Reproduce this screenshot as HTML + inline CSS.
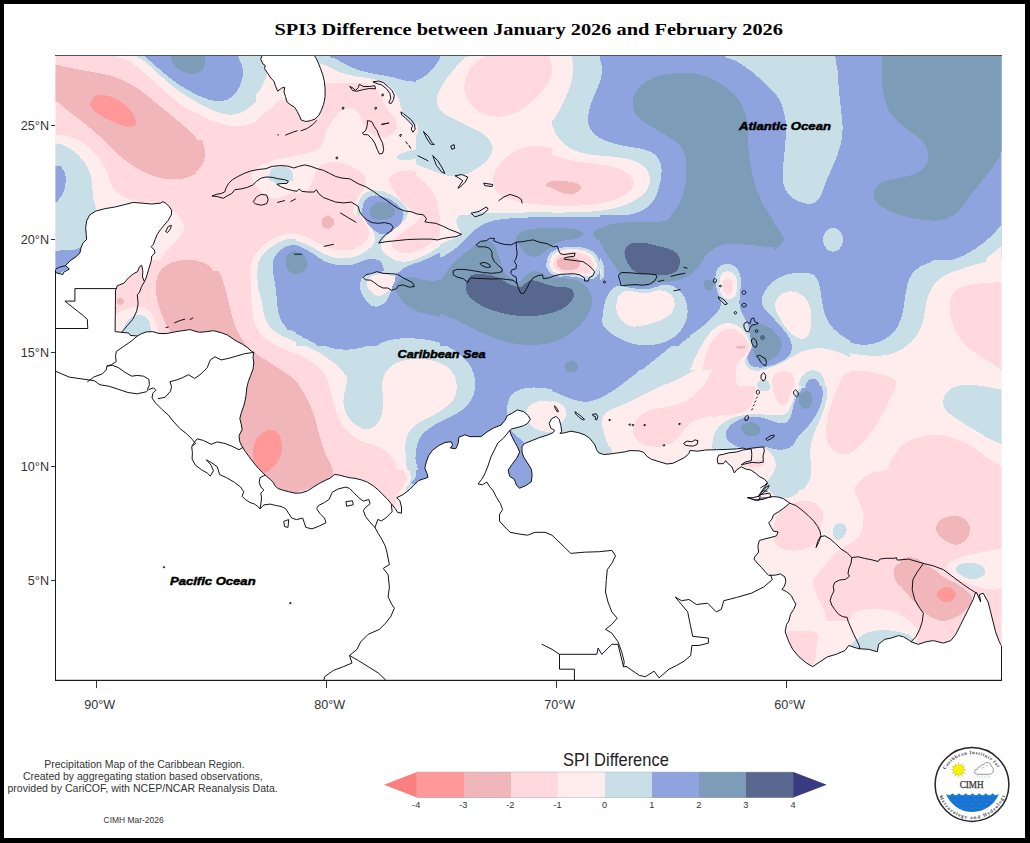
<!DOCTYPE html><html><head><meta charset="utf-8"><title>SPI3 Difference</title>
<style>html,body{margin:0;padding:0;background:#fff;}body{width:1030px;height:843px;overflow:hidden;font-family:"Liberation Sans",sans-serif;}svg{display:block}text{font-family:"Liberation Sans",sans-serif}</style></head><body>
<svg width="1030" height="843" viewBox="0 0 1030 843">
<rect x="0" y="0" width="1030" height="843" fill="#fff"/>
<defs><clipPath id="mapclip"><rect x="55.5" y="55.5" width="946" height="625"/></clipPath><clipPath id="cA"><rect x="40" y="50" width="256" height="210"/></clipPath><clipPath id="cB"><rect x="296" y="50" width="256" height="210"/></clipPath><clipPath id="cC"><rect x="552" y="50" width="256" height="210"/></clipPath><clipPath id="cD"><rect x="774" y="50" width="256" height="210"/></clipPath><clipPath id="cE"><rect x="40" y="260" width="256" height="210"/></clipPath><clipPath id="cF"><rect x="296" y="260" width="256" height="210"/></clipPath><clipPath id="cG"><rect x="552" y="260" width="256" height="210"/></clipPath><clipPath id="cH"><rect x="774" y="260" width="256" height="210"/></clipPath><clipPath id="cI"><rect x="40" y="470" width="256" height="210"/></clipPath><clipPath id="cJ"><rect x="296" y="470" width="256" height="210"/></clipPath><clipPath id="cK"><rect x="552" y="470" width="256" height="210"/></clipPath><clipPath id="cL"><rect x="774" y="470" width="256" height="210"/></clipPath><clipPath id="cPR"><rect x="590" y="215" width="160" height="131"/></clipPath><clipPath id="cG2"><rect x="690" y="255" width="160" height="131"/></clipPath><clipPath id="cG3"><rect x="690" y="386" width="160" height="131"/></clipPath><clipPath id="cG4"><rect x="552" y="370" width="160" height="131"/></clipPath><clipPath id="cWC"><rect x="196" y="140" width="100" height="131"/></clipPath><clipPath id="cJM"><rect x="296" y="215" width="160" height="131"/></clipPath><clipPath id="cHS"><rect x="440" y="215" width="160" height="131"/></clipPath><clipPath id="cL2"><rect x="740" y="490" width="160" height="131"/></clipPath><clipPath id="cW1"><rect x="245" y="235" width="51" height="95"/></clipPath><clipPath id="cFL"><rect x="256" y="56" width="160" height="125"/></clipPath></defs>
<g clip-path="url(#mapclip)" shape-rendering="crispEdges">
<g clip-path="url(#cA)">
<rect x="39" y="49" width="258" height="212" fill="#ffd9de"/>
<path d="M25.1,63.7C30.1,57.9 48.8,64.4 55.4,64.9C62.1,65.5 60.8,66.1 64.9,66.9C69.0,67.8 74.9,69.0 79.8,69.9C84.8,70.8 89.4,71.4 94.8,72.4C100.2,73.4 107.2,74.7 112.2,76.1C117.2,77.6 120.1,78.8 124.7,81.1C129.2,83.4 135.0,86.7 139.6,89.8C144.2,93.0 147.9,96.5 152.1,99.8C156.2,103.1 159.9,106.0 164.5,109.8C169.1,113.5 174.5,117.9 179.4,122.2C184.4,126.6 190.4,131.5 194.4,135.9C198.3,140.3 201.4,144.8 203.1,148.4C204.8,151.9 205.0,154.0 204.8,157.1C204.6,160.2 203.6,164.1 201.9,167.0C200.1,169.9 197.3,172.6 194.4,174.5C191.5,176.4 187.7,177.4 184.4,178.2C181.1,179.1 178.2,179.5 174.5,179.5C170.7,179.5 166.2,179.1 162.0,178.2C157.9,177.4 153.3,176.0 149.6,174.5C145.8,173.0 142.9,171.4 139.6,169.5C136.3,167.7 133.0,165.6 129.6,163.3C126.3,161.0 122.6,158.3 119.7,155.8C116.8,153.3 114.7,150.8 112.2,148.4C109.7,145.9 107.6,143.6 104.7,140.9C101.8,138.2 98.1,135.1 94.8,132.2C91.5,129.3 88.1,126.2 84.8,123.5C81.5,120.8 78.2,118.5 74.9,116.0C71.5,113.5 68.1,110.9 64.9,108.5C61.7,106.1 62.1,103.0 55.4,101.5C48.8,100.1 30.1,106.1 25.1,99.8C20.0,93.5 20.0,69.5 25.1,63.7Z" fill="#f0b6b9"/>
<path d="M90.5,103.5C91.0,101.9 91.8,98.8 93.5,97.3C95.3,95.9 97.9,94.8 101.0,94.8C104.1,94.8 108.5,95.9 112.2,97.3C115.9,98.8 120.1,101.0 123.4,103.5C126.7,106.0 130.1,109.3 132.1,112.3C134.2,115.2 135.5,118.7 135.9,121.0C136.3,123.2 136.1,125.0 134.6,125.9C133.2,126.9 130.1,127.1 127.2,126.7C124.2,126.3 120.7,124.8 117.2,123.5C113.7,122.1 109.5,120.3 106.0,118.5C102.5,116.6 98.5,114.1 96.0,112.3C93.5,110.4 92.0,108.7 91.0,107.3C90.1,105.8 90.1,105.2 90.5,103.5Z" fill="#ff9999"/>
<path d="M115.7,35.1C83.1,38.4 113.8,50.8 115.7,55.0C117.6,59.1 123.2,57.7 127.2,60.0C131.1,62.2 135.5,65.4 139.6,68.7C143.8,72.0 147.9,76.1 152.1,79.9C156.2,83.6 159.9,87.1 164.5,91.1C169.1,95.0 174.5,100.0 179.4,103.5C184.4,107.1 189.4,109.6 194.4,112.3C199.4,114.9 204.3,117.6 209.3,119.7C214.3,121.8 219.3,123.7 224.3,124.7C229.2,125.7 234.6,126.2 239.2,125.9C243.8,125.7 247.5,124.9 251.7,123.5C255.8,122.0 260.0,119.7 264.1,117.2C268.3,114.7 272.8,110.8 276.6,108.5C280.3,106.2 280.7,105.4 286.5,103.5C292.3,101.7 307.3,108.7 311.4,97.3C315.6,85.9 344.0,45.4 311.4,35.1C278.8,24.7 148.3,31.7 115.7,35.1Z" fill="#ffecec"/>
<path d="M135.6,35.1C106.3,38.4 134.1,50.6 135.6,55.0C137.1,59.3 141.0,58.3 144.6,61.2C148.2,64.1 152.9,68.7 157.0,72.4C161.2,76.1 164.9,79.9 169.5,83.6C174.0,87.4 179.4,91.5 184.4,94.8C189.4,98.1 194.4,100.8 199.4,103.5C204.3,106.2 209.3,109.1 214.3,111.0C219.3,112.9 224.7,114.5 229.2,114.7C233.8,114.9 237.5,114.1 241.7,112.3C245.8,110.4 250.4,106.9 254.1,103.5C257.9,100.2 261.2,95.9 264.1,92.3C267.0,88.8 269.7,85.3 271.6,82.4C273.4,79.5 268.7,77.8 275.3,74.9C281.9,72.0 305.4,71.6 311.4,64.9C317.4,58.3 340.7,40.0 311.4,35.1C282.1,30.1 164.9,31.7 135.6,35.1Z" fill="#c9dfe7"/>
<path d="M144.6,35.1C129.0,38.4 143.3,50.4 144.6,55.0C145.8,59.5 148.7,59.3 152.1,62.5C155.4,65.6 159.9,69.9 164.5,73.7C169.1,77.4 174.5,81.5 179.4,84.9C184.4,88.2 189.4,91.1 194.4,93.6C199.4,96.1 204.8,98.6 209.3,99.8C213.9,101.0 218.0,101.5 221.8,101.0C225.5,100.6 228.8,99.6 231.7,97.3C234.6,95.0 237.3,91.1 239.2,87.4C241.1,83.6 242.5,78.6 242.9,74.9C243.4,71.2 242.5,68.3 241.7,64.9C240.9,61.6 238.6,60.0 238.0,55.0C237.3,50.0 253.5,38.4 238.0,35.1C222.4,31.7 160.1,31.7 144.6,35.1Z" fill="#8fa3de"/>
<path d="M170.5,35.1C164.8,38.4 170.0,50.2 170.5,55.0C170.9,59.8 171.7,61.2 173.2,63.7C174.7,66.2 176.7,68.3 179.4,69.9C182.1,71.6 186.1,73.2 189.4,73.7C192.7,74.1 196.9,73.7 199.4,72.4C201.9,71.2 203.4,69.1 204.3,66.2C205.3,63.3 204.8,60.2 204.8,55.0C204.9,49.8 210.6,38.4 204.8,35.1C199.1,31.7 176.2,31.7 170.5,35.1Z" fill="#7c9cb8"/>
<path d="M25.1,134.7C30.1,119.7 48.4,134.5 55.4,134.7C62.5,134.9 63.3,134.9 67.4,135.9C71.5,136.9 76.1,138.8 79.8,140.9C83.6,143.0 86.7,145.7 89.8,148.4C92.9,151.1 96.0,154.0 98.5,157.1C101.0,160.2 103.1,163.7 104.7,167.0C106.4,170.4 107.2,173.7 108.5,177.0C109.7,180.3 110.3,184.0 112.2,187.0C114.1,189.9 116.8,192.3 119.7,194.4C122.6,196.5 126.3,198.1 129.6,199.4C133.0,200.7 137.1,198.2 139.6,202.4C142.1,206.5 152.9,220.7 144.6,224.3C136.3,228.0 109.7,224.3 89.8,224.3C69.9,224.3 35.8,239.2 25.1,224.3C14.3,209.4 20.0,149.6 25.1,134.7Z" fill="#ffecec"/>
<path d="M25.1,143.4C30.1,121.6 48.8,143.0 55.4,143.4C62.1,143.8 61.7,144.4 64.9,145.9C68.1,147.3 72.0,149.8 74.9,152.1C77.8,154.4 80.3,157.1 82.3,159.6C84.4,162.1 85.9,164.1 87.3,167.0C88.8,169.9 90.2,173.7 91.0,177.0C91.9,180.3 91.9,183.2 92.3,187.0C92.7,190.7 92.9,195.7 93.5,199.4C94.2,203.1 95.4,205.2 96.0,209.4C96.6,213.5 97.1,213.5 97.3,224.3C97.5,235.1 109.3,265.8 97.3,274.1C85.2,282.4 37.1,295.9 25.1,274.1C13.0,252.3 20.0,165.2 25.1,143.4Z" fill="#c9dfe7"/>
<path d="M25.1,165.8C30.1,159.8 49.4,165.6 55.4,165.8C61.5,166.0 59.6,165.8 61.2,167.0C62.7,168.3 64.2,170.8 64.9,173.3C65.6,175.7 65.9,178.9 65.6,182.0C65.4,185.1 64.8,189.0 63.7,191.9C62.5,194.8 60.0,197.7 58.7,199.4C57.3,201.1 61.0,201.5 55.4,201.9C49.8,202.3 30.1,207.9 25.1,201.9C20.0,195.9 20.0,171.8 25.1,165.8Z" fill="#8fa3de"/>
<path d="M25.1,250.7C30.1,246.8 48.8,250.8 55.4,250.7C62.1,250.6 61.7,250.2 64.9,250.0C68.1,249.7 72.0,249.6 74.9,249.5C77.8,249.3 81.1,245.1 82.3,249.2C83.6,253.3 91.9,270.0 82.3,274.1C72.8,278.3 34.6,278.0 25.1,274.1C15.5,270.2 20.0,254.6 25.1,250.7Z" fill="#8fa3de"/>
<path d="M165.7,206.9C171.6,207.7 171.8,209.6 174.5,211.9C177.2,214.1 180.4,217.7 181.9,220.6C183.5,223.5 184.8,226.0 183.9,229.3C183.1,232.6 179.8,237.0 177.0,240.5C174.1,244.0 169.9,246.9 167.0,250.4C164.1,254.0 161.2,257.7 159.5,261.7C157.9,265.6 160.4,272.0 157.0,274.1C153.7,276.2 142.5,285.3 139.6,274.1C136.7,262.9 135.2,218.1 139.6,206.9C144.0,195.7 159.9,206.0 165.7,206.9Z" fill="#ffecec"/>
<path d="M311.4,152.1C308.8,144.4 301.0,152.6 296.0,153.3C291.0,154.1 286.4,155.1 281.5,156.6C276.6,158.0 271.0,159.9 266.6,162.1C262.2,164.2 257.9,166.8 255.4,169.5C252.9,172.2 251.8,175.3 251.7,178.2C251.5,181.1 253.0,184.3 254.6,187.0C256.3,189.6 258.4,192.3 261.6,194.4C264.9,196.5 269.5,198.4 274.1,199.4C278.6,200.4 282.8,200.6 289.0,200.6C295.2,200.6 307.7,207.5 311.4,199.4C315.1,191.3 314.0,159.8 311.4,152.1Z" fill="#ffecec"/>
<path d="M311.4,165.0C308.8,162.5 300.5,165.8 296.0,165.8C291.4,165.8 287.7,164.7 284.0,165.0C280.4,165.3 276.6,166.2 274.1,167.5C271.6,168.9 269.5,171.3 269.1,173.3C268.7,175.2 269.9,178.0 271.6,179.5C273.2,180.9 276.1,181.6 279.0,182.0C281.9,182.4 286.2,182.1 289.0,182.0C291.8,181.9 292.2,181.7 296.0,181.5C299.7,181.3 308.8,183.5 311.4,180.7C314.0,178.0 314.0,167.5 311.4,165.0Z" fill="#c9dfe7"/>
<path d="M272.8,274.1C267.0,271.7 274.9,264.1 276.6,259.9C278.2,255.8 280.7,252.4 282.8,249.2C284.9,246.0 286.8,243.0 289.0,240.5C291.2,238.0 292.2,236.1 296.0,234.3C299.7,232.4 308.8,222.6 311.4,229.3C314.0,235.9 317.8,266.6 311.4,274.1C305.0,281.6 278.6,276.5 272.8,274.1Z" fill="#ffecec"/>
<path d="M276.6,274.1C271.4,271.7 278.8,263.6 280.3,259.9C281.7,256.2 283.4,254.3 285.3,251.7C287.1,249.1 289.7,246.1 291.5,244.2C293.3,242.4 292.7,241.7 296.0,240.5C299.3,239.2 308.8,231.2 311.4,236.8C314.0,242.4 317.2,267.9 311.4,274.1C305.6,280.3 281.7,276.5 276.6,274.1Z" fill="#c9dfe7"/>
<path d="M281.5,274.1C277.2,271.7 284.0,263.4 285.3,259.9C286.5,256.4 287.2,255.1 289.0,252.9C290.8,250.7 292.2,248.2 296.0,246.7C299.7,245.3 308.8,239.7 311.4,244.2C314.0,248.8 316.4,269.1 311.4,274.1C306.4,279.1 285.9,276.5 281.5,274.1Z" fill="#8fa3de"/>
<path d="M290.2,274.1C286.9,271.7 290.9,263.2 291.5,259.9C292.1,256.6 293.2,255.5 294.0,254.2C294.7,252.9 293.1,252.6 296.0,252.2C298.9,251.8 308.8,248.0 311.4,251.7C314.0,255.3 314.9,270.4 311.4,274.1C307.9,277.8 293.6,276.5 290.2,274.1Z" fill="#7c9cb8"/>
</g>
<g clip-path="url(#cB)">
<rect x="295" y="49" width="258" height="212" fill="#ffecec"/>
<path d="M314.7,35.1C289.2,38.4 314.1,50.8 314.7,55.0C315.3,59.1 316.5,58.2 318.4,60.0C320.3,61.7 323.0,63.8 325.9,65.4C328.8,67.1 331.7,68.8 335.8,69.9C340.0,71.1 345.8,71.8 350.8,72.4C355.8,73.0 361.2,73.2 365.7,73.7C370.3,74.2 374.4,74.4 378.2,75.4C381.9,76.4 385.2,77.8 388.1,79.4C391.0,81.0 393.3,82.5 395.6,84.9C397.9,87.2 400.2,90.5 401.8,93.6C403.5,96.7 404.3,100.4 405.6,103.5C406.8,106.6 407.8,109.6 409.3,112.3C410.7,114.9 412.8,117.2 414.3,119.7C415.7,122.2 417.6,124.7 418.0,127.2C418.4,129.7 418.0,132.4 416.8,134.7C415.5,136.9 412.8,139.0 410.5,140.9C408.3,142.8 405.4,144.2 403.1,145.9C400.8,147.5 398.1,149.4 396.8,150.8C395.6,152.3 395.0,153.3 395.6,154.6C396.2,155.8 398.1,157.1 400.6,158.3C403.1,159.6 406.8,160.6 410.5,162.1C414.3,163.5 418.8,165.4 423.0,167.0C427.1,168.7 431.7,170.6 435.4,172.0C439.2,173.4 442.1,174.5 445.4,175.2C448.7,176.0 452.0,176.6 455.4,176.5C458.7,176.4 462.0,175.7 465.3,174.5C468.6,173.3 472.2,171.4 475.3,169.5C478.4,167.7 481.5,165.6 484.0,163.3C486.5,161.0 488.8,158.3 490.2,155.8C491.7,153.3 492.7,150.8 492.7,148.4C492.7,145.9 491.7,143.2 490.2,140.9C488.8,138.6 486.5,136.5 484.0,134.7C481.5,132.8 478.4,131.3 475.3,129.7C472.2,128.0 468.6,126.4 465.3,124.7C462.0,123.0 458.7,121.4 455.4,119.7C452.0,118.1 448.1,116.6 445.4,114.7C442.7,112.9 440.6,111.0 439.2,108.5C437.7,106.0 436.7,102.7 436.7,99.8C436.7,96.9 437.9,94.0 439.2,91.1C440.4,88.2 442.3,85.3 444.2,82.4C446.0,79.5 448.1,76.6 450.4,73.7C452.7,70.8 455.4,67.6 457.9,64.9C460.3,62.2 463.7,59.1 465.3,57.5C467.0,55.8 467.4,58.7 467.8,55.0C468.2,51.2 493.3,38.4 467.8,35.1C442.3,31.7 340.2,31.7 314.7,35.1Z" fill="#c9dfe7"/>
<path d="M333.4,35.1C315.5,38.4 332.7,50.8 333.4,55.0C334.0,59.1 335.0,58.5 337.1,60.0C339.2,61.4 342.7,62.7 345.8,63.7C348.9,64.7 351.6,65.4 355.8,66.2C359.9,67.0 366.1,67.6 370.7,68.7C375.3,69.7 379.0,71.0 383.2,72.4C387.3,73.9 391.9,76.1 395.6,77.4C399.3,78.7 402.2,79.9 405.6,80.4C408.9,80.9 412.6,80.9 415.5,80.4C418.4,79.9 420.5,78.9 423.0,77.4C425.5,75.9 428.2,73.4 430.5,71.2C432.7,68.9 435.0,66.4 436.7,63.7C438.3,61.0 439.8,59.8 440.4,55.0C441.0,50.2 458.3,38.4 440.4,35.1C422.6,31.7 351.2,31.7 333.4,35.1Z" fill="#8fa3de"/>
<path d="M281.1,153.3C283.5,166.3 291.0,152.8 296.0,152.6C301.0,152.4 307.0,152.8 310.9,152.1C314.9,151.4 317.7,150.4 319.7,148.4C321.6,146.3 322.1,142.8 322.9,139.6C323.7,136.5 323.9,132.8 324.6,129.7C325.3,126.6 325.9,123.7 327.1,121.0C328.4,118.3 330.2,115.4 332.1,113.5C334.0,111.5 336.0,110.2 338.3,109.3C340.6,108.3 343.3,107.7 345.8,107.8C348.3,107.9 351.0,108.5 353.3,109.8C355.6,111.0 357.6,113.2 359.5,115.2C361.4,117.3 363.0,120.0 364.5,122.2C365.9,124.4 366.8,126.4 368.2,128.4C369.7,130.5 371.1,133.1 373.2,134.7C375.3,136.2 378.0,137.4 380.7,137.6C383.4,137.9 386.9,137.0 389.4,135.9C391.9,134.8 394.1,132.8 395.6,130.9C397.1,129.1 398.4,127.0 398.6,124.7C398.8,122.4 398.0,119.5 396.8,117.2C395.7,114.9 393.5,113.3 391.9,111.0C390.2,108.7 388.3,106.0 386.9,103.5C385.4,101.0 384.6,98.3 383.2,96.1C381.7,93.8 380.2,91.7 378.2,89.8C376.1,88.0 373.6,86.2 370.7,84.9C367.8,83.5 364.1,82.4 360.7,81.9C357.4,81.4 354.1,81.8 350.8,81.9C347.5,82.0 344.1,82.2 340.8,82.4C337.5,82.5 333.4,82.9 330.9,82.9C328.4,82.9 329.2,83.7 325.9,82.4C322.6,81.0 318.4,76.1 310.9,74.9C303.5,73.7 286.0,61.8 281.1,74.9C276.1,88.0 278.6,140.4 281.1,153.3Z" fill="#ffd9de"/>
<path d="M484.7,40.7C474.0,43.1 485.3,52.5 484.7,55.4C484.0,58.4 482.7,56.9 480.8,58.5C478.8,60.2 475.3,62.8 473.0,65.5C470.7,68.3 468.2,71.7 466.8,74.9C465.4,78.0 464.7,81.1 464.5,84.2C464.2,87.3 464.3,90.4 465.2,93.5C466.1,96.6 467.8,100.0 469.9,102.8C472.0,105.7 474.8,108.5 477.7,110.6C480.5,112.7 483.6,114.2 487.0,115.2C490.4,116.3 494.2,116.8 497.9,116.8C501.5,116.8 505.1,116.3 508.7,115.2C512.4,114.2 516.0,112.7 519.6,110.6C523.2,108.5 527.1,105.7 530.5,102.8C533.9,100.0 537.0,96.6 539.8,93.5C542.7,90.4 545.6,87.3 547.6,84.2C549.5,81.1 550.7,78.0 551.5,74.9C552.2,71.7 552.3,68.6 551.9,65.5C551.5,62.4 549.7,60.4 549.1,56.2C548.5,52.1 559.1,43.3 548.3,40.7C537.6,38.1 495.3,38.2 484.7,40.7Z" fill="#ffd9de"/>
<path d="M567.4,148.4C564.8,138.8 556.5,148.8 552.0,148.4C547.4,147.9 544.1,146.2 540.0,145.9C536.0,145.6 531.7,145.8 527.6,146.6C523.4,147.4 518.9,148.9 515.1,150.8C511.4,152.8 508.3,155.4 505.2,158.3C502.1,161.2 498.5,164.7 496.4,168.3C494.4,171.8 492.9,176.0 492.7,179.5C492.5,183.0 493.5,186.5 495.2,189.4C496.9,192.3 499.8,195.2 502.7,196.9C505.6,198.7 508.9,198.9 512.6,199.9C516.4,200.9 520.9,202.4 525.1,203.1C529.2,203.9 533.1,204.0 537.5,204.4C542.0,204.8 547.0,205.4 552.0,205.6C557.0,205.8 564.8,215.2 567.4,205.6C570.0,196.1 570.0,157.9 567.4,148.4Z" fill="#ffd9de"/>
<path d="M567.4,181.5C564.8,180.5 555.3,181.3 552.0,181.5C548.7,181.7 548.4,182.1 547.5,182.7C546.5,183.3 546.2,184.3 546.2,185.0C546.3,185.7 547.0,186.5 548.0,187.0C548.9,187.4 548.7,187.4 552.0,187.5C555.2,187.5 564.8,188.4 567.4,187.5C570.0,186.5 570.0,182.5 567.4,181.5Z" fill="#f0b6b9"/>
<path d="M286.7,194.6C288.2,188.0 292.9,195.1 296.0,194.6C299.1,194.1 303.0,192.9 305.3,191.5C307.7,190.1 308.7,188.3 310.0,186.1C311.3,183.9 311.8,181.1 313.1,178.3C314.4,175.5 315.7,171.4 317.7,169.0C319.8,166.5 322.7,164.7 325.5,163.5C328.4,162.4 331.5,161.9 334.8,162.0C338.2,162.1 342.3,163.2 345.7,164.3C349.1,165.5 352.3,167.2 355.0,169.0C357.7,170.8 360.3,173.0 362.0,175.2C363.7,177.4 364.7,180.0 365.1,182.2C365.5,184.4 365.1,186.5 364.3,188.4C363.6,190.3 361.9,191.6 360.5,193.8C359.0,196.0 357.0,199.0 355.8,201.6C354.6,204.2 353.7,206.8 353.5,209.4C353.2,212.0 353.5,214.5 354.3,217.1C355.0,219.7 356.5,222.3 358.1,224.9C359.8,227.5 362.4,230.2 364.3,232.7C366.3,235.1 368.5,237.6 369.8,239.7C371.1,241.7 372.2,243.3 372.1,245.1C372.0,246.9 370.6,249.0 369.0,250.5C367.5,252.1 365.1,253.4 362.8,254.4C360.5,255.5 357.9,256.4 355.0,256.7C352.2,257.1 348.8,257.1 345.7,256.7C342.6,256.4 339.5,255.5 336.4,254.4C333.3,253.4 330.2,252.1 327.1,250.5C324.0,249.0 320.6,246.9 317.7,245.1C314.9,243.3 312.6,241.2 310.0,239.7C307.4,238.1 304.5,236.7 302.2,235.8C299.9,234.9 298.6,234.5 296.0,234.2C293.4,234.0 288.2,240.8 286.7,234.2C285.1,227.6 285.1,201.2 286.7,194.6Z" fill="#ffd9de"/>
<path d="M334.1,222.6C334.1,223.6 333.7,224.8 333.2,225.7C332.7,226.6 331.8,227.4 331.0,228.0C330.1,228.5 328.9,228.8 327.8,228.8C326.8,228.8 325.6,228.5 324.7,228.0C323.8,227.4 323.0,226.6 322.5,225.7C321.9,224.8 321.6,223.6 321.6,222.6C321.6,221.5 321.9,220.4 322.5,219.5C323.0,218.6 323.8,217.7 324.7,217.2C325.6,216.7 326.8,216.4 327.8,216.4C328.9,216.4 330.1,216.7 331.0,217.2C331.8,217.7 332.7,218.6 333.2,219.5C333.7,220.4 334.1,221.5 334.1,222.6Z" fill="#f0b6b9"/>
<path d="M388.2,177.6C388.5,176.0 390.0,174.8 391.6,173.8C393.1,172.7 395.3,171.9 397.4,171.6C399.5,171.3 401.9,171.5 404.2,171.8C406.5,172.2 408.7,172.9 411.0,173.8C413.3,174.6 415.6,175.7 417.8,177.2C420.1,178.6 422.5,180.5 424.6,182.5C426.7,184.5 428.7,186.9 430.5,189.3C432.3,191.8 434.1,194.5 435.3,197.1C436.6,199.7 437.3,202.5 437.8,204.9C438.3,207.3 438.4,209.6 438.3,211.7C438.1,213.8 437.3,215.6 436.8,217.5C436.3,219.5 435.7,221.4 435.3,223.4C435.0,225.3 435.0,227.3 434.9,229.2C434.7,231.1 434.5,233.1 434.4,235.0C434.2,237.0 434.1,239.1 433.9,240.9C433.7,242.7 433.6,244.3 433.2,245.7C432.8,247.2 432.8,248.4 431.4,249.6C430.1,250.8 427.6,252.0 424.9,252.8C422.3,253.6 419.0,254.3 415.6,254.4C412.2,254.5 408.1,254.3 404.7,253.6C401.3,253.0 397.7,251.8 395.5,250.5C393.2,249.2 391.9,247.0 391.1,245.7C390.3,244.5 390.2,243.6 390.6,242.8C391.0,242.0 392.2,241.8 393.5,240.9C394.8,239.9 396.6,238.4 398.4,237.0C400.2,235.5 402.3,233.7 404.2,232.1C406.2,230.5 408.3,228.9 410.0,227.3C411.8,225.6 413.9,224.0 414.9,222.4C416.0,220.8 416.5,219.2 416.4,217.5C416.2,215.9 415.2,214.1 413.9,212.7C412.7,211.2 410.7,210.2 409.1,208.8C407.5,207.3 406.0,205.9 404.2,203.9C402.4,202.0 400.2,199.4 398.4,197.1C396.6,194.8 395.0,192.6 393.5,190.3C392.1,188.0 390.5,185.6 389.6,183.5C388.7,181.4 387.8,179.3 388.2,177.6Z" fill="#ffd9de"/>
<path d="M286.7,239.7C289.2,233.9 292.9,239.1 296.0,239.7C299.1,240.2 302.2,241.3 305.3,242.8C308.4,244.2 311.5,246.3 314.6,248.2C317.7,250.1 320.9,252.6 324.0,254.4C327.1,256.2 330.2,257.9 333.3,259.1C336.4,260.2 339.5,260.9 342.6,261.4C345.7,261.9 348.8,262.1 351.9,261.9C355.0,261.6 358.4,260.8 361.2,259.9C364.1,258.9 366.9,257.5 369.0,256.0C371.1,254.4 372.8,252.5 373.7,250.5C374.6,248.6 375.0,246.4 374.4,244.3C373.9,242.2 372.1,240.3 370.6,238.1C369.0,235.9 366.8,233.6 365.1,231.1C363.4,228.7 361.8,226.1 360.5,223.3C359.2,220.6 357.9,217.7 357.4,214.8C356.8,212.0 356.8,209.1 357.4,206.3C357.9,203.4 358.9,200.0 360.5,197.7C362.0,195.4 364.2,193.5 366.7,192.3C369.1,191.1 372.2,190.5 375.2,190.4C378.2,190.4 381.4,191.0 384.5,192.0C387.7,192.9 391.0,194.6 393.9,196.2C396.7,197.8 399.4,199.5 401.6,201.6C403.8,203.7 405.9,206.1 407.1,208.6C408.2,211.1 408.6,213.9 408.6,216.4C408.6,218.8 408.0,221.3 407.1,223.3C406.2,225.4 404.7,227.1 403.2,228.8C401.6,230.5 399.7,232.0 397.7,233.4C395.8,234.9 393.7,235.9 391.5,237.3C389.3,238.8 386.4,240.4 384.5,242.0C382.7,243.5 381.2,244.8 380.7,246.7C380.1,248.5 380.5,250.9 381.4,252.9C382.3,254.8 384.2,256.7 386.1,258.3C388.0,259.9 390.5,261.3 393.1,262.2C395.7,263.1 398.7,263.7 401.6,263.7C404.6,263.7 407.8,263.1 411.0,262.2C414.1,261.3 417.2,259.9 420.3,258.3C423.4,256.7 426.5,254.9 429.6,252.9C432.7,250.8 436.5,247.9 438.9,245.9C441.3,243.9 442.4,242.7 444.1,240.9C445.8,239.1 447.5,237.0 449.0,235.0C450.4,233.1 451.6,231.0 452.8,229.2C454.1,227.4 455.3,226.0 456.7,224.3C458.2,222.7 459.7,221.1 461.6,219.5C463.5,217.9 466.0,215.9 468.4,214.6C470.8,213.3 472.4,211.9 476.0,211.7C479.6,211.4 484.9,212.9 490.2,213.1C495.5,213.3 501.4,213.2 507.7,213.1C513.9,213.0 520.2,212.6 527.6,212.4C535.0,212.1 545.3,211.9 552.0,211.9C558.6,211.8 564.8,201.5 567.4,211.9C570.0,222.2 615.1,263.7 567.4,274.1C519.7,284.5 327.8,279.8 281.1,274.1C234.3,268.4 284.2,245.4 286.7,239.7Z" fill="#c9dfe7"/>
<path d="M362.8,206.3C363.3,203.9 363.8,201.7 365.1,200.0C366.4,198.4 368.4,196.9 370.6,196.2C372.8,195.4 375.5,195.3 378.3,195.7C381.2,196.1 384.8,197.3 387.7,198.5C390.5,199.7 393.1,201.3 395.4,203.2C397.7,205.0 400.2,207.2 401.6,209.4C403.1,211.6 403.8,214.2 404.0,216.4C404.1,218.6 403.6,220.6 402.4,222.6C401.2,224.5 399.2,226.5 397.0,228.0C394.8,229.6 391.8,230.9 389.2,231.9C386.6,232.9 384.0,234.1 381.4,234.2C378.8,234.4 376.0,233.7 373.7,232.7C371.3,231.6 369.1,229.8 367.5,228.0C365.8,226.2 364.5,224.1 363.6,221.8C362.7,219.5 362.1,216.6 362.0,214.0C361.9,211.4 362.3,208.6 362.8,206.3Z" fill="#8fa3de"/>
<path d="M369.8,212.5C369.9,210.4 370.7,207.9 372.1,206.3C373.5,204.6 376.0,203.0 378.3,202.4C380.7,201.7 383.8,201.7 386.1,202.4C388.4,203.0 390.8,204.6 392.3,206.3C393.9,207.9 395.0,210.4 395.4,212.5C395.8,214.5 395.7,217.0 394.6,218.7C393.6,220.4 391.3,221.7 389.2,222.6C387.1,223.5 384.5,224.1 382.2,224.1C379.9,224.1 377.0,223.5 375.2,222.6C373.4,221.7 372.2,220.4 371.3,218.7C370.4,217.0 369.7,214.5 369.8,212.5Z" fill="#7c9cb8"/>
<path d="M286.7,244.3C288.2,236.0 293.2,244.7 296.0,245.1C298.8,245.5 301.2,245.7 303.8,246.7C306.4,247.6 308.9,249.0 311.5,250.5C314.1,252.1 316.7,254.3 319.3,256.0C321.9,257.7 324.5,259.2 327.1,260.6C329.7,262.1 332.2,263.6 334.8,264.5C337.4,265.4 339.8,265.9 342.6,266.1C345.4,266.2 348.8,266.1 351.9,265.6C355.0,265.1 358.4,263.8 361.2,263.0C364.1,262.1 366.4,261.0 369.0,260.6C371.6,260.2 374.7,260.1 376.8,260.6C378.8,261.1 380.4,262.4 381.4,263.7C382.5,265.0 383.1,266.7 383.0,268.4C382.9,270.1 382.0,272.3 380.7,273.8C379.4,275.4 377.2,276.8 375.2,277.7C373.3,278.6 370.8,279.3 369.0,279.3C367.2,279.3 365.6,277.7 364.3,277.7C363.1,277.7 362.0,277.9 361.2,279.3C360.5,280.6 359.9,283.4 359.7,286.0C359.4,288.5 371.9,293.3 359.7,294.8C347.5,296.3 298.8,303.2 286.7,294.8C274.5,286.4 285.1,252.6 286.7,244.3Z" fill="#8fa3de"/>
<path d="M286.7,252.9C288.2,249.4 293.7,252.6 296.0,252.9C298.3,253.1 299.1,253.4 300.7,254.4C302.2,255.5 304.3,257.4 305.3,259.1C306.4,260.8 307.0,262.7 306.9,264.5C306.7,266.3 305.7,268.5 304.5,270.0C303.4,271.4 301.3,272.4 299.9,273.1C298.5,273.7 298.2,273.7 296.0,273.8C293.8,274.0 288.2,277.3 286.7,273.8C285.1,270.3 285.1,256.4 286.7,252.9Z" fill="#7c9cb8"/>
<path d="M450.4,274.1C431.3,271.7 452.0,264.4 452.9,259.9C453.8,255.4 454.9,250.0 455.9,247.0C456.8,243.9 457.5,243.6 458.6,241.7C459.7,239.9 461.3,237.9 462.6,236.0C463.9,234.1 465.1,232.1 466.6,230.3C468.0,228.5 469.7,226.6 471.3,225.3C472.9,224.0 472.9,223.2 476.0,222.3C479.2,221.4 485.0,220.5 490.2,219.8C495.5,219.1 501.4,218.5 507.7,218.1C513.9,217.7 520.2,217.6 527.6,217.3C535.0,217.0 545.3,216.5 552.0,216.3C558.6,216.2 564.8,206.7 567.4,216.3C570.0,226.0 586.9,264.5 567.4,274.1C547.9,283.7 469.5,276.5 450.4,274.1Z" fill="#8fa3de"/>
<path d="M546.6,183.7C546.6,182.7 548.9,181.8 551.3,181.4C553.6,180.9 557.5,180.8 560.6,180.9C563.7,180.9 567.1,181.2 569.9,181.7C572.8,182.1 575.9,182.8 577.7,183.7C579.5,184.5 580.5,185.6 580.8,186.8C581.0,188.0 580.5,189.5 579.2,190.7C577.9,191.8 575.1,193.2 573.0,193.8C570.9,194.4 569.1,194.6 566.8,194.3C564.5,193.9 561.6,192.6 559.0,191.5C556.4,190.3 553.3,188.9 551.3,187.6C549.2,186.3 546.6,184.7 546.6,183.7Z" fill="#f0b6b9"/>
<path d="M517.1,235.7C518.1,233.5 519.4,232.2 521.7,231.1C524.1,229.9 526.9,229.3 531.1,228.7C535.2,228.1 541.4,227.6 546.6,227.5C551.8,227.4 557.5,227.6 562.1,228.0C566.8,228.3 571.3,228.7 574.6,229.5C577.8,230.3 580.5,231.5 581.6,232.6C582.6,233.8 581.9,235.2 580.8,236.5C579.6,237.8 577.2,239.1 574.6,240.4C572.0,241.7 567.8,242.3 565.2,244.3C562.7,246.2 560.1,249.4 559.0,252.0C558.0,254.6 566.3,258.5 559.0,259.8C551.8,261.1 522.8,262.4 515.5,259.8C508.3,257.2 515.3,248.3 515.5,244.3C515.8,240.3 516.1,237.9 517.1,235.7Z" fill="#7c9cb8"/>
</g>
<g clip-path="url(#cC)">
<rect x="551" y="49" width="258" height="212" fill="#8fa3de"/>
<path d="M632.9,104.8C632.7,101.7 632.7,98.1 634.2,94.8C635.6,91.5 638.3,87.8 641.6,84.9C645.0,82.0 649.5,79.3 654.1,77.4C658.7,75.5 663.6,74.4 669.0,73.7C674.4,72.9 681.1,72.7 686.5,72.9C691.9,73.1 696.4,73.5 701.4,74.9C706.4,76.3 711.8,78.6 716.3,81.1C720.9,83.6 725.1,86.7 728.8,89.8C732.5,93.0 736.1,96.1 738.8,99.8C741.5,103.5 743.5,107.7 745.0,112.3C746.4,116.8 746.9,121.8 747.5,127.2C748.0,132.6 747.8,138.8 748.2,144.6C748.6,150.4 749.0,156.2 750.0,162.1C750.9,167.9 752.2,174.1 753.7,179.5C755.1,184.9 756.6,189.4 758.7,194.4C760.7,199.4 763.2,204.4 766.1,209.4C769.0,214.3 773.4,220.2 776.1,224.3C778.8,228.5 781.1,231.4 782.3,234.3C783.6,237.2 784.6,239.7 783.6,241.7C782.5,243.8 779.4,245.9 776.1,246.7C772.8,247.5 768.2,247.1 763.7,246.7C759.1,246.3 753.7,244.8 748.7,244.2C743.7,243.6 738.3,242.6 733.8,243.0C729.2,243.4 724.6,245.1 721.3,246.7C718.0,248.4 715.9,250.7 713.9,252.9C711.8,255.1 710.1,256.4 708.9,259.9C707.6,263.4 721.7,271.7 706.4,274.1C691.0,276.5 632.1,276.5 616.7,274.1C601.4,271.7 615.9,263.2 614.3,259.9C612.6,256.6 609.3,256.4 606.8,254.2C604.3,252.0 601.4,249.2 599.3,246.7C597.2,244.2 595.4,241.3 594.3,239.2C593.3,237.2 591.8,235.9 593.1,234.3C594.3,232.6 597.9,230.9 601.8,229.3C605.7,227.6 611.3,225.5 616.7,224.3C622.1,223.1 628.4,222.2 634.2,221.8C640.0,221.4 646.6,222.2 651.6,221.8C656.6,221.4 660.3,221.0 664.1,219.3C667.8,217.7 671.1,215.2 674.0,211.9C676.9,208.5 679.6,204.0 681.5,199.4C683.3,194.8 684.4,189.4 685.2,184.5C686.0,179.5 686.5,174.5 686.5,169.5C686.5,164.5 686.5,158.7 685.2,154.6C684.0,150.4 681.7,147.5 679.0,144.6C676.3,141.7 672.8,139.6 669.0,137.2C665.3,134.7 660.7,132.2 656.6,129.7C652.4,127.2 647.7,124.9 644.1,122.2C640.6,119.5 637.3,116.4 635.4,113.5C633.5,110.6 633.1,107.9 632.9,104.8Z" fill="#7c9cb8"/>
<path d="M624.2,274.1C615.1,271.7 625.5,263.6 625.5,259.9C625.5,256.2 623.8,254.1 624.2,251.7C624.6,249.3 625.9,247.0 627.9,245.5C630.0,243.9 633.1,242.6 636.7,242.2C640.2,241.8 645.0,242.4 649.1,243.0C653.3,243.5 657.8,244.4 661.6,245.5C665.3,246.5 668.8,247.5 671.5,249.2C674.2,250.9 676.5,253.6 677.7,255.4C679.0,257.2 678.6,256.8 679.0,259.9C679.4,263.0 689.4,271.7 680.2,274.1C671.1,276.5 633.3,276.5 624.2,274.1Z" fill="#58678e"/>
<path d="M599.3,35.1C609.7,38.4 598.9,49.6 599.3,55.0C599.7,60.4 601.6,63.3 601.8,67.4C602.0,71.6 601.6,75.7 600.6,79.9C599.5,84.0 597.2,88.2 595.6,92.3C593.9,96.5 591.8,100.6 590.6,104.8C589.4,108.9 588.3,113.5 588.1,117.2C587.9,121.0 587.9,124.1 589.4,127.2C590.8,130.3 593.5,133.4 596.8,135.9C600.1,138.4 604.7,140.5 609.3,142.1C613.8,143.8 619.2,144.8 624.2,145.9C629.2,146.9 634.6,147.3 639.2,148.4C643.7,149.4 648.3,150.2 651.6,152.1C654.9,154.0 657.4,156.7 659.1,159.6C660.7,162.5 661.4,165.8 661.6,169.5C661.8,173.3 661.1,177.8 660.3,182.0C659.5,186.1 658.2,190.7 656.6,194.4C654.9,198.2 653.3,201.5 650.4,204.4C647.5,207.3 643.5,210.0 639.2,211.9C634.8,213.7 629.6,214.8 624.2,215.6C618.8,216.4 612.6,216.7 606.8,216.8C601.0,217.0 595.2,216.5 589.4,216.3C583.5,216.1 578.1,215.8 571.9,215.6C565.7,215.3 557.8,215.0 552.0,214.8C546.2,214.7 539.5,244.8 537.1,214.8C534.6,184.9 526.7,65.0 537.1,35.1C547.4,5.1 588.9,31.7 599.3,35.1Z" fill="#c9dfe7"/>
<path d="M571.9,35.1C594.3,42.3 571.7,49.2 571.9,55.0C572.1,60.8 573.4,64.9 573.2,69.9C573.0,74.9 571.9,80.3 570.7,84.9C569.4,89.4 567.6,93.2 565.7,97.3C563.8,101.5 561.3,106.2 559.5,109.8C557.6,113.3 556.1,116.3 554.5,118.5C552.9,120.6 550.3,121.4 550.0,122.7C549.7,124.0 551.8,124.3 552.8,126.2C553.8,128.1 554.4,131.4 555.9,134.0C557.5,136.6 559.8,139.4 562.1,141.7C564.5,144.1 566.8,146.1 569.9,148.0C573.0,149.8 576.9,151.5 580.8,152.6C584.7,153.8 589.1,154.4 593.2,155.0C597.3,155.5 601.5,155.7 605.6,156.0C609.8,156.4 613.9,156.7 618.1,157.3C622.2,157.9 626.9,158.6 630.5,159.6C634.1,160.6 637.1,161.8 639.8,163.5C642.5,165.2 645.1,167.4 646.8,169.7C648.5,172.0 649.5,174.9 649.9,177.5C650.3,180.1 650.0,182.7 649.1,185.2C648.2,187.8 646.5,190.7 644.5,193.0C642.4,195.3 639.8,197.3 636.7,199.2C633.6,201.2 629.7,203.1 625.8,204.7C621.9,206.2 617.8,207.5 613.4,208.5C609.0,209.6 604.3,210.3 599.4,210.9C594.5,211.4 589.1,211.7 583.9,212.0C578.7,212.2 573.5,212.3 568.3,212.4C563.2,212.6 558.0,212.6 552.8,212.7C547.6,212.9 542.5,213.1 537.3,213.2C532.1,213.3 528.0,213.3 521.7,213.2C515.5,213.1 514.0,212.8 500.0,212.7C486.0,212.7 448.2,246.3 437.9,212.7C427.5,179.2 415.5,40.9 437.9,11.3C460.2,-18.4 549.6,27.8 571.9,35.1Z" fill="#ffecec"/>
<path d="M437.9,161.9C448.2,155.2 488.9,162.7 500.0,161.9C511.1,161.2 502.6,159.1 504.7,157.3C506.7,155.5 509.8,152.8 512.4,151.1C515.0,149.4 517.3,148.1 520.2,147.2C523.0,146.3 526.4,145.4 529.5,145.6C532.6,145.9 535.5,147.4 538.8,148.7C542.2,150.0 545.8,151.8 549.7,153.4C553.6,155.0 558.0,156.8 562.1,158.1C566.3,159.4 570.4,160.4 574.6,161.2C578.7,161.9 582.8,162.2 587.0,162.7C591.1,163.2 595.3,163.6 599.4,164.3C603.6,164.9 608.0,165.6 611.8,166.6C615.7,167.6 619.6,168.9 622.7,170.5C625.8,172.0 628.6,174.0 630.5,175.9C632.3,177.9 633.6,180.1 633.9,182.1C634.2,184.2 633.4,186.3 632.0,188.3C630.7,190.4 628.4,192.8 625.8,194.6C623.2,196.4 619.9,197.9 616.5,199.2C613.1,200.5 609.5,201.4 605.6,202.3C601.7,203.2 597.9,204.1 593.2,204.7C588.5,205.2 582.8,205.5 577.7,205.7C572.5,206.0 567.3,206.1 562.1,206.2C557.0,206.3 551.8,206.3 546.6,206.2C541.4,206.1 536.2,205.8 531.1,205.4C525.9,205.0 520.7,204.4 515.5,203.9C510.4,203.4 512.9,202.6 500.0,202.3C487.1,202.1 448.2,209.1 437.9,202.3C427.5,195.6 427.5,168.7 437.9,161.9Z" fill="#ffd9de"/>
<path d="M546.6,183.7C546.6,182.7 548.9,181.8 551.3,181.4C553.6,180.9 557.5,180.8 560.6,180.9C563.7,180.9 567.1,181.2 569.9,181.7C572.8,182.1 575.9,182.8 577.7,183.7C579.5,184.5 580.5,185.6 580.8,186.8C581.0,188.0 580.5,189.5 579.2,190.7C577.9,191.8 575.1,193.2 573.0,193.8C570.9,194.4 569.1,194.6 566.8,194.3C564.5,193.9 561.6,192.6 559.0,191.5C556.4,190.3 553.3,188.9 551.3,187.6C549.2,186.3 546.6,184.7 546.6,183.7Z" fill="#f0b6b9"/>
<path d="M517.1,235.7C518.1,233.5 519.4,232.2 521.7,231.1C524.1,229.9 526.9,229.3 531.1,228.7C535.2,228.1 541.4,227.6 546.6,227.5C551.8,227.4 557.5,227.6 562.1,228.0C566.8,228.3 571.3,228.7 574.6,229.5C577.8,230.3 580.5,231.5 581.6,232.6C582.6,233.8 581.9,235.2 580.8,236.5C579.6,237.8 577.2,239.1 574.6,240.4C572.0,241.7 567.8,242.3 565.2,244.3C562.7,246.2 560.1,249.4 559.0,252.0C558.0,254.6 566.3,258.5 559.0,259.8C551.8,261.1 522.8,262.4 515.5,259.8C508.3,257.2 515.3,248.3 515.5,244.3C515.8,240.3 516.1,237.9 517.1,235.7Z" fill="#7c9cb8"/>
<path d="M723.8,35.1C707.2,38.4 721.7,50.6 723.8,55.0C725.9,59.3 731.7,58.5 736.3,61.2C740.8,63.9 746.6,67.6 751.2,71.2C755.8,74.7 759.9,78.8 763.7,82.4C767.4,85.9 770.7,88.4 773.6,92.3C776.5,96.3 779.2,101.0 781.1,106.0C783.0,111.0 784.0,117.0 784.8,122.2C785.6,127.4 786.1,131.8 786.1,137.2C786.1,142.5 785.3,148.8 784.8,154.6C784.3,160.4 783.3,167.0 783.1,172.0C782.9,177.0 782.9,180.7 783.6,184.5C784.3,188.2 785.4,191.7 787.3,194.4C789.2,197.1 792.1,199.2 794.8,200.6C797.5,202.1 801.3,202.7 803.5,203.1C805.7,203.6 804.7,203.1 808.0,203.1C811.3,203.1 820.8,231.2 823.4,203.1C826.0,175.1 840.0,63.1 823.4,35.1C806.8,7.0 740.4,31.7 723.8,35.1Z" fill="#c9dfe7"/>
</g>
<g clip-path="url(#cD)">
<rect x="773" y="49" width="258" height="212" fill="#8fa3de"/>
<path d="M759.1,35.1C746.4,41.9 756.6,66.6 759.1,76.1C761.5,85.7 770.5,88.2 774.0,92.3C777.5,96.5 778.6,97.7 780.2,101.0C781.9,104.4 783.0,108.3 784.0,112.3C784.9,116.2 785.7,119.3 786.0,124.7C786.2,130.1 785.6,138.4 785.2,144.6C784.8,150.8 783.9,156.7 783.5,162.1C783.0,167.4 782.4,172.4 782.7,177.0C783.0,181.6 783.5,185.9 785.2,189.4C786.9,193.0 789.6,195.9 792.7,198.2C795.8,200.4 800.4,202.3 803.9,203.1C807.4,204.0 811.1,204.2 813.8,203.1C816.5,202.1 818.2,200.0 820.1,196.9C821.9,193.8 823.2,189.0 825.0,184.5C826.9,179.9 829.2,174.5 831.3,169.5C833.3,164.5 835.8,159.6 837.5,154.6C839.2,149.6 840.9,144.6 841.7,139.6C842.6,134.7 842.6,130.1 842.5,124.7C842.3,119.3 841.4,113.5 840.7,107.3C840.1,101.0 839.3,93.6 838.7,87.4C838.2,81.1 838.1,75.3 837.5,69.9C836.9,64.5 835.4,60.8 835.0,55.0C834.6,49.2 847.7,38.4 835.0,35.1C822.3,31.7 771.7,28.2 759.1,35.1Z" fill="#c9dfe7"/>
<path d="M843.0,239.7C843.0,241.7 842.5,244.0 841.6,245.7C840.8,247.4 839.4,249.1 838.0,250.1C836.6,251.1 834.7,251.7 833.0,251.7C831.4,251.7 829.5,251.1 828.0,250.1C826.6,249.1 825.2,247.4 824.4,245.7C823.6,244.0 823.1,241.7 823.1,239.7C823.1,237.7 823.6,235.5 824.4,233.8C825.2,232.0 826.6,230.4 828.0,229.4C829.5,228.4 831.4,227.8 833.0,227.8C834.7,227.8 836.6,228.4 838.0,229.4C839.4,230.4 840.8,232.0 841.6,233.8C842.5,235.5 843.0,237.7 843.0,239.7Z" fill="#c9dfe7"/>
<path d="M882.3,35.1C859.7,38.4 882.4,49.2 882.3,55.0C882.2,60.8 881.6,64.9 881.6,69.9C881.6,74.9 881.8,79.9 882.3,84.9C882.9,89.8 883.6,95.2 884.8,99.8C886.1,104.4 887.5,108.5 889.8,112.3C892.1,116.0 895.0,118.9 898.5,122.2C902.0,125.5 907.0,129.1 911.0,132.2C914.9,135.3 919.5,138.0 922.2,140.9C924.9,143.8 926.2,146.5 927.1,149.6C928.1,152.7 928.5,156.4 927.9,159.6C927.3,162.7 925.8,165.8 923.4,168.3C921.0,170.8 917.6,172.8 913.4,174.5C909.3,176.2 903.1,177.2 898.5,178.2C893.9,179.3 889.6,179.5 886.1,180.7C882.5,182.0 879.4,183.6 877.3,185.7C875.3,187.8 873.8,190.5 873.6,193.2C873.4,195.9 874.0,199.2 876.1,201.9C878.2,204.6 881.9,207.1 886.1,209.4C890.2,211.6 895.6,213.9 901.0,215.6C906.4,217.2 912.6,218.5 918.4,219.3C924.2,220.2 930.9,220.8 935.9,220.6C940.8,220.4 944.6,219.5 948.3,218.1C952.0,216.6 955.4,214.6 958.3,211.9C961.2,209.2 963.2,205.2 965.7,201.9C968.2,198.6 970.3,195.7 973.2,191.9C976.1,188.2 979.8,183.6 983.2,179.5C986.5,175.3 990.4,170.8 993.1,167.0C995.8,163.3 997.9,159.6 999.3,157.1C1000.8,154.6 998.7,154.2 1001.8,152.1C1005.0,150.0 1015.3,164.1 1018.0,144.6C1020.7,125.1 1040.6,53.3 1018.0,35.1C995.4,16.8 904.9,31.7 882.3,35.1Z" fill="#7c9cb8"/>
<path d="M759.1,221.8C761.5,217.2 770.5,222.6 774.0,224.3C777.5,226.0 778.6,229.3 780.2,231.8C781.9,234.3 784.2,236.8 784.0,239.2C783.8,241.7 780.6,244.8 779.0,246.7C777.3,248.6 777.3,249.6 774.0,250.4C770.7,251.3 761.5,256.5 759.1,251.7C756.6,246.9 756.6,226.4 759.1,221.8Z" fill="#7c9cb8"/>
<path d="M1018.0,221.8C1015.3,213.7 1006.0,223.5 1001.8,225.5C997.7,227.6 996.2,231.4 993.1,234.3C990.0,237.2 986.9,240.1 983.2,243.0C979.4,245.9 974.9,249.2 970.7,251.7C966.6,254.2 962.0,256.3 958.3,257.9C954.5,259.6 950.4,259.0 948.3,261.7C946.2,264.4 934.2,272.0 945.8,274.1C957.4,276.2 1006.0,282.8 1018.0,274.1C1030.1,265.4 1020.7,229.9 1018.0,221.8Z" fill="#c9dfe7"/>
<path d="M1018.0,244.2C1015.3,239.7 1006.0,245.3 1001.8,246.7C997.7,248.2 995.8,250.7 993.1,252.9C990.4,255.1 987.3,256.4 985.7,259.9C984.0,263.4 977.8,271.7 983.2,274.1C988.6,276.5 1012.2,279.1 1018.0,274.1C1023.8,269.1 1020.7,248.8 1018.0,244.2Z" fill="#ffecec"/>
</g>
<g clip-path="url(#cE)">
<rect x="39" y="259" width="258" height="212" fill="#ffd9de"/>
<path d="M155.8,287.4C155.8,283.7 156.0,280.5 157.0,277.4C158.1,274.3 159.5,271.2 162.0,268.7C164.5,266.2 168.2,263.9 172.0,262.5C175.7,261.0 179.9,260.4 184.4,260.0C189.0,259.6 194.8,259.4 199.4,260.0C203.9,260.6 208.5,261.7 211.8,263.7C215.1,265.8 217.2,268.9 219.3,272.5C221.4,276.0 222.8,280.3 224.3,284.9C225.7,289.5 226.8,294.9 228.0,299.8C229.2,304.8 230.3,309.8 231.7,314.8C233.2,319.8 234.6,325.2 236.7,329.7C238.8,334.3 241.4,338.4 244.2,342.2C247.0,345.9 250.7,349.6 253.6,352.1C256.6,354.7 259.1,355.7 262.1,357.6C265.1,359.6 268.5,361.8 271.6,363.8C274.7,365.9 277.7,367.8 280.8,369.8C283.9,371.8 287.1,373.7 290.0,376.0C292.9,378.4 294.4,380.1 298.0,384.0C301.5,387.9 309.2,382.8 311.4,399.4C313.7,416.1 327.6,470.0 311.4,484.1C295.2,498.2 230.5,504.9 214.3,484.1C198.1,463.4 218.5,382.4 214.3,359.6C210.2,336.8 196.9,352.1 189.4,347.2C181.9,342.2 174.0,335.1 169.5,329.7C164.9,324.3 164.1,319.8 162.0,314.8C159.9,309.8 158.1,304.4 157.0,299.8C156.0,295.3 155.8,291.1 155.8,287.4Z" fill="#f0b6b9"/>
<path d="M252.9,449.2C253.3,445.5 254.8,442.2 256.6,439.3C258.5,436.4 261.4,433.3 264.1,431.8C266.8,430.3 270.3,429.7 272.8,430.1C275.3,430.5 277.5,431.9 279.0,434.3C280.6,436.7 281.8,440.5 282.0,444.3C282.2,448.0 281.6,453.0 280.3,456.7C279.0,460.4 276.6,464.2 274.1,466.7C271.6,469.2 267.8,471.1 265.3,471.7C262.9,472.2 261.0,471.6 259.1,469.9C257.3,468.3 255.2,465.1 254.1,461.7C253.1,458.2 252.5,453.0 252.9,449.2Z" fill="#ff9999"/>
<path d="M251.2,245.1C241.1,254.2 251.0,289.1 251.2,299.8C251.3,310.5 251.5,306.2 251.9,309.3C252.3,312.4 252.9,315.4 253.6,318.5C254.4,321.6 255.2,325.1 256.6,328.0C258.0,330.8 259.9,333.4 262.1,335.7C264.3,338.0 267.0,340.1 269.8,341.9C272.7,343.7 275.9,345.1 279.3,346.7C282.7,348.2 286.4,349.8 290.0,351.4C293.6,352.9 297.4,354.5 301.0,355.9C304.5,357.2 309.7,378.1 311.4,359.6C313.2,341.1 321.5,264.2 311.4,245.1C301.4,226.0 261.2,235.9 251.2,245.1Z" fill="#ffecec"/>
<path d="M262.1,245.1C253.9,254.2 262.0,289.1 262.1,299.8C262.2,310.5 262.4,306.2 262.9,309.3C263.4,312.4 263.9,315.5 265.1,318.5C266.3,321.5 267.7,324.7 269.8,327.2C271.9,329.7 274.9,331.6 277.8,333.5C280.7,335.3 283.7,336.7 287.0,338.2C290.4,339.7 293.9,341.2 298.0,342.7C302.0,344.2 309.2,363.4 311.4,347.2C313.7,330.9 319.6,262.1 311.4,245.1C303.2,228.0 270.3,235.9 262.1,245.1Z" fill="#c9dfe7"/>
<path d="M276.1,245.1C270.2,254.2 275.9,289.4 276.1,299.8C276.2,310.3 276.3,304.9 276.8,307.8C277.3,310.7 278.0,314.2 279.3,317.0C280.6,319.9 282.4,322.7 284.8,325.0C287.1,327.3 290.0,329.1 293.2,331.0C296.5,332.9 301.2,335.2 304.2,336.4C307.2,337.7 310.2,353.7 311.4,338.4C312.6,323.2 317.3,260.6 311.4,245.1C305.5,229.5 281.9,235.9 276.1,245.1Z" fill="#8fa3de"/>
<path d="M285.3,245.1C280.9,247.5 285.1,256.3 285.3,260.0C285.5,263.7 285.7,265.4 286.5,267.5C287.3,269.5 288.7,271.2 290.2,272.5C291.8,273.7 292.4,274.3 296.0,274.9C299.5,275.6 308.8,281.2 311.4,276.2C314.0,271.2 315.8,250.2 311.4,245.1C307.1,239.9 289.6,242.6 285.3,245.1Z" fill="#7c9cb8"/>
<path d="M113.5,316.0C114.9,313.7 119.1,312.5 122.2,311.0C125.3,309.6 128.8,307.9 132.1,307.3C135.5,306.7 139.2,306.7 142.1,307.3C145.0,307.9 147.5,309.2 149.6,311.0C151.6,312.9 153.3,315.8 154.5,318.5C155.8,321.2 156.8,324.5 157.0,327.2C157.2,329.9 162.8,333.5 155.8,334.7C148.7,335.9 121.8,336.4 114.7,334.7C107.6,333.0 113.7,327.9 113.5,324.7C113.2,321.6 112.0,318.3 113.5,316.0Z" fill="#ffecec"/>
<path d="M122.2,334.7C118.0,333.2 123.4,328.7 124.7,326.0C125.9,323.3 127.6,320.4 129.6,318.5C131.7,316.6 134.6,315.2 137.1,314.8C139.6,314.4 142.5,314.8 144.6,316.0C146.7,317.3 148.5,319.8 149.6,322.3C150.6,324.7 150.8,328.9 150.8,331.0C150.8,333.0 154.3,334.1 149.6,334.7C144.8,335.3 126.3,336.2 122.2,334.7Z" fill="#c9dfe7"/>
<path d="M123.7,301.3C123.7,301.9 123.5,302.6 123.2,303.1C122.9,303.6 122.4,304.1 121.9,304.4C121.4,304.6 120.8,304.8 120.2,304.8C119.6,304.8 118.9,304.6 118.4,304.4C117.9,304.1 117.5,303.6 117.2,303.1C116.9,302.6 116.7,301.9 116.7,301.3C116.7,300.8 116.9,300.1 117.2,299.6C117.5,299.1 117.9,298.6 118.4,298.3C118.9,298.0 119.6,297.8 120.2,297.8C120.8,297.8 121.4,298.0 121.9,298.3C122.4,298.6 122.9,299.1 123.2,299.6C123.5,300.1 123.7,300.8 123.7,301.3Z" fill="#f0b6b9"/>
<path d="M25.1,245.1C34.8,239.9 74.2,242.6 83.6,245.1C92.9,247.5 82.5,256.1 81.1,260.0C79.6,263.9 77.6,266.4 74.9,268.7C72.2,271.0 68.1,272.5 64.9,273.7C61.7,274.9 62.1,275.8 55.4,276.2C48.8,276.6 30.1,281.4 25.1,276.2C20.0,271.0 15.3,250.2 25.1,245.1Z" fill="#c9dfe7"/>
<path d="M25.1,245.1C33.2,240.3 65.7,242.6 73.6,245.1C81.5,247.5 73.0,256.3 72.4,260.0C71.7,263.7 71.3,265.6 69.9,267.5C68.4,269.3 66.1,270.2 63.7,271.2C61.2,272.2 61.9,273.3 55.4,273.7C49.0,274.1 30.1,278.5 25.1,273.7C20.0,268.9 17.0,249.8 25.1,245.1Z" fill="#8fa3de"/>
</g>
<g clip-path="url(#cF)">
<rect x="295" y="259" width="258" height="212" fill="#8fa3de"/>
<path d="M320.9,245.1C305.1,247.5 318.8,256.9 320.9,260.0C323.0,263.1 329.2,262.8 333.4,263.7C337.5,264.6 341.2,265.5 345.8,265.5C350.4,265.5 356.6,264.4 360.7,263.7C364.9,263.0 367.4,261.2 370.7,261.2C374.0,261.2 376.5,262.9 380.7,263.7C384.8,264.6 391.5,266.0 395.6,266.2C399.8,266.4 402.2,266.0 405.6,265.0C408.9,263.9 413.9,263.3 415.5,260.0C417.2,256.7 431.3,247.5 415.5,245.1C399.8,242.6 336.7,242.6 320.9,245.1Z" fill="#c9dfe7"/>
<path d="M389.4,245.1C386.1,247.5 388.8,257.1 390.6,260.0C392.5,262.9 397.3,262.5 400.6,262.5C403.9,262.5 408.9,262.9 410.5,260.0C412.2,257.1 414.1,247.5 410.5,245.1C407.0,242.6 392.7,242.6 389.4,245.1Z" fill="#ffecec"/>
<path d="M281.1,245.1C285.4,240.1 302.8,242.6 307.2,245.1C311.6,247.5 307.4,256.3 307.2,260.0C307.0,263.7 307.0,265.4 306.0,267.5C304.9,269.5 302.6,271.3 301.0,272.5C299.3,273.6 299.3,274.0 296.0,274.4C292.7,274.9 283.5,279.8 281.1,274.9C278.6,270.0 276.7,250.0 281.1,245.1Z" fill="#7c9cb8"/>
<path d="M360.7,278.7C361.4,276.6 362.4,274.9 364.5,273.7C366.6,272.5 369.7,271.7 373.2,271.2C376.7,270.7 381.9,270.3 385.6,270.5C389.4,270.7 392.9,271.3 395.6,272.5C398.3,273.6 401.0,275.4 401.8,277.4C402.7,279.5 401.6,282.4 400.6,284.9C399.5,287.4 397.5,289.9 395.6,292.4C393.7,294.9 391.7,297.8 389.4,299.8C387.1,301.9 384.4,303.8 381.9,304.8C379.4,305.9 376.7,306.5 374.4,306.1C372.2,305.7 370.1,304.2 368.2,302.3C366.3,300.5 364.5,297.6 363.2,294.9C362.0,292.2 361.2,288.8 360.7,286.1C360.3,283.4 360.1,280.8 360.7,278.7Z" fill="#c9dfe7"/>
<path d="M367.0,281.2C367.6,279.5 368.6,277.3 370.7,276.2C372.8,275.1 376.3,274.6 379.4,274.4C382.5,274.3 386.9,274.5 389.4,275.4C391.9,276.4 393.9,277.9 394.4,279.9C394.8,281.9 393.1,285.1 391.9,287.4C390.6,289.7 388.8,292.0 386.9,293.6C385.0,295.3 382.7,296.7 380.7,297.4C378.6,298.0 376.3,298.2 374.4,297.4C372.6,296.5 370.7,294.2 369.5,292.4C368.2,290.5 367.4,288.0 367.0,286.1C366.6,284.3 366.3,282.8 367.0,281.2Z" fill="#ffecec"/>
<path d="M399.3,289.9C400.2,287.2 402.9,285.5 405.6,283.7C408.3,281.8 411.8,280.1 415.5,278.7C419.3,277.2 423.8,276.2 428.0,274.9C432.1,273.7 436.7,272.9 440.4,271.2C444.2,269.5 447.9,266.8 450.4,265.0C452.9,263.1 454.5,263.3 455.4,260.0C456.2,256.7 436.7,247.5 455.4,245.1C474.0,242.6 548.7,230.1 567.4,245.1C586.1,260.0 570.0,319.3 567.4,334.7C564.8,350.1 555.3,336.4 552.0,337.2C548.7,338.0 549.9,338.6 547.5,339.7C545.1,340.7 541.3,342.6 537.5,343.4C533.8,344.2 529.6,344.9 525.1,344.7C520.5,344.5 515.1,343.4 510.1,342.2C505.2,340.9 500.2,339.1 495.2,337.2C490.2,335.3 485.2,333.0 480.3,331.0C475.3,328.9 470.3,326.6 465.3,324.7C460.3,322.9 455.4,321.2 450.4,319.8C445.4,318.3 440.4,317.3 435.4,316.0C430.5,314.8 425.1,313.7 420.5,312.3C415.9,310.8 411.4,309.4 408.1,307.3C404.7,305.2 402.0,302.7 400.6,299.8C399.1,296.9 398.5,292.6 399.3,289.9Z" fill="#7c9cb8"/>
<path d="M465.3,287.4C465.9,285.1 467.8,282.0 470.3,279.9C472.8,277.8 476.5,276.0 480.3,274.9C484.0,273.9 488.6,273.5 492.7,273.7C496.9,273.9 501.4,274.9 505.2,276.2C508.9,277.4 512.6,279.3 515.1,281.2C517.6,283.0 518.0,287.0 520.1,287.4C522.2,287.8 524.7,284.9 527.6,283.7C530.5,282.4 534.2,280.3 537.5,279.9C540.9,279.5 545.1,280.5 547.5,281.2C549.9,281.8 548.7,283.0 552.0,283.7C555.3,284.3 564.8,280.8 567.4,284.9C570.0,289.1 570.0,304.4 567.4,308.6C564.8,312.7 556.1,309.1 552.0,309.8C547.8,310.5 546.2,311.9 542.5,312.8C538.9,313.7 534.6,314.9 530.1,315.3C525.5,315.7 520.1,315.8 515.1,315.3C510.1,314.8 505.2,313.6 500.2,312.3C495.2,311.0 489.8,309.4 485.2,307.3C480.7,305.2 475.9,302.1 472.8,299.8C469.7,297.6 467.8,295.7 466.6,293.6C465.3,291.5 464.7,289.7 465.3,287.4Z" fill="#58678e"/>
<path d="M281.1,332.2C283.5,307.1 291.8,332.6 296.0,333.5C300.2,334.3 302.2,335.5 306.0,337.2C309.7,338.9 313.8,341.5 318.4,343.4C323.0,345.3 328.4,347.4 333.4,348.4C338.3,349.4 343.3,349.8 348.3,349.6C353.3,349.4 358.3,348.4 363.2,347.2C368.2,345.9 373.2,343.5 378.2,342.2C383.2,340.8 388.1,339.8 393.1,339.2C398.1,338.6 402.7,338.4 408.1,338.4C413.4,338.5 420.1,338.9 425.5,339.7C430.9,340.5 435.4,341.5 440.4,343.4C445.4,345.3 450.8,347.8 455.4,350.9C459.9,354.0 464.7,358.1 467.8,362.1C470.9,366.0 472.8,370.4 474.0,374.5C475.3,378.7 475.7,382.8 475.3,387.0C474.9,391.1 473.6,395.7 471.5,399.4C469.5,403.2 466.4,406.5 462.8,409.4C459.3,412.3 454.5,414.6 450.4,416.9C446.2,419.2 441.7,421.0 437.9,423.1C434.2,425.2 430.9,427.0 428.0,429.3C425.1,431.6 422.4,433.9 420.5,436.8C418.6,439.7 417.6,443.0 416.8,446.8C415.9,450.5 415.3,455.3 415.5,459.2C415.7,463.1 417.6,465.8 418.0,469.9C418.4,474.1 440.8,481.7 418.0,484.1C395.2,486.5 303.9,509.4 281.1,484.1C258.2,458.8 278.6,357.3 281.1,332.2Z" fill="#c9dfe7"/>
<path d="M281.1,340.9C283.5,317.3 293.2,341.9 296.0,342.2C298.8,342.5 295.9,341.8 298.0,342.7C300.1,343.5 305.1,345.7 308.7,347.4C312.3,349.1 316.3,350.9 319.7,352.9C323.0,354.8 326.0,357.0 328.9,359.1C331.7,361.2 334.5,363.3 336.8,365.3C339.2,367.4 341.2,369.5 342.8,371.6C344.5,373.6 346.3,375.2 346.8,377.8C347.3,380.4 346.5,383.9 346.0,387.0C345.6,390.1 344.2,393.1 343.8,396.2C343.4,399.3 343.3,402.6 343.8,405.7C344.3,408.8 345.3,412.1 346.8,414.9C348.3,417.7 350.8,420.5 353.0,422.6C355.2,424.7 357.9,426.2 360.0,427.3C362.1,428.5 363.1,429.6 365.7,429.3C368.3,429.0 373.0,428.1 375.7,425.6C378.4,423.1 380.7,418.7 381.9,414.4C383.2,410.0 383.2,404.4 383.2,399.4C383.2,394.5 381.5,389.1 381.9,384.5C382.3,379.9 383.4,375.6 385.6,372.1C387.9,368.5 391.9,365.4 395.6,363.3C399.3,361.3 403.5,360.3 408.1,359.6C412.6,358.9 418.0,358.7 423.0,359.1C428.0,359.5 433.6,360.6 437.9,362.1C442.3,363.6 446.2,365.6 449.1,368.3C452.0,371.0 454.1,374.7 455.4,378.3C456.6,381.8 457.0,385.7 456.6,389.5C456.2,393.2 455.2,397.4 452.9,400.7C450.6,404.0 446.6,406.7 442.9,409.4C439.2,412.1 434.6,414.6 430.5,416.9C426.3,419.2 421.5,420.6 418.0,423.1C414.5,425.6 411.4,428.7 409.3,431.8C407.2,434.9 406.2,438.0 405.6,441.8C404.9,445.5 405.4,449.5 405.6,454.2C405.8,458.9 406.6,464.9 406.8,469.9C407.0,474.9 427.8,481.7 406.8,484.1C385.8,486.5 302.0,508.0 281.1,484.1C260.1,460.2 278.6,364.6 281.1,340.9Z" fill="#ffecec"/>
<path d="M281.1,353.4C283.5,331.7 292.7,353.7 296.0,354.1C299.3,354.5 298.4,354.5 301.0,355.9C303.6,357.2 308.6,360.0 311.7,362.1C314.8,364.2 317.3,366.0 319.7,368.3C322.0,370.6 324.3,373.2 325.9,376.0C327.4,378.9 328.0,382.4 328.9,385.5C329.8,388.6 330.4,391.3 331.4,394.7C332.3,398.1 333.2,402.1 334.3,405.7C335.5,409.3 336.9,413.0 338.3,416.4C339.7,419.7 341.3,423.4 342.8,425.8C344.3,428.3 345.6,429.2 347.5,431.1C349.5,433.0 351.9,435.5 354.5,437.3C357.1,439.1 359.3,440.2 363.2,441.8C367.2,443.3 374.0,444.9 378.2,446.8C382.3,448.6 385.4,450.5 388.1,453.0C390.8,455.5 392.9,458.9 394.4,461.7C395.8,464.5 396.4,466.2 396.8,469.9C397.3,473.6 416.1,481.7 396.8,484.1C377.5,486.5 300.4,505.9 281.1,484.1C261.8,462.3 278.6,375.0 281.1,353.4Z" fill="#ffd9de"/>
<path d="M281.1,380.8C283.5,363.8 293.2,381.5 296.0,382.0C298.8,382.6 296.7,382.1 298.0,384.0C299.3,385.9 302.2,390.1 304.0,393.2C305.8,396.3 307.2,399.3 308.7,402.4C310.2,405.5 311.5,408.8 312.7,411.9C313.8,415.0 314.8,417.9 315.7,421.1C316.6,424.3 317.0,426.8 318.2,431.1C319.4,435.3 321.3,442.1 322.9,446.8C324.5,451.4 326.2,455.3 327.9,459.2C329.5,463.1 331.9,465.8 332.9,469.9C333.8,474.1 342.0,481.7 333.4,484.1C324.7,486.5 289.8,501.3 281.1,484.1C272.3,466.9 278.6,397.8 281.1,380.8Z" fill="#f0b6b9"/>
<path d="M507.2,406.9C507.7,403.0 508.5,398.6 510.6,395.7C512.8,392.8 516.5,390.9 520.1,389.5C523.8,388.1 528.4,387.7 532.6,387.5C536.7,387.3 541.8,387.9 545.0,388.2C548.2,388.6 548.2,389.3 552.0,389.5C555.7,389.7 564.8,379.5 567.4,389.5C570.0,399.4 575.3,439.3 567.4,449.2C559.5,459.2 529.2,451.7 520.1,449.2C511.0,446.8 514.7,439.3 512.6,434.3C510.6,429.3 508.6,423.9 507.7,419.4C506.7,414.8 506.7,410.9 507.2,406.9Z" fill="#c9dfe7"/>
<path d="M526.3,411.9C526.7,408.5 529.9,405.8 532.6,403.9C535.3,402.1 539.3,401.0 542.5,400.7C545.8,400.4 547.8,401.7 552.0,401.9C556.1,402.1 564.8,397.0 567.4,401.9C570.0,406.9 570.0,426.8 567.4,431.8C564.8,436.8 556.5,432.0 552.0,431.8C547.4,431.6 543.7,431.8 540.0,430.6C536.4,429.3 532.3,427.5 530.1,424.3C527.8,421.2 525.9,415.3 526.3,411.9Z" fill="#ffecec"/>
<path d="M508.8,428.8C509.8,428.9 514.0,433.4 516.6,435.8C519.2,438.3 523.5,441.5 524.4,443.6C525.3,445.7 523.2,447.6 522.0,448.3C520.9,449.0 518.7,448.9 517.4,447.8C516.0,446.7 515.1,443.6 514.0,441.6C512.8,439.5 511.6,437.5 510.7,435.4C509.8,433.2 507.9,428.8 508.8,428.8Z" fill="#8fa3de"/>
</g>
<g clip-path="url(#cG)">
<rect x="551" y="259" width="258" height="212" fill="#8fa3de"/>
<path d="M537.1,389.5C539.5,373.9 547.4,389.7 552.0,390.7C556.6,391.8 560.3,394.0 564.5,395.7C568.6,397.4 572.8,399.6 576.9,400.7C581.1,401.7 585.2,402.3 589.4,401.9C593.5,401.5 597.7,400.1 601.8,398.2C606.0,396.3 610.1,393.4 614.3,390.7C618.4,388.0 622.6,385.1 626.7,382.0C630.9,378.9 635.0,375.4 639.2,372.1C643.3,368.7 647.5,365.4 651.6,362.1C655.8,358.8 659.9,355.5 664.1,352.1C668.2,348.8 672.2,345.1 676.5,342.2C680.8,339.3 685.8,337.8 689.9,334.7C694.1,331.6 697.8,326.8 701.4,323.5C705.0,320.2 691.0,316.2 711.4,314.8C731.7,313.3 804.7,286.6 823.4,314.8C842.1,343.0 871.1,455.9 823.4,484.1C775.7,512.3 584.8,499.9 537.1,484.1C489.3,468.3 534.6,405.0 537.1,389.5Z" fill="#c9dfe7"/>
<path d="M537.1,245.1C547.5,239.0 589.2,242.6 599.8,245.1C610.4,247.5 600.6,255.6 600.6,260.0C600.5,264.4 600.3,268.2 599.3,271.2C598.4,274.2 596.9,276.3 594.8,277.9C592.8,279.6 590.3,280.5 586.9,281.2C583.5,281.8 580.2,281.9 574.4,281.9C568.6,281.9 558.2,281.3 552.0,281.2C545.8,281.0 539.5,287.2 537.1,281.2C534.6,275.1 526.6,251.1 537.1,245.1Z" fill="#c9dfe7"/>
<path d="M537.1,245.1C546.9,239.7 585.9,242.6 595.8,245.1C605.8,247.5 596.8,255.8 596.8,260.0C596.8,264.2 596.7,267.5 595.8,270.0C595.0,272.5 593.7,273.6 591.8,274.9C589.9,276.3 587.7,277.3 584.4,277.9C581.1,278.5 577.3,278.5 571.9,278.4C566.5,278.3 557.8,277.6 552.0,277.4C546.2,277.3 539.5,282.8 537.1,277.4C534.6,272.0 527.3,250.5 537.1,245.1Z" fill="#ffecec"/>
<path d="M537.1,245.1C546.3,240.4 583.0,242.6 592.3,245.1C601.7,247.5 593.2,256.3 593.1,260.0C593.0,263.7 592.9,265.4 591.8,267.5C590.8,269.5 589.8,271.3 586.9,272.5C584.0,273.6 579.0,274.2 574.4,274.4C569.8,274.7 565.7,274.2 559.5,273.9C553.2,273.7 540.8,277.8 537.1,272.9C533.3,268.1 527.8,249.7 537.1,245.1Z" fill="#ffd9de"/>
<path d="M557.0,245.1C553.2,247.5 556.4,256.5 557.0,260.0C557.6,263.5 558.8,264.6 560.7,266.2C562.6,267.8 565.5,269.3 568.2,269.5C570.9,269.7 574.9,268.8 576.9,267.5C578.9,266.1 579.4,265.0 579.9,261.2C580.4,257.5 583.7,247.8 579.9,245.1C576.1,242.4 560.8,242.6 557.0,245.1Z" fill="#f0b6b9"/>
<path d="M537.1,281.2C539.5,272.0 547.4,281.9 552.0,281.9C556.6,281.9 560.3,281.0 564.5,281.2C568.6,281.3 573.2,281.8 576.9,282.9C580.6,284.0 584.4,285.7 586.9,287.9C589.4,290.1 591.2,293.1 591.8,296.1C592.5,299.1 591.8,303.2 590.6,306.1C589.4,309.0 587.1,311.0 584.4,313.5C581.7,316.0 578.1,318.5 574.4,321.0C570.7,323.5 565.7,326.2 562.0,328.5C558.2,330.8 556.2,333.2 552.0,334.7C547.8,336.2 539.5,346.1 537.1,337.2C534.6,328.3 534.6,290.4 537.1,281.2Z" fill="#7c9cb8"/>
<path d="M537.1,287.9C539.5,284.0 547.8,288.6 552.0,288.6C556.2,288.6 558.8,287.7 562.0,287.9C565.1,288.1 568.7,288.7 570.7,289.9C572.7,291.0 573.8,293.0 573.9,294.9C574.0,296.7 573.2,299.1 571.4,301.1C569.6,303.1 566.4,305.2 563.2,306.8C560.0,308.5 556.4,310.2 552.0,311.0C547.6,311.9 539.5,315.7 537.1,311.8C534.6,307.9 534.6,291.7 537.1,287.9Z" fill="#58678e"/>
<path d="M608.0,245.1C592.3,247.5 607.8,255.8 609.3,260.0C610.7,264.2 614.3,266.8 616.7,270.0C619.2,273.1 621.3,276.2 624.2,278.7C627.1,281.2 630.4,283.4 634.2,284.9C637.9,286.4 642.5,287.4 646.6,287.4C650.8,287.4 654.9,286.1 659.1,284.9C663.2,283.7 667.4,281.2 671.5,279.9C675.7,278.7 680.0,278.5 684.0,277.4C687.9,276.4 692.1,275.6 695.2,273.7C698.3,271.8 701.2,268.5 702.6,266.2C704.1,263.9 703.7,263.5 703.9,260.0C704.1,256.5 719.9,247.5 703.9,245.1C687.9,242.6 623.8,242.6 608.0,245.1Z" fill="#7c9cb8"/>
<path d="M626.7,245.1C618.0,247.5 627.1,256.3 627.9,260.0C628.8,263.7 629.4,265.4 631.7,267.5C634.0,269.5 637.5,271.3 641.6,272.5C645.8,273.6 652.0,274.4 656.6,274.4C661.1,274.5 665.5,273.9 669.0,272.9C672.6,272.0 675.9,270.9 677.7,268.7C679.6,266.6 679.8,263.9 680.2,260.0C680.7,256.1 689.2,247.5 680.2,245.1C671.3,242.6 635.4,242.6 626.7,245.1Z" fill="#58678e"/>
<path d="M603.0,322.3C602.3,318.1 603.0,311.9 603.8,307.3C604.6,302.7 605.9,298.1 608.0,294.9C610.2,291.6 613.2,289.3 616.7,287.9C620.3,286.4 623.4,286.2 629.2,286.1C635.0,286.1 645.4,287.6 651.6,287.4C657.8,287.2 662.0,284.7 666.5,284.9C671.1,285.1 675.7,286.1 679.0,288.6C682.3,291.1 684.9,295.5 686.5,299.8C688.0,304.2 688.7,310.0 688.5,314.8C688.2,319.6 687.2,324.5 685.2,328.5C683.2,332.4 680.0,335.8 676.5,338.4C673.0,341.1 668.6,342.9 664.1,344.2C659.5,345.4 654.1,345.8 649.1,345.9C644.1,346.0 639.2,345.7 634.2,344.7C629.2,343.6 623.6,341.8 619.2,339.7C614.9,337.6 610.7,335.1 608.0,332.2C605.3,329.3 603.8,326.4 603.0,322.3Z" fill="#c9dfe7"/>
<path d="M616.2,307.3C616.2,304.2 616.2,299.8 618.0,297.4C619.7,294.9 623.2,293.4 626.7,292.4C630.2,291.3 635.0,290.9 639.2,291.1C643.3,291.3 647.5,293.5 651.6,293.6C655.8,293.7 660.5,291.5 664.1,291.9C667.6,292.3 670.9,293.7 672.8,296.1C674.6,298.5 675.5,302.7 675.3,306.1C675.0,309.4 673.8,313.3 671.5,316.0C669.2,318.7 665.3,320.7 661.6,322.3C657.8,323.8 653.3,324.5 649.1,325.2C645.0,326.0 640.6,327.0 636.7,326.7C632.7,326.4 628.6,325.3 625.5,323.5C622.3,321.7 619.5,318.7 618.0,316.0C616.5,313.3 616.2,310.4 616.2,307.3Z" fill="#ffecec"/>
<path d="M578.4,366.6C578.4,367.5 578.0,368.5 577.5,369.3C576.9,370.1 575.9,370.9 574.9,371.3C573.9,371.8 572.6,372.1 571.4,372.1C570.3,372.1 568.9,371.8 567.9,371.3C566.9,370.9 566.0,370.1 565.4,369.3C564.8,368.5 564.5,367.5 564.5,366.6C564.5,365.7 564.8,364.6 565.4,363.8C566.0,363.0 566.9,362.3 567.9,361.8C568.9,361.4 570.3,361.1 571.4,361.1C572.6,361.1 573.9,361.4 574.9,361.8C575.9,362.3 576.9,363.0 577.5,363.8C578.0,364.6 578.4,365.7 578.4,366.6Z" fill="#7c9cb8"/>
</g>
<g clip-path="url(#cH)">
<rect x="773" y="259" width="258" height="212" fill="#ffecec"/>
<path d="M798.9,245.1C837.9,245.1 961.6,242.6 993.1,245.1C1024.7,247.5 991.5,256.7 988.1,260.0C984.8,263.3 978.2,263.3 973.2,265.0C968.2,266.6 962.8,268.3 958.3,270.0C953.7,271.6 949.5,272.9 945.8,274.9C942.1,277.0 938.6,279.5 935.9,282.4C933.2,285.3 931.3,288.6 929.6,292.4C928.0,296.1 926.9,300.3 925.9,304.8C924.9,309.4 924.6,315.2 923.4,319.8C922.2,324.3 920.5,328.5 918.4,332.2C916.3,335.9 913.9,339.3 911.0,342.2C908.0,345.1 904.7,347.6 901.0,349.6C897.3,351.7 893.1,353.6 888.5,354.6C884.0,355.7 878.6,355.9 873.6,355.9C868.6,355.9 863.6,355.2 858.7,354.6C853.7,354.0 848.7,353.2 843.7,352.1C838.7,351.1 833.3,349.4 828.8,348.4C824.2,347.4 820.1,345.7 816.3,345.9C812.6,346.1 809.3,347.8 806.4,349.6C803.5,351.5 806.8,355.5 798.9,357.1C791.0,358.8 765.7,378.3 759.1,359.6C752.4,340.9 752.4,264.2 759.1,245.1C765.7,226.0 759.9,245.1 798.9,245.1Z" fill="#c9dfe7"/>
<path d="M798.9,245.1C820.1,241.7 915.9,242.6 938.3,245.1C960.8,247.5 936.3,256.5 933.4,260.0C930.5,263.5 924.4,263.9 920.9,266.2C917.4,268.5 914.5,270.6 912.2,273.7C909.9,276.8 908.5,280.5 907.2,284.9C906.0,289.3 905.6,294.9 904.7,299.8C903.9,304.8 903.5,310.2 902.2,314.8C901.0,319.3 899.3,323.7 897.3,327.2C895.2,330.8 892.9,333.5 889.8,335.9C886.7,338.4 882.5,340.7 878.6,342.2C874.6,343.6 870.3,344.5 866.1,344.7C862.0,344.9 857.8,344.5 853.7,343.4C849.5,342.4 845.0,340.5 841.2,338.4C837.5,336.4 834.0,334.1 831.3,331.0C828.6,327.9 826.7,324.1 825.0,319.8C823.4,315.4 822.1,309.8 821.3,304.8C820.5,299.8 820.5,294.9 820.1,289.9C819.7,284.9 820.3,279.1 818.8,274.9C817.4,270.8 814.7,270.0 811.4,265.0C808.0,260.0 777.7,248.4 798.9,245.1Z" fill="#8fa3de"/>
<path d="M1018.0,281.2C1015.3,265.3 1006.8,281.6 1001.8,281.9C996.9,282.2 992.9,282.5 988.1,282.9C983.4,283.3 977.8,283.7 973.2,284.4C968.6,285.1 964.1,285.9 960.8,287.4C957.4,288.9 955.1,290.9 953.3,293.6C951.5,296.3 950.5,299.8 950.0,303.6C949.6,307.3 950.0,311.9 950.8,316.0C951.5,320.2 952.9,324.5 954.5,328.5C956.2,332.4 958.1,336.2 960.8,339.7C963.5,343.2 967.0,346.5 970.7,349.6C974.4,352.8 979.0,355.7 983.2,358.4C987.3,361.1 992.5,363.8 995.6,365.8C998.7,367.9 998.1,368.9 1001.8,370.8C1005.6,372.7 1015.3,392.0 1018.0,377.0C1020.7,362.1 1020.7,297.0 1018.0,281.2Z" fill="#ffd9de"/>
<path d="M1018.0,388.2C1015.3,378.3 1006.8,389.7 1001.8,389.5C996.9,389.3 992.9,387.7 988.1,387.0C983.4,386.2 978.2,385.2 973.2,385.0C968.2,384.8 962.4,384.8 958.3,385.7C954.1,386.7 950.8,388.4 948.3,390.7C945.8,393.0 943.9,396.5 943.3,399.4C942.7,402.3 943.1,405.5 944.6,408.2C946.0,410.9 948.9,413.1 952.0,415.6C955.2,418.1 959.3,420.6 963.2,423.1C967.2,425.6 971.5,428.1 975.7,430.6C979.8,433.1 983.8,435.8 988.1,438.0C992.5,440.3 996.9,442.4 1001.8,444.3C1006.8,446.1 1015.3,458.6 1018.0,449.2C1020.7,439.9 1020.7,398.2 1018.0,388.2Z" fill="#c9dfe7"/>
<path d="M838.7,377.0C840.0,375.0 840.8,373.1 843.7,372.1C846.6,371.0 851.6,370.8 856.2,370.8C860.7,370.8 866.1,371.2 871.1,372.1C876.1,372.9 881.9,374.1 886.1,375.8C890.2,377.4 894.8,379.3 896.0,382.0C897.3,384.7 895.0,388.2 893.5,392.0C892.1,395.7 889.6,399.9 887.3,404.4C885.0,409.0 882.7,414.4 879.8,419.4C876.9,424.3 873.4,429.7 869.9,434.3C866.3,438.9 862.4,443.4 858.7,446.8C854.9,450.1 850.8,453.4 847.5,454.2C844.1,455.1 841.4,453.6 838.7,451.7C836.0,449.9 833.3,446.3 831.3,443.0C829.2,439.7 827.3,435.8 826.3,431.8C825.3,427.9 824.8,423.5 825.0,419.4C825.3,415.2 826.3,411.1 827.5,406.9C828.8,402.8 831.1,398.2 832.5,394.5C834.0,390.7 835.2,387.4 836.3,384.5C837.3,381.6 837.5,379.1 838.7,377.0Z" fill="#ffd9de"/>
<path d="M887.3,469.9C888.5,465.3 890.8,461.0 893.5,456.7C896.2,452.4 899.3,447.5 903.5,444.3C907.6,441.0 913.0,438.9 918.4,437.3C923.8,435.7 930.0,434.7 935.9,434.8C941.7,434.9 947.5,436.3 953.3,438.0C959.1,439.8 965.3,442.4 970.7,445.5C976.1,448.6 980.5,453.2 985.7,456.7C990.8,460.2 996.4,463.8 1001.8,466.7C1007.2,469.6 1015.3,471.2 1018.0,474.1C1020.7,477.0 1040.0,482.4 1018.0,484.1C996.0,485.8 907.8,486.5 886.1,484.1C864.3,481.7 886.1,474.5 887.3,469.9Z" fill="#ffd9de"/>
</g>
<g clip-path="url(#cI)">
<rect x="39" y="469" width="258" height="212" fill="#f0b6b9"/>
<path d="M252.9,455.1C248.7,456.3 253.1,460.0 254.1,462.5C255.2,465.0 257.3,468.3 259.1,470.0C261.0,471.7 262.9,472.9 265.3,472.5C267.8,472.1 271.8,470.4 274.1,467.5C276.3,464.6 282.6,457.1 279.0,455.1C275.5,453.0 257.0,453.8 252.9,455.1Z" fill="#ff9999"/>
</g>
<g clip-path="url(#cJ)">
<rect x="295" y="469" width="258" height="212" fill="#ffd9de"/>
<path d="M281.1,455.1C289.4,448.4 322.1,452.6 330.9,455.1C339.6,457.5 333.4,466.3 333.4,470.0C333.4,473.7 332.9,475.2 330.9,477.5C328.8,479.8 324.6,481.8 320.9,483.7C317.2,485.6 312.6,487.2 308.5,488.7C304.3,490.1 300.6,491.4 296.0,492.4C291.4,493.4 283.5,501.1 281.1,494.9C278.6,488.7 272.8,461.7 281.1,455.1Z" fill="#f0b6b9"/>
<path d="M401.8,455.1C394.8,457.5 402.2,466.3 403.1,470.0C403.9,473.7 406.6,475.0 406.8,477.5C407.0,480.0 406.0,481.6 404.3,484.9C402.7,488.3 397.9,491.6 396.8,497.4C395.8,503.2 390.0,516.1 398.1,519.8C406.2,523.5 437.5,530.6 445.4,519.8C453.3,509.0 452.7,465.8 445.4,455.1C438.1,444.3 408.9,452.6 401.8,455.1Z" fill="#ffecec"/>
<path d="M408.5,455.1C402.5,457.5 408.9,466.3 409.3,470.0C409.7,473.7 411.0,475.2 411.0,477.5C411.0,479.8 410.2,481.6 409.3,483.7C408.4,485.8 404.9,487.2 405.6,489.9C406.2,492.6 406.4,498.2 413.0,499.9C419.7,501.5 440.0,507.4 445.4,499.9C450.8,492.4 451.5,462.5 445.4,455.1C439.3,447.6 414.6,452.6 408.5,455.1Z" fill="#c9dfe7"/>
<path d="M415.0,455.1C410.1,457.5 415.9,466.3 416.0,470.0C416.1,473.7 416.0,475.2 415.5,477.5C415.0,479.8 408.1,482.7 413.0,483.7C418.0,484.7 440.0,488.5 445.4,483.7C450.8,478.9 450.5,459.8 445.4,455.1C440.3,450.3 419.9,452.6 415.0,455.1Z" fill="#8fa3de"/>
<path d="M495.2,455.1C486.9,465.8 486.9,509.0 495.2,519.8C503.5,530.6 536.7,530.6 545.0,519.8C553.3,509.0 553.3,465.8 545.0,455.1C536.7,444.3 503.5,444.3 495.2,455.1Z" fill="#8fa3de"/>
</g>
<g clip-path="url(#cK)">
<rect x="551" y="469" width="258" height="212" fill="#ffecec"/>
<path d="M823.4,507.4C819.7,500.3 807.6,507.6 801.0,508.6C794.4,509.6 788.1,511.1 783.6,513.6C779.0,516.1 775.7,520.0 773.6,523.5C771.5,527.1 770.7,531.2 771.1,534.7C771.5,538.3 773.2,542.2 776.1,544.7C779.0,547.2 783.2,548.6 788.6,549.7C793.9,550.7 802.2,550.7 808.0,550.9C813.8,551.1 820.8,558.2 823.4,550.9C826.0,543.7 827.1,514.4 823.4,507.4Z" fill="#ffd9de"/>
<path d="M823.4,629.4C820.8,623.8 813.4,630.2 808.0,630.6C802.6,631.0 794.7,630.8 791.0,631.9C787.4,632.9 786.7,633.9 786.1,636.8C785.4,639.7 786.3,645.5 787.3,649.3C788.3,653.0 790.0,656.8 792.3,659.2C794.6,661.7 795.8,663.4 801.0,664.2C806.2,665.1 819.7,670.0 823.4,664.2C827.1,658.4 826.0,635.0 823.4,629.4Z" fill="#ffd9de"/>
</g>
<g clip-path="url(#cL)">
<rect x="773" y="469" width="258" height="212" fill="#ffecec"/>
<path d="M759.1,455.1C767.9,448.2 803.1,452.6 811.8,455.1C820.6,457.5 811.8,465.6 811.4,470.0C810.9,474.4 810.4,477.7 808.9,481.2C807.3,484.7 804.8,488.5 801.9,491.2C799.0,493.9 794.8,496.0 791.4,497.4C788.0,498.8 784.4,499.3 781.5,499.4C778.6,499.5 777.7,498.4 774.0,497.9C770.3,497.3 761.5,503.3 759.1,496.1C756.6,489.0 750.3,461.9 759.1,455.1Z" fill="#c9dfe7"/>
<path d="M883.6,455.1C861.2,457.5 885.2,467.1 883.6,470.0C881.9,472.9 877.1,471.0 873.6,472.5C870.1,473.9 865.3,476.4 862.4,478.7C859.5,481.0 857.4,483.5 856.2,486.2C854.9,488.9 854.8,491.4 854.9,494.9C855.0,498.4 855.6,503.2 856.7,507.4C857.7,511.5 860.2,516.1 861.2,519.8C862.1,523.5 863.0,526.9 862.4,529.8C861.8,532.7 859.7,534.9 857.4,537.2C855.1,539.5 851.4,541.6 848.7,543.5C846.0,545.3 844.1,546.2 841.2,548.4C838.3,550.7 834.6,553.6 831.3,557.2C828.0,560.7 824.3,565.7 821.3,569.6C818.3,573.5 814.4,577.3 813.3,580.8C812.3,584.3 813.8,587.2 815.1,590.8C816.4,594.3 819.0,598.4 821.3,602.0C823.6,605.5 826.3,609.4 828.8,611.9C831.3,614.5 833.3,617.3 836.3,617.4C839.2,617.5 842.5,614.0 846.2,612.4C849.9,610.9 854.1,608.9 858.7,608.2C863.2,607.5 868.6,607.6 873.6,608.2C878.6,608.8 883.6,610.5 888.5,611.9C893.5,613.4 899.3,614.8 903.5,616.9C907.6,619.0 911.0,621.9 913.4,624.4C915.9,626.9 917.9,628.9 918.4,631.9C918.9,634.8 917.3,638.9 916.4,641.8C915.6,644.7 912.3,646.4 913.4,649.3C914.6,652.2 906.0,657.6 923.4,659.2C940.8,660.9 1002.3,693.3 1018.0,659.2C1033.8,625.2 1040.4,489.1 1018.0,455.1C995.6,421.0 906.0,452.6 883.6,455.1Z" fill="#ffd9de"/>
<path d="M1018.0,547.2C1015.3,540.8 1006.8,547.8 1001.8,548.4C996.9,549.1 992.9,550.0 988.1,550.9C983.4,551.9 977.8,553.1 973.2,554.2C968.6,555.2 964.3,556.0 960.8,557.2C957.2,558.3 954.3,559.4 952.0,560.9C949.8,562.3 947.5,564.0 947.1,565.9C946.6,567.7 947.9,570.0 949.5,572.1C951.2,574.2 954.1,576.4 957.0,578.3C959.9,580.2 963.5,581.8 967.0,583.3C970.5,584.7 974.2,586.0 978.2,587.0C982.1,588.1 986.7,589.2 990.6,589.5C994.6,589.9 997.3,589.4 1001.8,589.0C1006.4,588.6 1015.3,594.0 1018.0,587.0C1020.7,580.1 1020.7,553.6 1018.0,547.2Z" fill="#ffecec"/>
<path d="M955.8,568.4C956.2,567.1 957.4,565.5 959.5,564.6C961.6,563.7 965.1,563.0 968.2,562.9C971.3,562.8 975.5,563.2 978.2,564.1C980.9,565.0 983.4,566.6 984.4,568.4C985.4,570.1 985.4,572.9 984.4,574.6C983.4,576.2 980.7,577.6 978.2,578.3C975.7,579.1 972.2,579.5 969.5,579.1C966.8,578.6 964.1,577.0 962.0,575.8C959.9,574.7 958.1,573.3 957.0,572.1C956.0,570.8 955.4,569.6 955.8,568.4Z" fill="#c9dfe7"/>
<path d="M935.9,529.8C935.4,527.3 936.7,524.4 938.3,522.3C940.0,520.2 942.9,518.3 945.8,517.3C948.7,516.3 952.7,515.9 955.8,516.1C958.9,516.3 962.2,516.9 964.5,518.6C966.8,520.2 968.7,523.3 969.5,526.0C970.2,528.7 969.8,532.3 969.0,534.7C968.1,537.2 966.5,539.3 964.5,541.0C962.5,542.6 959.7,544.5 957.0,544.7C954.3,544.9 951.0,543.5 948.3,542.2C945.6,541.0 942.9,539.3 940.8,537.2C938.8,535.2 936.3,532.3 935.9,529.8Z" fill="#f0b6b9"/>
<path d="M894.8,569.6C894.8,566.7 895.4,564.1 897.3,562.1C899.1,560.1 902.7,558.3 906.0,557.6C909.3,557.0 914.3,557.5 917.2,558.4C920.1,559.3 920.4,561.2 923.4,563.1C926.4,565.1 931.6,567.6 935.1,570.1C938.6,572.6 941.2,576.0 944.6,578.1C948.0,580.2 952.2,581.0 955.5,582.8C958.9,584.6 962.2,586.9 964.7,589.0C967.3,591.1 969.4,593.3 970.7,595.2C972.0,597.2 972.9,598.8 972.5,600.7C972.0,602.7 970.2,604.7 968.2,607.0C966.3,609.2 963.7,612.3 960.8,614.4C957.8,616.5 954.1,618.4 950.8,619.4C947.5,620.4 944.2,621.1 940.8,620.6C937.5,620.2 934.2,618.8 930.9,616.9C927.6,615.0 924.0,612.3 920.9,609.4C917.8,606.5 915.1,602.8 912.2,599.5C909.3,596.2 906.0,592.8 903.5,589.5C901.0,586.2 898.7,582.9 897.3,579.6C895.8,576.2 894.8,572.5 894.8,569.6Z" fill="#f0b6b9"/>
<path d="M937.1,594.5C937.3,593.0 938.1,590.8 939.6,589.5C941.0,588.3 943.7,587.2 945.8,587.0C947.9,586.8 950.4,587.2 952.0,588.3C953.7,589.3 955.4,591.6 955.8,593.3C956.2,594.9 955.6,596.8 954.5,598.2C953.5,599.7 951.4,601.4 949.5,602.0C947.7,602.5 945.2,602.1 943.3,601.5C941.5,600.9 939.4,599.4 938.3,598.2C937.3,597.1 936.9,596.0 937.1,594.5Z" fill="#ff9999"/>
<path d="M759.1,512.3C761.5,506.3 769.8,510.9 774.0,509.8C778.2,508.8 780.6,507.4 784.0,506.1C787.3,504.8 790.6,502.9 793.9,501.9C797.2,500.8 800.6,499.9 803.9,499.9C807.2,499.9 811.1,500.4 813.8,501.9C816.5,503.3 818.5,505.6 820.1,508.6C821.6,511.6 822.6,516.1 823.1,519.8C823.5,523.5 823.5,527.5 822.6,531.0C821.6,534.5 819.9,538.3 817.6,541.0C815.3,543.7 812.2,545.6 808.9,547.2C805.5,548.8 801.6,549.9 797.7,550.4C793.7,550.9 789.1,550.6 785.2,550.2C781.3,549.7 778.4,548.4 774.0,547.7C769.6,547.0 761.5,551.8 759.1,545.9C756.6,540.1 756.6,518.3 759.1,512.3Z" fill="#ffd9de"/>
<path d="M844.7,534.1C844.2,535.5 843.2,536.9 842.3,537.9C841.3,538.9 840.1,539.7 839.0,540.1C837.9,540.4 836.7,540.4 835.7,540.0C834.8,539.6 834.0,538.8 833.5,537.7C833.0,536.7 832.7,535.3 832.7,533.9C832.8,532.5 833.2,530.8 833.7,529.4C834.3,528.0 835.3,526.6 836.2,525.6C837.2,524.6 838.4,523.8 839.5,523.4C840.6,523.1 841.8,523.1 842.7,523.5C843.6,523.9 844.5,524.7 845.0,525.8C845.5,526.8 845.8,528.3 845.8,529.6C845.7,531.0 845.3,532.7 844.7,534.1Z" fill="#c9dfe7"/>
<path d="M787.7,631.9C789.4,629.8 795.0,630.7 798.9,630.6C802.8,630.5 808.2,630.7 811.4,631.4C814.5,632.0 816.7,631.8 817.6,634.3C818.5,636.9 817.2,642.6 816.8,646.8C816.4,650.9 816.0,655.9 815.1,659.2C814.2,662.6 813.6,665.9 811.4,666.7C809.1,667.5 804.5,666.3 801.4,664.2C798.3,662.1 794.8,657.8 792.7,654.3C790.6,650.7 789.8,646.8 788.9,643.1C788.1,639.3 786.0,633.9 787.7,631.9Z" fill="#ffd9de"/>
<path d="M845.0,650.5C846.4,647.6 850.6,644.5 853.7,641.8C856.8,639.1 859.9,636.2 863.6,634.3C867.4,632.5 871.5,631.2 876.1,630.6C880.7,630.0 886.5,630.2 891.0,630.6C895.6,631.0 900.0,631.9 903.5,633.1C907.0,634.3 910.5,633.7 912.2,638.1C913.9,642.4 924.6,655.7 913.4,659.2C902.2,662.8 856.4,660.7 845.0,659.2C833.6,657.8 843.5,653.4 845.0,650.5Z" fill="#c9dfe7"/>
</g>
<g clip-path="url(#cPR)">
<rect x="589" y="214" width="162" height="133" fill="#8fa3de"/>
<path d="M593.9,232.9C592.8,235.5 597.4,238.2 599.3,241.4C601.3,244.6 603.5,248.9 605.5,252.3C607.6,255.6 609.8,258.8 611.7,261.6C613.7,264.4 615.9,267.3 617.2,269.4C618.5,271.4 618.6,271.7 619.5,274.0C620.4,276.4 620.8,281.4 622.6,283.3C624.4,285.3 627.3,285.2 630.4,285.7C633.5,286.2 637.6,286.6 641.3,286.5C644.9,286.3 649.3,285.7 652.1,284.9C655.0,284.1 655.8,282.3 658.3,281.8C660.9,281.3 664.6,282.1 667.7,281.8C670.8,281.5 673.9,281.0 677.0,280.2C680.1,279.5 683.5,278.7 686.3,277.1C689.2,275.6 691.7,273.3 694.1,270.9C696.4,268.6 698.2,265.7 700.3,263.2C702.4,260.6 704.2,257.8 706.5,255.4C708.8,252.9 711.4,250.2 714.3,248.4C717.1,246.6 720.2,245.3 723.6,244.5C727.0,243.7 730.1,243.6 734.5,243.7C738.9,243.9 745.9,244.9 750.0,245.3C754.1,245.7 757.8,252.7 759.3,246.1C760.9,239.5 773.8,212.4 759.3,205.7C744.8,198.9 687.1,203.9 672.3,205.7C657.6,207.5 672.3,214.0 670.8,216.6C669.2,219.1 667.4,220.3 663.0,221.2C658.6,222.1 651.4,221.7 644.4,222.0C637.4,222.2 627.5,222.1 621.1,222.8C614.6,223.4 610.1,224.2 605.5,225.9C601.0,227.6 594.9,230.3 593.9,232.9Z" fill="#7c9cb8"/>
<path d="M624.5,252.3C624.6,250.2 625.3,248.3 626.5,246.8C627.7,245.3 629.7,244.0 631.9,243.3C634.1,242.6 636.9,242.6 639.7,242.7C642.6,242.7 645.9,243.2 649.0,243.7C652.1,244.3 655.2,245.3 658.3,246.1C661.5,246.8 664.8,247.4 667.7,248.4C670.5,249.4 673.4,250.6 675.4,252.3C677.5,254.0 679.1,256.2 679.8,258.5C680.4,260.8 680.0,264.1 679.3,266.3C678.6,268.5 677.4,270.3 675.4,271.7C673.5,273.1 670.5,274.3 667.7,274.8C664.8,275.3 661.5,274.9 658.3,274.8C655.2,274.7 651.9,274.2 649.0,274.0C646.2,273.8 643.6,274.1 641.3,273.7C638.9,273.3 637.0,272.9 635.0,271.7C633.1,270.5 631.1,268.3 629.6,266.3C628.1,264.2 626.9,261.6 626.0,259.3C625.2,256.9 624.4,254.4 624.5,252.3Z" fill="#58678e"/>
<path d="M580.7,247.6C582.2,242.3 587.4,247.6 590.0,248.4C592.6,249.2 594.3,250.3 596.2,252.3C598.2,254.2 600.3,257.2 601.7,260.0C603.0,262.9 604.0,266.5 604.3,269.4C604.6,272.2 604.5,275.3 603.7,277.1C602.8,278.9 601.6,279.7 599.3,280.2C597.0,280.8 593.1,280.2 590.0,280.2C586.9,280.2 582.2,285.7 580.7,280.2C579.1,274.8 579.1,252.9 580.7,247.6Z" fill="#c9dfe7"/>
<path d="M580.7,252.3C582.2,248.1 587.5,252.2 590.0,253.1C592.5,254.0 593.9,255.8 595.4,257.7C597.0,259.7 598.4,262.2 599.3,264.7C600.2,267.2 601.0,270.4 600.9,272.5C600.7,274.5 600.4,276.2 598.5,277.1C596.7,278.0 593.0,277.8 590.0,277.9C587.0,278.0 582.2,282.2 580.7,277.9C579.1,273.6 579.1,256.4 580.7,252.3Z" fill="#ffecec"/>
<path d="M580.7,256.9C582.2,254.0 587.8,257.5 590.0,258.5C592.2,259.5 592.8,261.3 593.9,263.2C594.9,265.0 596.0,267.4 596.2,269.4C596.5,271.3 596.5,273.7 595.4,274.8C594.4,275.9 592.5,275.7 590.0,275.9C587.5,276.1 582.2,279.1 580.7,275.9C579.1,272.7 579.1,259.8 580.7,256.9Z" fill="#ffd9de"/>
<path d="M602.4,322.2C602.0,319.3 602.7,314.9 603.2,311.3C603.7,307.7 604.4,303.8 605.5,300.4C606.7,297.1 608.3,293.6 610.2,291.1C612.1,288.7 614.6,286.4 617.2,285.7C619.8,285.0 622.5,286.2 625.7,286.8C629.0,287.3 633.0,288.4 636.6,288.8C640.2,289.2 644.1,289.6 647.5,289.3C650.8,288.9 653.9,287.5 656.8,286.8C659.6,286.0 661.7,284.6 664.6,284.6C667.4,284.5 671.0,285.1 673.9,286.5C676.7,287.8 679.6,290.1 681.7,292.7C683.7,295.3 685.3,298.6 686.3,302.0C687.3,305.4 687.8,309.2 687.6,312.9C687.3,316.5 686.3,320.4 684.8,323.7C683.3,327.1 681.1,330.3 678.5,333.1C676.0,335.8 672.6,338.2 669.2,340.0C665.9,341.9 662.2,343.1 658.3,343.9C654.5,344.8 650.1,345.2 645.9,345.2C641.8,345.2 637.6,344.9 633.5,343.9C629.4,342.9 624.7,341.0 621.1,339.3C617.4,337.6 614.3,335.6 611.7,333.8C609.2,332.0 607.1,330.3 605.5,328.4C604.0,326.5 602.8,325.0 602.4,322.2Z" fill="#c9dfe7"/>
<path d="M616.4,305.1C616.6,302.8 616.9,299.5 618.0,297.3C619.0,295.1 620.6,293.0 622.6,291.9C624.7,290.8 627.5,290.7 630.4,290.8C633.2,290.9 636.6,292.4 639.7,292.7C642.8,293.0 645.9,293.1 649.0,292.7C652.1,292.3 655.4,290.5 658.3,290.3C661.3,290.2 664.4,290.7 666.9,291.9C669.4,293.1 671.8,295.1 673.1,297.3C674.4,299.5 674.9,302.5 674.7,305.1C674.4,307.7 673.2,310.7 671.6,312.9C669.9,315.1 667.3,316.7 664.6,318.3C661.8,319.9 658.6,321.0 655.2,322.2C651.9,323.3 648.0,324.6 644.4,325.3C640.7,326.0 636.7,326.8 633.5,326.5C630.3,326.3 627.3,325.2 625.0,323.7C622.6,322.2 620.9,319.6 619.5,317.5C618.1,315.5 617.2,313.4 616.7,311.3C616.2,309.2 616.2,307.4 616.4,305.1Z" fill="#ffecec"/>
<path d="M715.8,277.1C716.0,274.0 716.3,271.4 717.4,269.4C718.4,267.3 720.0,265.7 722.0,264.7C724.1,263.7 727.3,263.2 729.8,263.5C732.3,263.7 735.0,264.6 736.8,266.3C738.6,267.9 739.6,270.7 740.4,273.3C741.1,275.8 741.3,278.8 741.5,281.8C741.6,284.8 741.6,288.3 741.5,291.1C741.3,294.0 740.9,296.3 740.7,298.9C740.4,301.5 739.8,304.1 739.9,306.7C740.0,309.2 740.6,311.8 741.5,314.4C742.4,317.0 743.9,319.9 745.3,322.2C746.8,324.5 747.7,326.6 750.0,328.4C752.3,330.2 757.8,328.7 759.3,333.1C760.9,337.5 773.0,351.2 759.3,354.8C745.6,358.4 690.5,356.3 677.0,354.8C663.5,353.3 677.0,348.5 678.5,346.0C680.1,343.4 683.5,341.4 686.3,339.3C689.2,337.1 692.5,335.4 695.6,333.1C698.7,330.7 702.1,328.1 705.0,325.3C707.8,322.4 710.6,319.1 712.7,316.0C714.8,312.9 716.3,309.8 717.4,306.7C718.4,303.5 719.1,300.4 718.9,297.3C718.8,294.2 717.1,291.4 716.6,288.0C716.1,284.6 715.7,280.2 715.8,277.1Z" fill="#c9dfe7"/>
<path d="M719.7,281.8C719.9,279.3 720.2,276.6 721.3,274.8C722.3,273.0 724.2,271.7 725.9,271.2C727.6,270.8 729.8,271.2 731.4,272.2C732.9,273.1 734.3,275.0 735.2,277.1C736.1,279.3 736.7,282.3 736.8,284.9C736.9,287.5 736.7,290.5 736.0,292.7C735.4,294.9 734.3,296.9 732.9,298.1C731.5,299.3 729.2,299.9 727.5,299.7C725.8,299.4 724.0,298.2 722.8,296.6C721.6,294.9 720.7,292.0 720.2,289.6C719.7,287.1 719.5,284.3 719.7,281.8Z" fill="#ffecec"/>
<path d="M722.3,284.1C722.5,282.4 723.4,280.5 724.4,279.5C725.4,278.4 727.0,277.8 728.3,277.9C729.5,278.0 730.9,278.9 731.7,280.2C732.4,281.5 732.8,283.9 732.6,285.7C732.4,287.5 731.6,290.0 730.6,291.1C729.6,292.3 727.9,292.9 726.7,292.7C725.5,292.4 724.3,291.0 723.6,289.6C722.9,288.1 722.2,285.8 722.3,284.1Z" fill="#ffd9de"/>
<path d="M702.6,354.8C693.3,353.3 702.5,349.1 703.4,346.0C704.3,342.8 706.0,339.1 708.1,336.2C710.1,333.2 713.0,330.5 715.8,328.4C718.7,326.3 722.0,324.6 725.1,323.7C728.3,322.8 731.6,322.6 734.5,323.0C737.3,323.3 740.0,324.6 742.2,326.1C744.4,327.5 746.4,329.8 747.7,331.5C749.0,333.2 748.1,334.9 750.0,336.2C751.9,337.5 757.8,336.2 759.3,339.3C760.9,342.4 768.8,352.2 759.3,354.8C749.9,357.4 711.9,356.3 702.6,354.8Z" fill="#ffecec"/>
<path d="M714.3,354.8C708.8,353.3 714.3,348.5 715.0,346.0C715.8,343.4 717.2,341.3 718.9,339.3C720.6,337.3 722.8,335.1 725.1,333.8C727.5,332.5 730.5,331.5 732.9,331.5C735.4,331.5 738.0,332.5 739.9,333.8C741.8,335.1 743.4,337.3 744.6,339.3C745.7,341.3 746.4,343.4 746.9,346.0C747.4,348.5 753.1,353.3 747.7,354.8C742.2,356.3 719.7,356.3 714.3,354.8Z" fill="#ffd9de"/>
<path d="M704.2,281.8C704.8,280.2 706.5,280.1 708.1,279.9C709.6,279.7 712.5,279.6 713.5,280.6C714.5,281.5 714.3,284.0 714.3,285.7C714.3,287.3 714.5,289.4 713.5,290.3C712.5,291.3 709.6,291.6 708.1,291.4C706.6,291.3 705.1,291.2 704.5,289.6C703.8,288.0 703.6,283.4 704.2,281.8Z" fill="#7c9cb8"/>
</g>
<g clip-path="url(#cG2)">
<rect x="689" y="254" width="162" height="133" fill="#8fa3de"/>
<path d="M680.7,245.7C684.8,240.8 701.5,244.1 705.5,245.7C709.5,247.2 705.3,252.4 704.8,255.0C704.2,257.6 703.6,259.1 702.4,261.2C701.3,263.3 699.3,265.6 697.8,267.4C696.2,269.2 694.4,270.9 693.1,272.1C691.8,273.3 692.1,273.9 690.0,274.4C687.9,274.9 682.2,280.0 680.7,275.2C679.1,270.4 676.5,250.6 680.7,245.7Z" fill="#7c9cb8"/>
<path d="M704.3,281.4C705.0,280.3 707.1,280.2 708.6,280.2C710.1,280.2 712.5,280.4 713.3,281.4C714.1,282.4 713.9,284.7 713.6,286.1C713.4,287.4 712.8,288.8 711.7,289.5C710.7,290.1 708.3,290.4 707.1,290.0C705.8,289.5 704.8,288.3 704.3,286.8C703.8,285.4 703.6,282.5 704.3,281.4Z" fill="#7c9cb8"/>
<path d="M680.7,335.0C682.2,325.0 687.4,335.6 690.0,335.0C692.6,334.4 694.1,332.5 696.2,331.1C698.3,329.7 700.4,328.1 702.4,326.5C704.5,324.8 706.6,323.0 708.6,321.0C710.7,319.1 713.0,316.9 714.9,314.8C716.7,312.7 718.5,310.5 719.5,308.6C720.6,306.7 721.1,305.0 721.1,303.2C721.1,301.3 720.2,299.8 719.5,297.7C718.9,295.6 717.8,293.2 717.2,290.7C716.5,288.3 715.9,285.6 715.6,283.0C715.4,280.4 715.4,277.5 715.6,275.2C715.9,272.9 716.1,270.7 717.2,269.0C718.2,267.3 720.0,265.9 721.8,265.1C723.7,264.3 726.0,263.9 728.1,264.0C730.1,264.1 732.5,264.7 734.3,265.9C736.1,267.1 737.8,269.2 738.9,271.3C740.0,273.4 740.5,275.8 740.8,278.3C741.1,280.8 740.9,283.5 740.8,286.1C740.7,288.7 740.3,291.2 740.0,293.8C739.8,296.4 739.4,299.3 739.4,301.6C739.4,303.9 739.6,305.9 740.0,307.8C740.5,309.8 741.3,311.4 742.0,313.3C742.8,315.1 743.7,316.7 744.7,318.7C745.6,320.6 746.9,322.6 747.8,324.9C748.6,327.2 749.2,330.2 749.8,332.7C750.4,335.1 751.0,337.5 751.4,339.7C751.7,341.9 752.4,343.9 752.1,345.9C751.9,347.8 750.6,349.5 749.8,351.3C749.0,353.1 747.7,354.9 747.5,356.7C747.2,358.6 747.5,360.6 748.3,362.2C749.0,363.7 750.2,365.2 752.1,366.1C754.1,367.0 757.1,367.6 759.9,367.6C762.8,367.6 766.1,366.8 769.2,366.1C772.3,365.3 775.7,364.3 778.5,363.0C781.4,361.7 784.2,360.1 786.3,358.3C788.4,356.5 790.1,354.3 791.0,352.1C791.9,349.9 792.0,347.4 791.7,345.1C791.5,342.8 790.6,340.4 789.4,338.1C788.3,335.8 786.4,333.3 784.8,331.1C783.1,328.9 781.1,327.0 779.3,324.9C777.5,322.8 775.8,320.8 773.9,318.7C771.9,316.6 769.5,314.5 767.7,312.5C765.9,310.4 764.0,308.3 763.0,306.3C762.0,304.2 761.6,302.2 761.8,300.0C761.9,297.8 762.7,295.4 763.8,293.1C764.9,290.7 766.5,288.3 768.4,286.1C770.4,283.9 772.7,281.7 775.4,279.9C778.2,278.0 781.4,276.4 784.8,275.2C788.1,274.0 792.0,273.3 795.6,272.9C799.3,272.5 803.4,272.5 806.5,272.9C809.6,273.3 812.3,273.8 814.3,275.2C816.2,276.6 817.1,278.8 818.2,281.4C819.2,284.0 819.8,287.4 820.5,290.7C821.1,294.1 821.4,298.0 822.0,301.6C822.7,305.2 823.3,309.1 824.4,312.5C825.4,315.8 826.6,318.9 828.3,321.8C829.9,324.6 832.1,327.2 834.5,329.6C836.8,331.9 839.6,334.0 842.2,335.8C844.8,337.6 847.2,339.1 850.0,340.4C852.8,341.7 857.8,334.5 859.3,343.5C860.9,352.6 889.1,386.3 859.3,394.8C829.5,403.3 710.5,404.8 680.7,394.8C650.9,384.8 679.1,345.0 680.7,335.0Z" fill="#c9dfe7"/>
<path d="M749.8,329.6C750.2,327.8 750.7,325.9 752.1,324.9C753.6,323.9 756.0,323.2 758.3,323.3C760.7,323.5 763.5,324.4 766.1,325.7C768.7,327.0 771.7,329.2 773.9,331.1C776.1,333.1 778.0,335.1 779.3,337.3C780.6,339.5 781.5,342.0 781.7,344.3C781.8,346.7 781.1,349.2 780.1,351.3C779.1,353.4 777.2,355.2 775.4,356.7C773.6,358.3 771.3,359.7 769.2,360.6C767.2,361.6 764.8,362.5 763.0,362.5C761.2,362.5 759.6,361.7 758.3,360.6C757.1,359.5 756.1,357.7 755.2,356.0C754.4,354.3 753.6,352.1 753.4,350.5C753.2,349.0 754.2,348.1 754.0,346.7C753.8,345.2 752.8,343.8 752.1,342.0C751.4,340.2 750.2,337.8 749.8,335.8C749.4,333.7 749.4,331.4 749.8,329.6Z" fill="#7c9cb8"/>
<path d="M765.3,337.6C765.3,338.1 765.2,338.5 765.0,338.9C764.7,339.2 764.3,339.6 763.9,339.8C763.5,340.0 763.0,340.1 762.5,340.1C762.1,340.1 761.5,340.0 761.1,339.8C760.7,339.6 760.4,339.2 760.1,338.9C759.9,338.5 759.7,338.1 759.7,337.6C759.7,337.2 759.9,336.8 760.1,336.4C760.4,336.0 760.7,335.7 761.1,335.5C761.5,335.3 762.1,335.2 762.5,335.2C763.0,335.2 763.5,335.3 763.9,335.5C764.3,335.7 764.7,336.0 765.0,336.4C765.2,336.8 765.3,337.2 765.3,337.6Z" fill="#58678e"/>
<path d="M719.5,283.0C719.6,281.0 719.6,278.5 720.3,276.7C720.9,275.0 722.1,273.3 723.4,272.4C724.7,271.5 726.5,271.2 728.1,271.3C729.6,271.4 731.4,271.8 732.7,272.9C734.1,273.9 735.4,275.6 736.1,277.5C736.9,279.5 737.3,282.2 737.4,284.5C737.5,286.8 737.1,289.4 736.6,291.5C736.1,293.6 735.4,295.6 734.3,296.9C733.1,298.2 731.2,299.1 729.6,299.3C728.1,299.5 726.4,299.1 725.0,298.2C723.5,297.3 722.0,295.5 721.1,293.8C720.2,292.2 719.8,290.2 719.5,288.4C719.3,286.6 719.4,284.9 719.5,283.0Z" fill="#ffecec"/>
<path d="M722.6,286.1C722.7,284.6 722.8,282.7 723.4,281.4C724.0,280.2 725.4,279.0 726.5,278.6C727.6,278.2 729.0,278.5 730.1,279.1C731.1,279.7 732.1,280.9 732.7,282.2C733.3,283.5 733.6,285.3 733.5,286.8C733.4,288.4 732.7,290.3 731.9,291.5C731.2,292.7 729.9,293.6 728.8,293.8C727.7,294.1 726.4,293.7 725.4,293.1C724.5,292.4 723.6,291.1 723.1,290.0C722.6,288.8 722.6,287.5 722.6,286.1Z" fill="#ffd9de"/>
<path d="M775.1,304.7C775.3,302.6 775.9,300.3 777.0,298.5C778.1,296.7 779.7,295.0 781.7,293.8C783.6,292.7 786.2,291.8 788.6,291.5C791.1,291.2 793.9,291.5 796.4,292.3C798.9,293.1 801.5,294.5 803.4,296.2C805.3,297.8 806.8,299.9 808.1,302.4C809.3,304.8 810.3,307.9 810.9,310.9C811.4,313.9 811.6,317.1 811.5,320.2C811.4,323.3 811.1,326.8 810.4,329.6C809.7,332.3 808.7,335.0 807.3,336.6C805.9,338.1 803.8,338.9 801.8,338.9C799.9,338.9 797.7,337.7 795.6,336.6C793.6,335.4 791.4,333.8 789.4,331.9C787.5,330.0 785.7,327.4 784.0,324.9C782.3,322.4 780.6,319.5 779.3,317.1C778.0,314.8 776.9,313.0 776.2,310.9C775.5,308.9 775.0,306.8 775.1,304.7Z" fill="#ffecec"/>
<path d="M680.7,369.2C682.2,364.8 687.9,369.6 690.0,368.4C692.1,367.2 691.9,364.5 693.1,362.2C694.3,359.9 695.7,357.0 697.0,354.4C698.3,351.8 699.4,349.2 700.9,346.7C702.3,344.1 703.9,341.3 705.5,338.9C707.2,336.4 709.0,334.0 711.0,331.9C712.9,329.8 715.0,327.9 717.2,326.5C719.4,325.0 721.8,323.9 724.2,323.3C726.5,322.8 729.0,323.0 731.2,323.3C733.4,323.7 735.4,324.6 737.4,325.7C739.3,326.7 741.3,327.9 742.8,329.6C744.4,331.2 745.5,333.7 746.7,335.8C747.9,337.8 749.0,339.9 749.8,342.0C750.6,344.1 751.5,346.4 751.4,348.2C751.2,350.0 749.9,351.3 749.0,352.9C748.1,354.4 746.6,355.7 745.9,357.5C745.3,359.3 744.6,361.9 745.1,363.7C745.7,365.6 747.3,367.2 749.0,368.4C750.7,369.6 752.9,370.5 755.2,370.7C757.6,371.0 760.2,370.6 763.0,370.0C765.9,369.3 769.2,368.0 772.3,366.8C775.4,365.7 778.5,364.5 781.7,363.0C784.8,361.4 788.1,359.2 791.0,357.5C793.8,355.8 795.9,354.2 798.7,352.9C801.6,351.6 805.0,350.5 808.1,349.8C811.2,349.0 814.3,348.3 817.4,348.2C820.5,348.1 823.6,348.5 826.7,349.0C829.8,349.5 832.9,350.3 836.0,351.3C839.1,352.3 843.0,354.2 845.3,355.2C847.7,356.2 847.7,356.6 850.0,357.5C852.3,358.4 857.8,354.4 859.3,360.6C860.9,366.8 889.1,389.1 859.3,394.8C829.5,400.5 710.5,399.1 680.7,394.8C650.9,390.5 679.1,373.6 680.7,369.2Z" fill="#ffecec"/>
<path d="M699.3,386.0C699.7,382.8 700.2,379.3 700.9,376.2C701.5,373.0 702.4,370.0 703.2,366.8C704.0,363.7 704.6,360.6 705.5,357.5C706.4,354.4 707.3,351.2 708.6,348.2C709.9,345.2 711.5,342.2 713.3,339.7C715.1,337.1 717.3,334.5 719.5,332.7C721.7,330.9 724.2,329.4 726.5,328.8C728.8,328.2 731.3,328.7 733.5,329.3C735.7,329.8 737.9,330.7 739.7,331.9C741.5,333.1 743.0,334.9 744.4,336.6C745.7,338.2 746.9,340.2 747.8,342.0C748.7,343.8 749.7,345.7 749.8,347.4C749.9,349.1 749.2,350.7 748.3,352.1C747.3,353.5 745.8,354.5 744.4,356.0C742.9,357.4 741.0,358.8 739.7,360.6C738.4,362.4 737.2,364.5 736.6,366.8C736.0,369.2 735.8,372.0 735.8,374.6C735.8,377.2 736.2,379.0 736.6,382.4C737.0,385.7 744.5,392.7 738.2,394.8C731.8,396.9 705.0,396.3 698.5,394.8C692.1,393.3 698.9,389.1 699.3,386.0Z" fill="#ffd9de"/>
<path d="M736.3,346.7C736.6,346.2 737.1,345.9 738.2,345.7C739.2,345.5 741.7,345.4 742.8,345.6C744.0,345.7 744.9,346.2 745.1,346.7C745.4,347.1 745.3,347.9 744.4,348.2C743.5,348.5 741.0,348.7 739.7,348.7C738.4,348.7 737.2,348.5 736.6,348.2C736.0,347.9 736.0,347.1 736.3,346.7Z" fill="#f0b6b9"/>
<path d="M771.6,394.8C767.8,393.3 771.4,388.5 771.6,386.0C771.7,383.4 771.7,381.3 772.3,379.3C773.0,377.3 773.9,375.2 775.4,373.8C777.0,372.5 779.6,371.5 781.7,371.2C783.7,370.9 786.1,371.1 787.9,371.8C789.7,372.5 791.4,373.6 792.5,375.4C793.6,377.1 794.1,379.1 794.4,382.4C794.6,385.6 797.9,392.7 794.1,394.8C790.3,396.9 775.3,396.3 771.6,394.8Z" fill="#ffd9de"/>
<path d="M859.3,371.5C857.8,367.8 852.6,371.6 850.0,372.3C847.4,372.9 845.5,374.0 843.8,375.4C842.1,376.8 840.8,378.9 839.9,380.8C839.0,382.8 838.7,384.7 838.3,387.0C838.0,389.4 834.1,393.5 837.6,394.8C841.1,396.1 855.7,398.7 859.3,394.8C862.9,390.9 860.9,375.3 859.3,371.5Z" fill="#ffd9de"/>
<path d="M756.0,394.8C753.7,393.3 756.1,388.2 756.5,386.0C756.9,383.8 757.3,382.7 758.3,381.6C759.4,380.5 761.5,379.4 763.0,379.3C764.6,379.1 766.5,379.7 767.7,380.8C768.8,381.9 769.5,383.6 770.0,386.0C770.5,388.3 772.8,393.3 770.5,394.8C768.1,396.3 758.3,396.3 756.0,394.8Z" fill="#c9dfe7"/>
<path d="M798.0,394.8C793.5,393.3 798.2,388.8 798.7,386.0C799.3,383.1 799.8,380.0 801.1,377.7C802.4,375.4 804.6,373.5 806.5,372.3C808.4,371.0 810.6,370.3 812.7,370.3C814.8,370.2 817.1,370.6 818.9,371.8C820.7,373.1 822.6,375.4 823.6,377.7C824.6,380.1 824.8,383.1 825.1,386.0C825.5,388.8 830.0,393.3 825.5,394.8C820.9,396.3 802.4,396.3 798.0,394.8Z" fill="#c9dfe7"/>
<path d="M804.2,394.8C801.6,393.3 804.3,388.3 805.0,386.0C805.6,383.6 806.8,382.1 808.1,380.8C809.4,379.6 811.2,378.5 812.7,378.5C814.3,378.4 816.2,379.3 817.4,380.5C818.5,381.8 819.2,383.6 819.7,386.0C820.2,388.3 822.8,393.3 820.2,394.8C817.6,396.3 806.7,396.3 804.2,394.8Z" fill="#8fa3de"/>
</g>
<g clip-path="url(#cG3)">
<rect x="689" y="385" width="162" height="133" fill="#ffecec"/>
<path d="M680.7,425.6C682.2,433.6 686.9,425.4 690.0,424.8C693.1,424.2 696.2,423.1 699.3,422.0C702.4,421.0 705.3,419.7 708.6,418.6C712.0,417.6 715.9,416.5 719.5,415.8C723.1,415.2 727.0,415.2 730.4,414.7C733.8,414.3 737.0,414.0 739.7,413.2C742.4,412.4 744.8,411.4 746.7,410.1C748.6,408.8 750.2,407.2 751.4,405.4C752.5,403.6 753.2,401.4 753.7,399.2C754.2,397.0 754.3,394.4 754.5,392.2C754.7,390.0 754.9,388.6 754.9,386.0C755.0,383.4 767.3,378.2 754.9,376.7C742.6,375.1 693.1,368.5 680.7,376.7C668.3,384.8 679.1,417.6 680.7,425.6Z" fill="#ffd9de"/>
<path d="M756.8,376.7C754.6,378.2 757.1,383.8 757.6,386.0C758.1,388.2 758.7,389.0 759.9,389.9C761.1,390.8 763.0,391.4 764.6,391.4C766.1,391.4 768.2,390.8 769.2,389.9C770.3,389.0 770.5,388.2 770.8,386.0C771.0,383.8 773.1,378.2 770.8,376.7C768.4,375.1 759.0,375.1 756.8,376.7Z" fill="#c9dfe7"/>
<path d="M773.1,376.7C769.7,378.2 773.0,383.2 773.1,386.0C773.2,388.8 773.2,391.3 773.9,393.8C774.5,396.2 775.7,398.8 777.0,400.8C778.3,402.7 780.1,405.0 781.7,405.4C783.2,405.8 785.0,404.5 786.3,403.1C787.6,401.7 788.5,398.9 789.4,396.9C790.3,394.8 791.1,392.5 791.7,390.7C792.4,388.8 793.0,388.3 793.3,386.0C793.6,383.7 796.7,378.2 793.3,376.7C789.9,375.1 776.5,375.1 773.1,376.7Z" fill="#ffd9de"/>
<path d="M713.3,437.3C713.8,435.2 714.3,433.1 715.6,431.0C716.9,429.0 718.9,426.8 721.1,424.8C723.3,422.9 726.0,420.8 728.8,419.4C731.7,418.0 735.0,417.1 738.2,416.3C741.3,415.5 744.4,415.1 747.5,414.7C750.6,414.3 753.7,414.0 756.8,414.0C759.9,414.0 763.0,414.5 766.1,414.7C769.2,415.0 772.6,415.5 775.4,415.5C778.3,415.5 781.1,415.4 783.2,414.7C785.3,414.1 786.6,413.1 787.9,411.6C789.2,410.2 790.1,408.1 791.0,406.2C791.9,404.3 792.5,402.1 793.3,400.0C794.1,397.9 794.7,395.6 795.6,393.8C796.5,392.0 797.7,390.4 798.7,389.1C799.8,387.8 801.3,388.1 801.8,386.0C802.4,383.9 797.7,378.2 801.8,376.7C806.0,375.1 822.6,375.1 826.7,376.7C830.8,378.2 826.6,383.2 826.7,386.0C826.8,388.8 827.6,390.9 827.5,393.8C827.3,396.6 826.7,400.0 825.9,403.1C825.1,406.2 824.0,409.3 822.8,412.4C821.7,415.5 820.2,418.6 818.9,421.7C817.6,424.8 816.2,427.9 815.0,431.0C813.9,434.2 812.7,437.3 811.9,440.4C811.2,443.5 810.6,446.6 810.4,449.7C810.1,452.8 810.3,455.9 810.4,459.0C810.5,462.1 811.2,465.2 811.2,468.3C811.2,471.4 811.2,474.8 810.4,477.7C809.6,480.5 808.2,483.1 806.5,485.4C804.8,487.7 802.6,489.8 800.3,491.6C798.0,493.4 795.1,495.1 792.5,496.3C789.9,497.5 787.3,498.3 784.8,498.6C782.2,498.9 779.3,498.4 777.0,498.2C774.7,497.9 772.6,497.9 770.8,497.1C769.0,496.2 767.2,494.9 766.1,493.2C765.1,491.5 764.4,488.8 764.6,487.0C764.7,485.2 765.9,484.0 766.9,482.3C767.9,480.6 769.5,478.9 770.8,476.9C772.1,474.8 773.8,472.1 774.7,469.9C775.5,467.7 775.9,465.7 775.7,463.7C775.6,461.6 775.0,459.4 773.9,457.5C772.8,455.5 770.8,453.6 769.2,452.0C767.7,450.5 767.4,448.7 764.6,448.1C761.7,447.6 756.8,448.7 752.1,448.9C747.5,449.2 741.8,449.4 736.6,449.7C731.4,449.9 725.0,450.5 721.1,450.5C717.2,450.5 714.7,450.9 713.3,449.7C711.9,448.5 712.5,445.5 712.5,443.5C712.5,441.4 712.8,439.3 713.3,437.3Z" fill="#c9dfe7"/>
<path d="M741.3,463.7C741.8,462.8 745.1,461.9 747.5,461.3C749.8,460.8 752.7,460.7 755.2,460.6C757.8,460.4 761.5,460.0 763.0,460.6C764.6,461.1 765.1,462.6 764.6,463.7C764.0,464.7 762.0,466.1 759.9,466.8C757.8,467.4 754.7,467.6 752.1,467.6C749.5,467.6 746.2,467.4 744.4,466.8C742.6,466.1 740.7,464.6 741.3,463.7Z" fill="#ffd9de"/>
<path d="M725.7,435.7C725.6,433.9 726.2,431.4 727.3,429.5C728.3,427.6 729.9,425.7 731.9,424.1C734.0,422.4 736.9,420.6 739.7,419.4C742.6,418.2 745.9,417.5 749.0,417.1C752.1,416.7 755.2,416.7 758.3,417.1C761.5,417.5 764.6,418.5 767.7,419.4C770.8,420.3 774.1,421.9 777.0,422.5C779.8,423.2 782.7,423.8 784.8,423.3C786.8,422.8 788.3,421.1 789.4,419.4C790.6,417.7 791.1,415.4 791.7,413.2C792.4,411.0 792.7,408.5 793.3,406.2C793.9,403.9 794.7,401.4 795.6,399.2C796.5,397.0 797.6,394.8 798.7,393.0C799.9,391.2 801.3,389.5 802.6,388.3C803.9,387.2 805.9,387.9 806.5,386.0C807.2,384.1 803.9,378.2 806.5,376.7C809.1,375.1 819.4,375.1 822.0,376.7C824.6,378.2 821.9,383.2 822.0,386.0C822.2,388.8 822.9,390.9 822.8,393.8C822.7,396.6 822.2,400.0 821.3,403.1C820.4,406.2 818.8,409.6 817.4,412.4C816.0,415.3 814.5,417.6 812.7,420.2C810.9,422.8 808.6,425.6 806.5,427.9C804.4,430.3 802.1,432.1 800.3,434.2C798.5,436.2 796.9,438.4 795.6,440.4C794.3,442.3 794.1,444.4 792.5,445.8C791.0,447.2 788.6,448.3 786.3,448.9C784.0,449.6 781.1,449.8 778.5,449.7C776.0,449.6 773.4,448.7 770.8,448.1C768.2,447.6 765.6,446.7 763.0,446.6C760.4,446.5 757.8,447.1 755.2,447.4C752.7,447.6 750.1,448.1 747.5,448.1C744.9,448.1 742.2,448.0 739.7,447.4C737.2,446.7 734.7,445.4 732.7,444.3C730.8,443.1 729.2,441.8 728.1,440.4C726.9,438.9 725.9,437.5 725.7,435.7Z" fill="#8fa3de"/>
<path d="M741.3,429.5C740.9,427.8 741.7,426.0 742.8,424.8C744.0,423.7 746.3,422.8 748.3,422.5C750.2,422.2 752.7,422.3 754.5,423.0C756.3,423.6 758.1,425.0 759.1,426.4C760.2,427.7 760.9,429.6 760.7,431.0C760.4,432.5 759.1,434.1 757.6,434.9C756.0,435.8 753.4,436.0 751.4,436.0C749.3,436.0 746.8,436.0 745.1,434.9C743.5,433.8 741.7,431.2 741.3,429.5Z" fill="#7c9cb8"/>
<path d="M798.7,400.0C798.7,398.2 799.3,396.0 800.3,394.5C801.3,393.1 803.4,391.8 805.0,391.4C806.5,391.0 808.4,391.3 809.6,392.2C810.9,393.1 812.0,395.1 812.4,396.9C812.8,398.7 812.5,401.3 811.9,403.1C811.3,404.9 810.1,406.8 808.8,407.7C807.5,408.7 805.6,409.2 804.2,408.8C802.8,408.4 801.2,406.9 800.3,405.4C799.4,403.9 798.7,401.8 798.7,400.0Z" fill="#7c9cb8"/>
<path d="M838.3,376.7C834.7,378.2 838.2,382.9 837.6,386.0C836.9,389.1 835.6,392.0 834.5,395.3C833.3,398.7 831.7,402.6 830.6,406.2C829.4,409.8 828.2,413.7 827.5,417.1C826.8,420.4 826.5,423.0 826.4,426.4C826.3,429.8 826.1,433.9 826.7,437.3C827.3,440.6 828.3,444.1 829.8,446.6C831.4,449.0 833.7,450.7 836.0,452.0C838.3,453.3 841.5,454.1 843.8,454.3C846.1,454.6 847.4,453.8 850.0,453.6C852.6,453.3 857.8,465.6 859.3,452.8C860.9,440.0 862.8,389.4 859.3,376.7C855.8,364.0 842.0,375.1 838.3,376.7Z" fill="#ffd9de"/>
<path d="M797.2,517.0C797.6,514.1 797.8,511.1 798.7,508.7C799.6,506.3 800.8,503.9 802.6,502.5C804.4,501.1 807.4,500.3 809.6,500.2C811.8,500.0 814.0,500.6 815.8,501.7C817.6,502.9 819.3,504.6 820.5,507.2C821.7,509.7 822.3,513.8 822.8,517.0C823.3,520.1 828.0,524.3 823.6,525.8C819.2,527.3 800.8,527.3 796.4,525.8C792.0,524.3 796.8,519.8 797.2,517.0Z" fill="#ffd9de"/>
</g>
<g clip-path="url(#cG4)">
<rect x="551" y="369" width="162" height="133" fill="#c9dfe7"/>
<path d="M542.7,390.2C544.2,395.2 548.9,390.2 552.0,391.0C555.1,391.7 558.2,393.6 561.3,394.9C564.4,396.1 567.5,397.7 570.6,398.7C573.7,399.8 577.4,400.6 580.0,401.1C582.6,401.6 583.8,402.0 586.2,401.8C588.5,401.7 591.1,401.2 593.9,400.3C596.8,399.4 600.2,398.0 603.3,396.4C606.4,394.9 609.7,392.8 612.6,391.0C615.4,389.2 617.8,387.5 620.3,385.5C622.9,383.6 625.8,381.1 628.1,379.3C630.4,377.5 632.5,376.2 634.3,374.7C636.1,373.1 638.2,372.3 639.0,370.0C639.8,367.7 655.0,362.2 639.0,360.7C622.9,359.1 558.7,355.8 542.7,360.7C526.6,365.6 541.1,385.1 542.7,390.2Z" fill="#8fa3de"/>
<path d="M566.0,360.7C564.2,362.2 565.8,368.1 566.3,370.0C566.8,371.9 567.8,371.6 569.1,371.9C570.3,372.2 572.5,372.2 573.7,371.9C575.0,371.6 576.0,371.9 576.5,370.0C577.1,368.1 578.6,362.2 576.9,360.7C575.1,359.1 567.7,359.1 566.0,360.7Z" fill="#7c9cb8"/>
<path d="M611.8,453.9C611.3,443.3 609.7,448.7 608.7,446.1C607.7,443.5 606.5,440.9 605.6,438.3C604.7,435.8 603.9,433.2 603.3,430.6C602.6,428.0 601.7,425.1 601.7,422.8C601.7,420.5 602.4,418.4 603.3,416.6C604.2,414.8 605.3,413.4 607.1,411.9C609.0,410.5 611.7,409.2 614.1,408.1C616.6,406.9 619.1,406.1 621.9,405.0C624.8,403.8 628.1,402.5 631.2,401.1C634.3,399.6 637.4,398.0 640.5,396.4C643.7,394.9 646.8,393.3 649.9,391.7C653.0,390.2 656.1,388.5 659.2,387.1C662.3,385.7 665.4,384.5 668.5,383.2C671.6,381.9 675.0,380.6 677.8,379.3C680.7,378.0 683.3,376.7 685.6,375.4C687.9,374.1 690.3,372.5 691.8,371.6C693.4,370.6 694.4,371.8 694.9,370.0C695.4,368.2 690.5,362.2 694.9,360.7C699.3,359.1 716.9,335.8 721.3,360.7C725.7,385.5 739.6,485.0 721.3,509.8C703.1,534.7 630.1,519.1 611.8,509.8C593.6,500.5 612.3,464.5 611.8,453.9Z" fill="#ffecec"/>
<path d="M632.8,432.1C632.4,430.1 632.9,428.0 633.6,425.9C634.2,423.9 635.2,421.7 636.7,419.7C638.1,417.8 639.9,415.8 642.1,414.3C644.3,412.7 647.0,411.4 649.9,410.4C652.7,409.4 656.1,408.7 659.2,408.1C662.3,407.4 665.4,407.2 668.5,406.5C671.6,405.9 674.7,405.2 677.8,404.2C680.9,403.1 684.3,401.8 687.1,400.3C690.0,398.7 692.6,396.8 694.9,394.9C697.2,392.9 699.3,390.7 701.1,388.6C702.9,386.6 704.5,384.5 705.8,382.4C707.1,380.4 707.9,378.0 708.9,376.2C709.9,374.4 711.2,374.1 712.0,371.6C712.8,369.0 712.0,362.5 713.6,360.7C715.1,358.9 720.0,351.5 721.3,360.7C722.6,369.9 722.9,406.6 721.3,415.8C719.8,425.1 714.1,416.2 712.0,416.3C709.9,416.4 710.7,416.3 708.9,416.6C707.1,416.9 703.7,417.4 701.1,418.2C698.5,418.9 695.7,420.0 693.4,421.3C691.0,422.6 689.0,424.1 687.1,425.9C685.3,427.7 684.0,430.1 682.5,432.1C680.9,434.2 679.6,436.5 677.8,438.3C676.0,440.2 673.9,441.7 671.6,443.0C669.3,444.3 666.4,445.5 663.8,446.1C661.3,446.8 658.7,446.9 656.1,446.9C653.5,446.9 650.8,446.8 648.3,446.1C645.9,445.5 643.4,444.3 641.3,443.0C639.2,441.7 637.3,440.2 635.9,438.3C634.5,436.5 633.2,434.2 632.8,432.1Z" fill="#ffd9de"/>
<path d="M542.7,401.1C544.2,395.9 549.4,400.8 552.0,401.1C554.6,401.3 556.3,401.7 558.2,402.6C560.2,403.5 562.4,405.0 563.7,406.5C564.9,408.1 565.7,410.0 566.0,411.9C566.2,413.9 566.0,416.3 565.2,418.2C564.4,420.0 562.5,421.3 561.3,422.8C560.2,424.4 558.7,425.9 558.2,427.5C557.7,429.0 560.8,431.4 558.2,432.1C555.6,432.9 545.3,437.3 542.7,432.1C540.1,427.0 541.1,406.2 542.7,401.1Z" fill="#ffecec"/>
</g>
<g clip-path="url(#cWC)">
<rect x="195" y="139" width="102" height="133" fill="#ffd9de"/>
<path d="M251.9,172.6C252.8,170.4 255.8,168.7 258.1,167.2C260.5,165.6 262.8,164.6 265.9,163.3C269.0,162.0 272.9,160.5 276.8,159.4C280.7,158.4 285.1,157.6 289.2,157.1C293.3,156.6 297.5,156.6 301.6,156.3C305.8,156.1 311.0,156.7 314.1,155.5C317.2,154.4 318.7,151.9 320.3,149.3C321.8,146.7 322.9,143.1 323.4,140.0C323.9,136.9 316.4,132.2 323.4,130.7C330.4,129.1 358.3,124.2 365.3,130.7C372.3,137.2 366.9,163.2 365.3,169.5C363.8,175.9 358.3,169.3 356.0,168.7C353.7,168.2 353.7,167.3 351.3,166.4C349.0,165.5 345.1,164.1 342.0,163.3C338.9,162.5 335.3,161.7 332.7,161.7C330.1,161.7 328.3,162.3 326.5,163.3C324.7,164.3 323.1,166.3 321.8,168.0C320.5,169.6 319.8,171.6 318.7,173.4C317.7,175.2 316.8,176.9 315.6,178.8C314.4,180.8 313.0,183.4 311.7,185.0C310.4,186.7 309.5,188.0 307.8,188.9C306.2,189.8 304.0,190.0 301.6,190.5C299.3,191.0 296.5,191.3 293.9,192.0C291.3,192.8 288.7,194.1 286.1,195.1C283.5,196.2 280.9,197.9 278.3,198.3C275.7,198.6 273.2,198.4 270.6,197.5C268.0,196.6 265.1,194.6 262.8,192.8C260.5,191.0 258.3,188.7 256.6,186.6C254.9,184.5 253.5,182.7 252.7,180.4C251.9,178.1 251.0,174.8 251.9,172.6Z" fill="#ffecec"/>
<path d="M269.0,173.4C269.1,171.7 270.0,170.0 271.3,168.7C272.6,167.5 274.7,166.6 276.8,166.1C278.8,165.6 281.6,165.3 283.8,165.6C286.0,165.9 288.4,166.7 290.0,168.0C291.5,169.3 292.8,171.6 293.1,173.4C293.3,175.2 292.4,177.3 291.5,178.8C290.6,180.4 289.3,181.8 287.7,182.7C286.0,183.6 283.5,184.2 281.4,184.3C279.4,184.3 277.0,184.1 275.2,183.2C273.4,182.3 271.6,180.5 270.6,178.8C269.5,177.2 268.9,175.1 269.0,173.4Z" fill="#c9dfe7"/>
<path d="M186.7,130.7C188.8,123.7 196.4,128.6 199.1,130.7C201.8,132.8 202.0,139.5 203.0,143.1C204.0,146.7 204.9,149.3 205.0,152.4C205.1,155.5 204.6,159.2 203.8,161.7C202.9,164.3 201.2,166.4 199.9,168.0C198.6,169.5 198.2,170.3 196.0,171.1C193.8,171.8 188.2,179.4 186.7,172.6C185.1,165.9 184.6,137.7 186.7,130.7Z" fill="#f0b6b9"/>
<path d="M186.7,261.2C188.2,258.1 193.2,260.9 196.0,261.2C198.8,261.4 201.4,261.8 203.8,262.7C206.1,263.6 208.4,265.2 210.0,266.6C211.5,268.0 212.3,268.8 213.1,271.0C213.9,273.2 219.0,278.3 214.6,279.8C210.2,281.3 191.3,282.9 186.7,279.8C182.0,276.7 185.1,264.3 186.7,261.2Z" fill="#f0b6b9"/>
<path d="M333.9,222.6C333.9,223.7 333.6,224.9 333.1,225.7C332.6,226.6 331.7,227.5 330.8,228.0C329.9,228.5 328.8,228.9 327.7,228.9C326.7,228.9 325.5,228.5 324.6,228.0C323.7,227.5 322.9,226.6 322.3,225.7C321.8,224.9 321.5,223.7 321.5,222.6C321.5,221.6 321.8,220.4 322.3,219.5C322.9,218.6 323.7,217.8 324.6,217.3C325.5,216.7 326.7,216.4 327.7,216.4C328.8,216.4 329.9,216.7 330.8,217.3C331.7,217.8 332.6,218.6 333.1,219.5C333.6,220.4 333.9,221.6 333.9,222.6Z" fill="#f0b6b9"/>
<path d="M255.0,279.8C236.6,278.3 254.5,273.8 255.0,271.0C255.5,268.1 256.8,265.4 258.1,262.7C259.4,260.1 261.0,257.5 262.8,255.0C264.6,252.4 266.7,249.8 269.0,247.2C271.3,244.6 274.2,241.5 276.8,239.4C279.4,237.3 281.7,235.8 284.5,234.8C287.4,233.7 290.8,233.2 293.9,233.2C297.0,233.2 300.3,233.7 303.2,234.8C306.0,235.8 308.4,237.6 311.0,239.4C313.5,241.2 316.1,243.7 318.7,245.6C321.3,247.6 323.6,249.5 326.5,251.1C329.3,252.6 332.7,253.9 335.8,255.0C338.9,256.0 341.8,256.8 345.1,257.3C348.5,257.8 352.6,257.9 356.0,258.1C359.4,258.2 363.8,254.7 365.3,258.4C366.9,262.0 383.7,276.2 365.3,279.8C346.9,283.4 273.4,281.3 255.0,279.8Z" fill="#ffecec"/>
<path d="M264.3,279.8C247.5,278.3 264.0,273.8 264.3,271.0C264.7,268.1 265.6,265.4 266.7,262.7C267.7,260.1 268.9,257.5 270.6,255.0C272.2,252.4 274.4,249.5 276.8,247.2C279.1,244.9 281.7,242.4 284.5,241.0C287.4,239.5 290.8,238.8 293.9,238.6C297.0,238.5 300.3,239.0 303.2,240.2C306.0,241.4 308.4,243.8 311.0,245.6C313.5,247.4 316.1,249.4 318.7,251.1C321.3,252.8 323.6,254.3 326.5,255.7C329.3,257.2 332.7,258.6 335.8,259.6C338.9,260.6 341.8,261.3 345.1,261.9C348.5,262.6 352.6,263.2 356.0,263.5C359.4,263.8 363.8,261.2 365.3,264.0C366.9,266.7 382.1,277.2 365.3,279.8C348.5,282.4 281.2,281.3 264.3,279.8Z" fill="#c9dfe7"/>
<path d="M272.1,279.8C256.6,278.3 271.9,273.8 272.1,271.0C272.4,268.1 272.8,265.4 273.7,262.7C274.6,260.1 276.0,257.3 277.6,255.0C279.1,252.6 280.8,250.6 283.0,248.7C285.2,246.9 288.2,245.0 290.8,244.1C293.3,243.2 295.9,242.8 298.5,243.3C301.1,243.8 303.7,245.5 306.3,247.2C308.9,248.9 311.5,251.5 314.1,253.4C316.6,255.3 319.0,257.3 321.8,258.8C324.7,260.4 327.8,261.6 331.1,262.7C334.5,263.9 337.9,264.9 342.0,265.8C346.2,266.7 352.1,267.6 356.0,268.2C359.9,268.7 363.8,267.0 365.3,268.9C366.9,270.9 380.9,278.0 365.3,279.8C349.8,281.6 287.7,281.3 272.1,279.8Z" fill="#8fa3de"/>
<path d="M286.1,261.2C285.8,258.3 286.6,256.7 287.7,255.0C288.7,253.2 290.5,251.5 292.3,250.6C294.1,249.7 296.5,249.2 298.5,249.5C300.6,249.9 303.2,251.1 304.7,252.6C306.3,254.2 307.5,256.6 307.8,258.8C308.2,261.0 307.8,263.6 307.1,265.8C306.3,268.0 306.2,271.0 303.2,272.0C300.2,273.1 292.1,273.9 289.2,272.0C286.4,270.2 286.4,264.0 286.1,261.2Z" fill="#7c9cb8"/>
</g>
<g clip-path="url(#cJM)">
<rect x="295" y="214" width="162" height="133" fill="#8fa3de"/>
<path d="M286.7,244.5C288.2,251.1 293.2,244.6 296.0,245.3C298.8,245.9 300.9,247.0 303.8,248.4C306.6,249.8 310.0,251.9 313.1,253.8C316.2,255.8 319.3,258.4 322.4,260.0C325.5,261.7 328.4,263.0 331.7,263.9C335.1,264.8 339.0,265.4 342.6,265.5C346.2,265.6 350.4,265.0 353.5,264.4C356.6,263.8 358.9,262.5 361.2,261.6C363.6,260.7 365.1,259.7 367.5,259.3C369.8,258.9 373.0,258.9 375.2,259.3C377.4,259.7 379.4,260.4 380.7,261.6C382.0,262.8 382.6,264.7 383.0,266.3C383.4,267.9 384.5,270.2 383.0,271.2C381.4,272.2 376.5,271.6 373.7,272.2C370.8,272.8 368.0,273.6 365.9,274.8C363.8,276.0 362.2,277.5 361.2,279.5C360.3,281.4 359.9,284.0 360.0,286.5C360.1,288.9 361.0,291.9 362.0,294.2C363.0,296.6 364.5,298.6 365.9,300.4C367.3,302.2 368.9,304.1 370.6,305.1C372.2,306.1 374.2,306.7 376.0,306.7C377.8,306.7 379.8,306.0 381.4,305.1C383.1,304.2 384.8,302.8 386.1,301.2C387.4,299.7 388.3,297.7 389.2,295.8C390.1,293.8 390.9,291.6 391.5,289.6C392.2,287.5 392.4,285.4 393.1,283.3C393.7,281.3 394.6,278.8 395.4,277.1C396.2,275.5 396.5,274.7 397.7,273.3C399.0,271.8 401.0,270.0 403.2,268.6C405.4,267.2 408.1,265.9 411.0,264.7C413.8,263.5 417.2,262.8 420.3,261.6C423.4,260.4 426.5,259.1 429.6,257.7C432.7,256.3 435.8,255.0 438.9,253.1C442.0,251.1 445.4,248.3 448.2,246.1C451.1,243.9 453.2,241.9 456.0,239.9C458.8,237.8 463.8,239.3 465.3,233.6C466.9,227.9 495.1,210.3 465.3,205.7C435.5,201.0 316.5,199.2 286.7,205.7C256.9,212.2 285.1,237.9 286.7,244.5Z" fill="#c9dfe7"/>
<path d="M286.7,239.9C288.2,245.7 292.9,240.0 296.0,240.6C299.1,241.3 302.2,242.4 305.3,243.7C308.4,245.0 311.5,246.7 314.6,248.4C317.7,250.1 320.9,252.4 324.0,253.8C327.1,255.3 329.9,256.5 333.3,257.3C336.6,258.0 340.5,258.6 344.2,258.5C347.8,258.4 351.7,257.7 355.0,256.6C358.4,255.6 361.5,254.0 364.3,252.3C367.2,250.5 370.3,248.1 372.1,246.1C373.9,244.0 375.0,242.2 375.2,239.9C375.5,237.5 374.6,234.7 373.7,232.1C372.8,229.5 371.1,226.7 369.8,224.3C368.5,222.0 366.8,219.7 365.9,218.1C365.0,216.6 364.9,217.1 364.3,215.0C363.8,212.9 375.7,207.2 362.8,205.7C349.9,204.1 299.4,200.0 286.7,205.7C274.0,211.4 285.1,234.0 286.7,239.9Z" fill="#ffecec"/>
<path d="M286.7,232.9C288.2,237.5 293.2,233.1 296.0,233.6C298.8,234.2 300.9,234.8 303.8,236.0C306.6,237.1 310.0,239.1 313.1,240.6C316.2,242.2 319.0,243.9 322.4,245.3C325.8,246.7 329.7,248.3 333.3,249.2C336.9,250.0 340.8,250.4 344.2,250.4C347.5,250.4 350.6,250.0 353.5,249.2C356.3,248.3 359.0,246.8 361.2,245.3C363.4,243.7 365.4,241.8 366.7,239.9C368.0,237.9 368.9,235.7 369.0,233.6C369.1,231.6 368.4,229.5 367.5,227.4C366.6,225.4 364.9,223.3 363.6,221.2C362.3,219.1 360.6,217.6 359.7,215.0C358.8,212.4 370.3,207.2 358.1,205.7C346.0,204.1 298.6,201.1 286.7,205.7C274.8,210.2 285.1,228.2 286.7,232.9Z" fill="#ffd9de"/>
<path d="M334.1,222.5C334.1,223.5 333.7,224.7 333.2,225.6C332.7,226.5 331.8,227.3 331.0,227.8C330.1,228.4 328.9,228.7 327.8,228.7C326.8,228.7 325.6,228.4 324.7,227.8C323.8,227.3 323.0,226.5 322.5,225.6C321.9,224.7 321.6,223.5 321.6,222.5C321.6,221.4 321.9,220.2 322.5,219.3C323.0,218.5 323.8,217.6 324.7,217.1C325.6,216.6 326.8,216.2 327.8,216.2C328.9,216.2 330.1,216.6 331.0,217.1C331.8,217.6 332.7,218.5 333.2,219.3C333.7,220.2 334.1,221.4 334.1,222.5Z" fill="#f0b6b9"/>
<path d="M362.0,205.7C355.3,207.2 362.1,212.4 362.8,215.0C363.4,217.6 364.6,219.1 365.9,221.2C367.2,223.3 368.8,225.6 370.6,227.4C372.4,229.2 374.7,230.9 376.8,232.1C378.8,233.3 380.7,234.3 383.0,234.4C385.3,234.5 388.4,233.9 390.8,232.9C393.1,231.8 395.2,230.0 397.0,228.2C398.8,226.4 400.6,224.2 401.6,222.0C402.7,219.8 402.9,217.7 403.2,215.0C403.4,212.3 410.0,207.2 403.2,205.7C396.3,204.1 368.8,204.1 362.0,205.7Z" fill="#8fa3de"/>
<path d="M369.0,205.7C364.9,207.2 369.0,212.8 369.8,215.0C370.6,217.2 371.7,218.1 373.7,218.9C375.6,219.7 378.8,219.8 381.4,219.7C384.0,219.5 387.1,218.9 389.2,218.1C391.3,217.3 393.0,217.1 393.9,215.0C394.8,212.9 398.8,207.2 394.6,205.7C390.5,204.1 373.2,204.1 369.0,205.7Z" fill="#7c9cb8"/>
<path d="M380.7,245.3C380.9,243.1 382.9,240.5 384.5,238.3C386.2,236.1 388.4,234.2 390.8,232.1C393.1,230.0 396.2,227.9 398.5,225.9C400.9,223.8 403.3,221.5 404.7,219.7C406.2,217.8 406.7,217.3 407.1,215.0C407.5,212.7 397.4,207.2 407.1,205.7C416.8,204.1 455.6,202.1 465.3,205.7C475.0,209.3 466.9,222.9 465.3,227.4C463.8,232.0 458.6,231.1 456.0,232.9C453.4,234.7 452.1,236.4 449.8,238.3C447.5,240.2 444.6,242.6 442.0,244.5C439.4,246.5 437.1,248.1 434.3,250.0C431.4,251.8 428.0,253.8 424.9,255.4C421.8,256.9 418.7,258.2 415.6,259.3C412.5,260.3 409.4,261.3 406.3,261.6C403.2,261.9 399.8,261.6 397.0,260.8C394.1,260.0 391.5,258.5 389.2,256.9C386.9,255.4 384.4,253.4 383.0,251.5C381.6,249.6 380.4,247.5 380.7,245.3Z" fill="#ffecec"/>
<path d="M391.5,244.5C391.9,242.9 393.7,240.2 395.4,238.3C397.1,236.4 399.6,234.5 401.6,232.9C403.7,231.2 405.8,229.6 407.8,228.2C409.9,226.8 412.2,225.7 414.1,224.3C415.9,222.9 417.7,221.2 418.7,219.7C419.8,218.1 420.0,217.3 420.3,215.0C420.5,212.7 415.1,207.2 420.3,205.7C425.4,204.1 446.4,204.1 451.3,205.7C456.3,207.2 450.2,212.4 449.8,215.0C449.4,217.6 449.8,218.9 449.0,221.2C448.2,223.5 446.8,226.4 445.1,229.0C443.4,231.6 441.2,234.4 438.9,236.7C436.6,239.1 433.7,241.0 431.1,243.0C428.6,244.9 426.2,246.8 423.4,248.4C420.5,250.0 417.2,251.5 414.1,252.3C411.0,253.1 407.6,253.3 404.7,253.1C401.9,252.8 398.9,251.6 397.0,250.7C395.0,249.9 394.0,249.0 393.1,247.9C392.2,246.9 391.1,246.1 391.5,244.5Z" fill="#ffd9de"/>
<path d="M366.7,283.3C366.9,281.8 367.6,279.3 369.0,277.9C370.4,276.5 372.9,275.5 375.2,274.8C377.6,274.2 380.4,273.9 383.0,274.0C385.6,274.2 388.7,274.9 390.8,275.6C392.8,276.2 394.9,276.6 395.4,277.9C395.9,279.2 394.6,281.5 393.9,283.3C393.1,285.2 392.1,287.2 390.8,288.8C389.5,290.3 387.8,291.6 386.1,292.7C384.4,293.8 382.5,295.1 380.7,295.5C378.8,295.9 376.9,295.7 375.2,295.0C373.5,294.3 371.9,292.4 370.6,291.1C369.3,289.8 368.1,288.5 367.5,287.2C366.8,285.9 366.4,284.9 366.7,283.3Z" fill="#ffecec"/>
<path d="M286.7,250.7C288.2,246.8 293.4,251.0 296.0,251.5C298.6,252.0 300.5,252.5 302.2,253.8C304.0,255.1 305.7,257.3 306.6,259.3C307.4,261.2 307.5,263.5 307.2,265.5C306.8,267.4 305.8,269.6 304.5,270.9C303.3,272.3 301.3,273.1 299.9,273.7C298.5,274.3 298.2,274.2 296.0,274.3C293.8,274.5 288.2,278.7 286.7,274.8C285.1,270.9 285.1,254.6 286.7,250.7Z" fill="#7c9cb8"/>
<path d="M395.4,288.0C395.4,285.7 397.0,283.5 398.5,281.8C400.1,280.1 402.4,278.7 404.7,277.9C407.1,277.1 409.7,276.9 412.5,277.1C415.4,277.4 418.7,278.8 421.8,279.5C424.9,280.1 428.3,281.0 431.1,281.0C434.0,281.0 436.6,280.6 438.9,279.5C441.2,278.3 443.3,276.0 445.1,274.0C446.9,272.1 448.2,269.9 449.8,267.8C451.3,265.7 453.4,262.9 454.4,261.6C455.5,260.3 454.2,261.1 456.0,260.0C457.8,259.0 463.8,244.8 465.3,255.4C466.9,266.0 466.9,312.7 465.3,323.7C463.8,334.7 459.1,322.3 456.0,321.4C452.9,320.5 450.0,319.2 446.7,318.3C443.3,317.4 439.4,316.7 435.8,316.0C432.2,315.2 428.6,314.7 424.9,313.6C421.3,312.6 417.4,311.4 414.1,309.8C410.7,308.1 407.3,305.9 404.7,303.5C402.1,301.2 400.1,298.4 398.5,295.8C397.0,293.2 395.4,290.3 395.4,288.0Z" fill="#7c9cb8"/>
<path d="M286.7,333.1C288.2,329.6 293.2,333.1 296.0,333.8C298.8,334.6 301.2,336.4 303.8,337.7C306.4,339.0 309.2,340.2 311.5,341.6C313.9,343.0 316.5,343.8 317.7,346.0C319.0,348.2 324.5,353.3 319.3,354.8C314.1,356.3 292.1,358.4 286.7,354.8C281.2,351.2 285.1,336.6 286.7,333.1Z" fill="#c9dfe7"/>
<path d="M374.4,354.8C362.0,353.3 375.1,348.2 376.8,346.0C378.5,343.8 381.4,342.8 384.5,341.6C387.7,340.4 391.5,339.5 395.4,339.0C399.3,338.4 403.7,338.2 407.8,338.2C412.0,338.2 416.1,338.5 420.3,339.0C424.4,339.4 428.8,340.0 432.7,340.8C436.6,341.7 440.7,343.1 443.6,343.9C446.4,344.8 448.5,344.1 449.8,346.0C451.1,347.8 463.9,353.3 451.3,354.8C438.8,356.3 386.9,356.3 374.4,354.8Z" fill="#c9dfe7"/>
</g>
<g clip-path="url(#cHS)">
<rect x="439" y="214" width="162" height="133" fill="#8fa3de"/>
<path d="M430.7,258.5C432.2,267.2 437.4,258.4 440.0,257.7C442.6,257.1 443.6,256.2 446.2,254.6C448.8,253.1 452.4,250.9 455.5,248.4C458.6,245.9 461.7,242.8 464.9,239.9C468.0,236.9 471.1,233.1 474.2,230.5C477.3,227.9 480.1,226.0 483.5,224.3C486.9,222.6 490.0,221.4 494.4,220.4C498.8,219.5 503.4,218.9 509.9,218.4C516.4,217.9 524.1,217.6 533.2,217.3C542.3,217.1 553.1,216.9 564.3,216.9C575.4,216.8 592.5,216.9 600.0,216.9C607.5,216.9 607.8,218.7 609.3,216.9C610.9,215.0 639.1,207.5 609.3,205.7C579.5,203.8 460.5,196.9 430.7,205.7C400.9,214.5 429.1,249.8 430.7,258.5Z" fill="#c9dfe7"/>
<path d="M430.7,205.7C435.7,198.9 456.2,204.1 461.0,205.7C465.8,207.2 460.2,212.5 459.4,215.0C458.6,217.5 456.6,218.4 456.3,220.4C456.1,222.5 457.1,225.4 457.9,227.4C458.6,229.5 460.8,231.3 461.0,232.9C461.1,234.4 460.3,235.6 458.6,236.7C457.0,237.9 453.5,238.8 450.9,239.9C448.3,240.9 446.5,241.9 443.1,243.0C439.7,244.0 432.8,252.3 430.7,246.1C428.6,239.9 425.6,212.4 430.7,205.7Z" fill="#ffecec"/>
<path d="M430.7,279.5C432.2,274.0 436.9,282.2 440.0,280.2C443.1,278.3 446.0,271.7 449.3,267.8C452.7,263.9 456.6,260.2 460.2,256.9C463.8,253.7 468.2,250.7 471.1,248.4C473.9,246.1 474.7,244.3 477.3,243.0C479.9,241.7 484.0,240.6 486.6,240.6C489.2,240.6 491.3,241.7 492.8,243.0C494.4,244.3 495.0,246.3 495.9,248.4C496.8,250.5 497.5,253.2 498.3,255.4C499.0,257.6 499.9,259.5 500.6,261.6C501.2,263.7 501.4,265.9 502.1,267.8C502.9,269.8 503.9,271.7 505.2,273.3C506.5,274.8 508.3,276.0 509.9,277.1C511.5,278.3 513.0,279.5 514.6,280.2C516.1,281.0 517.7,282.3 519.2,281.8C520.8,281.3 522.3,278.6 523.9,277.1C525.4,275.7 526.7,274.3 528.5,273.3C530.4,272.2 532.7,271.1 534.8,270.9C536.8,270.8 538.9,271.6 541.0,272.5C543.0,273.4 544.9,275.5 547.2,276.4C549.5,277.3 552.1,277.6 555.0,277.9C557.8,278.2 561.2,278.1 564.3,278.4C567.4,278.6 570.7,278.8 573.6,279.5C576.4,280.2 578.9,281.0 581.4,282.6C583.8,284.1 586.6,286.3 588.3,288.8C590.1,291.2 591.4,294.4 591.9,297.3C592.4,300.3 592.2,303.5 591.5,306.7C590.7,309.8 589.5,312.9 587.6,316.0C585.6,319.1 582.9,322.2 579.8,325.3C576.7,328.4 573.1,331.9 568.9,334.6C564.8,337.3 559.9,339.9 555.0,341.6C550.0,343.3 544.6,344.2 539.4,344.7C534.2,345.2 529.1,345.1 523.9,344.7C518.7,344.3 513.5,343.5 508.3,342.4C503.2,341.2 497.7,339.5 492.8,337.7C487.9,335.9 483.5,333.7 478.8,331.5C474.2,329.3 469.3,326.7 464.9,324.5C460.5,322.3 456.6,320.1 452.4,318.3C448.3,316.5 443.6,314.5 440.0,313.6C436.4,312.7 432.2,318.6 430.7,312.9C429.1,307.2 429.1,284.9 430.7,279.5Z" fill="#7c9cb8"/>
<path d="M516.1,238.3C516.5,236.7 517.4,234.3 519.2,232.9C521.0,231.4 523.6,230.5 527.0,229.8C530.4,229.0 535.0,228.5 539.4,228.2C543.8,227.9 548.7,227.9 553.4,227.9C558.1,227.9 563.2,227.9 567.4,228.2C571.5,228.5 575.7,229.0 578.3,229.8C580.8,230.5 582.5,231.7 582.9,232.9C583.3,234.0 582.1,235.7 580.6,236.7C579.0,237.8 576.3,238.4 573.6,239.1C570.9,239.7 567.4,239.9 564.3,240.6C561.2,241.4 557.5,242.4 555.0,243.7C552.4,245.0 550.8,246.7 548.7,248.4C546.7,250.1 544.6,252.4 542.5,253.8C540.5,255.3 538.4,256.6 536.3,256.9C534.2,257.3 532.0,256.9 530.1,256.2C528.2,255.4 526.3,253.8 524.7,252.3C523.0,250.7 521.3,248.5 520.0,246.8C518.7,245.2 517.5,243.6 516.9,242.2C516.2,240.8 515.7,239.9 516.1,238.3Z" fill="#7c9cb8"/>
<path d="M609.3,227.4C607.8,225.2 602.3,227.7 600.0,228.2C597.7,228.7 596.5,229.5 595.3,230.5C594.2,231.6 593.0,233.1 593.0,234.4C593.0,235.7 594.2,237.3 595.3,238.3C596.5,239.3 597.7,240.1 600.0,240.6C602.3,241.1 607.8,243.6 609.3,241.4C610.9,239.2 610.9,229.6 609.3,227.4Z" fill="#7c9cb8"/>
<path d="M465.6,288.0C465.4,285.4 466.3,282.3 467.2,280.2C468.1,278.2 469.1,276.7 471.1,275.6C473.0,274.5 476.0,273.8 478.8,273.7C481.7,273.6 485.0,274.2 488.2,274.8C491.3,275.4 494.6,276.0 497.5,277.1C500.3,278.3 502.7,280.4 505.2,281.8C507.8,283.2 510.4,284.8 513.0,285.7C515.6,286.6 518.7,287.6 520.8,287.2C522.8,286.8 523.8,284.5 525.4,283.3C527.1,282.2 529.1,280.6 530.9,280.2C532.7,279.9 533.9,280.4 536.3,281.0C538.8,281.7 542.5,283.2 545.6,284.1C548.7,285.0 551.8,285.9 555.0,286.5C558.1,287.0 561.6,286.8 564.3,287.2C567.0,287.6 569.7,287.6 571.3,288.8C572.9,290.0 573.8,292.3 573.9,294.2C574.0,296.2 573.4,298.4 572.0,300.4C570.7,302.5 568.4,304.8 565.8,306.7C563.2,308.5 559.9,310.0 556.5,311.3C553.1,312.6 549.5,313.6 545.6,314.4C541.7,315.2 537.3,315.7 533.2,316.0C529.1,316.2 524.9,316.2 520.8,316.0C516.6,315.7 512.5,315.2 508.3,314.4C504.2,313.6 499.8,312.5 495.9,311.3C492.0,310.1 488.4,309.0 485.0,307.4C481.7,305.9 478.4,303.9 475.7,302.0C473.0,300.0 470.4,298.1 468.7,295.8C467.1,293.4 465.9,290.6 465.6,288.0Z" fill="#58678e"/>
<path d="M546.4,263.2C546.7,261.0 547.3,257.6 548.7,255.4C550.2,253.2 552.4,251.3 555.0,250.0C557.5,248.6 560.9,247.8 564.3,247.3C567.6,246.8 571.5,246.7 575.1,246.8C578.8,247.0 582.9,247.5 586.0,248.4C589.1,249.3 591.7,250.6 593.8,252.3C595.9,254.0 597.4,256.2 598.4,258.5C599.5,260.8 600.3,263.7 600.3,266.3C600.3,268.9 599.5,272.0 598.4,274.0C597.4,276.1 595.9,277.8 593.8,278.7C591.7,279.6 588.9,279.7 586.0,279.5C583.2,279.2 579.8,277.7 576.7,277.1C573.6,276.6 570.5,276.5 567.4,276.4C564.3,276.2 560.8,276.9 558.1,276.4C555.3,275.8 552.9,274.5 551.1,273.3C549.3,272.0 548.0,270.3 547.2,268.6C546.4,266.9 546.1,265.4 546.4,263.2Z" fill="#c9dfe7"/>
<path d="M549.5,263.2C549.8,261.2 550.6,258.0 551.8,256.2C553.1,254.3 555.0,253.1 557.3,252.0C559.6,250.9 562.8,250.0 565.8,249.5C568.8,249.0 571.9,248.9 575.1,249.2C578.4,249.4 582.4,250.1 585.2,251.0C588.1,252.0 590.4,253.4 592.2,255.1C594.0,256.7 595.4,258.7 596.1,260.8C596.8,262.9 597.0,265.6 596.6,267.8C596.2,270.0 595.3,272.6 593.8,274.0C592.3,275.5 590.2,276.2 587.6,276.4C585.0,276.5 581.4,275.1 578.3,274.8C575.1,274.5 572.0,274.5 568.9,274.3C565.8,274.2 562.2,274.5 559.6,274.0C557.0,273.6 555.0,272.7 553.4,271.7C551.8,270.7 550.9,269.2 550.3,267.8C549.6,266.4 549.3,265.1 549.5,263.2Z" fill="#ffecec"/>
<path d="M553.4,263.2C553.6,261.5 554.4,259.2 555.7,257.7C557.0,256.2 559.0,255.1 561.2,254.1C563.4,253.2 566.2,252.6 568.9,252.3C571.7,252.0 574.8,251.9 577.5,252.3C580.2,252.7 583.0,253.6 585.2,254.6C587.4,255.6 589.4,256.9 590.7,258.5C592.0,260.0 592.8,262.1 593.0,263.9C593.3,265.7 593.1,267.9 592.2,269.4C591.3,270.8 589.6,272.0 587.6,272.5C585.5,273.0 582.4,272.4 579.8,272.5C577.2,272.5 574.6,272.8 572.0,272.8C569.4,272.8 566.6,272.8 564.3,272.5C561.9,272.2 559.7,271.7 558.1,270.9C556.5,270.1 555.4,269.1 554.6,267.8C553.9,266.5 553.2,264.8 553.4,263.2Z" fill="#ffd9de"/>
<path d="M556.5,262.4C556.6,260.8 558.1,259.5 559.6,258.5C561.2,257.5 563.5,256.8 565.8,256.6C568.2,256.4 571.4,256.7 573.6,257.3C575.8,257.8 578.0,258.8 579.0,260.0C580.1,261.3 580.2,263.3 579.8,264.7C579.4,266.1 578.3,267.7 576.7,268.6C575.1,269.5 572.6,269.9 570.5,270.1C568.4,270.4 566.2,270.5 564.3,270.1C562.3,269.8 560.1,269.1 558.8,267.8C557.5,266.5 556.4,263.9 556.5,262.4Z" fill="#f0b6b9"/>
</g>
<g clip-path="url(#cL2)">
<rect x="739" y="489" width="162" height="133" fill="#ffecec"/>
<path d="M768.7,480.7C763.6,482.2 768.7,487.7 769.5,490.0C770.3,492.3 771.6,493.4 773.4,494.7C775.2,496.0 777.9,497.2 780.4,497.8C782.8,498.3 785.8,498.2 788.2,497.8C790.5,497.4 792.4,496.7 794.4,495.4C796.3,494.1 798.8,492.5 799.8,490.0C800.8,487.5 805.8,482.2 800.6,480.7C795.4,479.1 773.9,479.1 768.7,480.7Z" fill="#c9dfe7"/>
<path d="M773.4,528.8C773.8,526.5 774.0,523.7 775.0,521.1C775.9,518.5 777.2,515.6 778.8,513.3C780.5,511.0 782.7,508.8 785.0,507.1C787.4,505.4 790.0,504.2 792.8,503.2C795.7,502.2 799.0,501.1 802.1,500.9C805.2,500.6 808.7,500.9 811.5,501.7C814.2,502.4 816.6,503.9 818.4,505.5C820.3,507.2 821.6,509.5 822.3,511.7C823.1,513.9 823.4,516.4 823.1,518.7C822.8,521.1 821.3,523.3 820.8,525.7C820.3,528.2 820.5,531.2 820.0,533.5C819.5,535.8 818.8,537.8 817.7,539.7C816.5,541.7 815.1,543.6 813.0,545.1C810.9,546.7 808.1,548.1 805.2,549.0C802.4,549.9 799.0,550.5 795.9,550.6C792.8,550.7 789.4,550.5 786.6,549.8C783.8,549.2 780.9,548.1 778.8,546.7C776.8,545.3 775.2,543.2 774.2,541.3C773.1,539.3 772.8,537.1 772.6,535.0C772.5,533.0 773.0,531.2 773.4,528.8Z" fill="#ffd9de"/>
<path d="M833.2,535.0C832.6,533.4 832.5,531.3 832.9,529.6C833.3,527.9 834.3,526.0 835.5,525.0C836.8,523.9 838.6,523.4 840.2,523.4C841.7,523.4 843.8,523.9 844.9,525.0C845.9,526.0 846.7,527.9 846.7,529.6C846.7,531.3 845.8,533.5 844.9,535.0C843.9,536.6 842.4,538.2 841.0,538.9C839.5,539.7 837.6,540.4 836.3,539.7C835.0,539.1 833.8,536.7 833.2,535.0Z" fill="#c9dfe7"/>
<path d="M854.2,480.7C845.0,482.2 853.5,486.9 854.2,490.0C854.8,493.1 856.8,496.2 858.1,499.3C859.4,502.4 861.0,505.5 861.9,508.6C862.8,511.7 863.4,514.9 863.5,518.0C863.6,521.1 863.4,524.4 862.7,527.3C862.1,530.1 860.9,532.8 859.6,535.0C858.3,537.2 856.8,538.9 855.0,540.5C853.1,542.0 850.8,543.1 848.7,544.4C846.7,545.7 844.3,547.1 842.5,548.3C840.7,549.4 839.5,550.1 837.9,551.4C836.2,552.7 834.4,553.9 832.4,556.0C830.5,558.1 828.4,561.1 826.2,563.8C824.0,566.5 821.4,569.4 819.2,572.3C817.0,575.3 813.7,578.5 813.0,581.7C812.4,584.8 814.2,587.6 815.3,591.0C816.5,594.3 818.4,598.2 820.0,601.8C821.6,605.5 823.2,609.4 824.7,612.7C826.1,616.1 824.5,620.5 828.5,622.0C832.6,623.6 844.9,623.3 848.7,622.0C852.6,620.7 849.8,616.2 851.8,614.3C853.9,612.3 857.8,611.3 861.2,610.4C864.5,609.5 868.2,609.0 872.0,608.8C875.9,608.7 879.8,609.0 884.5,609.6C889.1,610.3 895.9,611.9 900.0,612.7C904.1,613.5 907.8,636.3 909.3,614.3C910.9,592.3 918.5,502.9 909.3,480.7C900.1,458.4 863.4,479.1 854.2,480.7Z" fill="#ffd9de"/>
<path d="M909.3,561.5C907.8,557.1 902.3,562.2 900.0,563.0C897.7,563.8 896.4,564.6 895.3,566.1C894.3,567.7 893.8,570.0 893.8,572.3C893.8,574.7 894.3,577.8 895.3,580.1C896.4,582.4 897.7,584.8 900.0,586.3C902.3,587.9 907.8,593.6 909.3,589.4C910.9,585.3 910.9,565.9 909.3,561.5Z" fill="#f0b6b9"/>
</g>
<g clip-path="url(#cW1)">
<rect x="244" y="234" width="53" height="97" fill="#ffd9de"/>
<path d="M185.1,258.5C187.5,231.1 195.8,259.1 200.0,259.8C204.2,260.4 206.8,260.6 210.0,262.3C213.1,263.9 216.2,266.4 218.7,269.7C221.2,273.0 223.2,277.6 224.9,282.2C226.6,286.7 227.6,292.1 228.6,297.1C229.7,302.1 230.1,307.1 231.1,312.1C232.2,317.0 232.8,322.4 234.9,327.0C236.9,331.6 240.5,335.5 243.6,339.4C246.7,343.4 251.9,336.5 253.5,350.6C255.2,364.8 264.9,411.9 253.5,424.1C242.1,436.3 196.5,451.7 185.1,424.1C173.6,396.5 182.6,285.9 185.1,258.5Z" fill="#f0b6b9"/>
<path d="M282.2,234.9C276.8,236.3 271.6,239.4 267.2,242.3C262.9,245.2 258.7,248.6 256.0,252.3C253.3,256.0 252.0,260.2 251.0,264.7C250.1,269.3 250.5,275.1 250.5,279.7C250.5,284.2 250.9,288.7 251.0,292.1C251.2,295.5 251.1,297.2 251.3,300.1C251.5,303.0 251.7,306.2 252.0,309.3C252.4,312.4 252.7,315.4 253.5,318.5C254.3,321.6 255.4,325.1 256.8,328.0C258.2,330.9 259.8,333.4 262.0,335.7C264.2,338.0 266.6,340.0 270.0,341.9C273.3,343.9 264.8,346.5 282.2,347.4C299.6,348.3 358.9,362.4 374.3,347.4C389.7,332.4 377.6,272.9 374.3,257.3C371.0,241.6 361.0,255.4 354.4,253.5C347.7,251.7 340.7,248.8 334.5,246.1C328.2,243.4 322.8,239.4 317.0,237.4C311.2,235.3 305.4,234.0 299.6,233.6C293.8,233.2 287.6,233.4 282.2,234.9Z" fill="#ffecec"/>
<path d="M284.7,239.8C280.1,241.0 275.7,243.8 272.2,246.1C268.7,248.3 265.8,250.8 263.5,253.5C261.2,256.2 259.6,258.7 258.5,262.3C257.5,265.8 257.3,270.1 257.3,274.7C257.3,279.3 257.8,285.4 258.5,289.6C259.2,293.9 260.8,296.8 261.5,300.1C262.3,303.4 262.4,306.2 263.0,309.3C263.6,312.4 264.1,315.5 265.2,318.5C266.4,321.5 267.9,324.8 270.0,327.2C272.0,329.7 274.9,331.6 277.7,333.5C280.5,335.3 270.8,337.4 286.9,338.2C303.0,339.0 359.7,350.4 374.3,338.2C388.9,326.0 377.6,277.4 374.3,264.7C371.0,252.1 361.0,264.1 354.4,262.3C347.7,260.4 340.7,256.4 334.5,253.5C328.2,250.6 322.8,247.2 317.0,244.8C311.2,242.5 305.0,240.2 299.6,239.3C294.2,238.5 289.2,238.7 284.7,239.8Z" fill="#c9dfe7"/>
<path d="M287.2,246.1C283.0,247.3 279.6,250.8 277.2,253.5C274.8,256.2 273.3,258.7 272.7,262.3C272.1,265.8 272.9,270.1 273.5,274.7C274.0,279.3 275.3,284.7 275.9,289.6C276.6,294.6 276.6,300.0 277.2,304.6C277.8,309.1 278.2,313.3 279.7,317.0C281.1,320.8 283.0,323.9 285.9,327.0C288.8,330.1 282.4,334.3 297.1,335.7C311.8,337.2 361.4,346.7 374.3,335.7C387.2,324.7 377.6,280.9 374.3,269.7C371.0,258.5 360.8,269.9 354.4,268.5C347.9,267.0 341.5,263.7 335.7,261.0C329.9,258.3 325.1,254.8 319.5,252.3C313.9,249.8 307.5,247.1 302.1,246.1C296.7,245.0 291.3,244.8 287.2,246.1Z" fill="#8fa3de"/>
<path d="M307.3,262.3C307.3,264.2 306.8,266.5 305.9,268.2C304.9,270.0 303.4,271.6 301.8,272.6C300.3,273.6 298.2,274.2 296.4,274.2C294.5,274.2 292.5,273.6 290.9,272.6C289.3,271.6 287.8,270.0 286.9,268.2C286.0,266.5 285.4,264.2 285.4,262.3C285.4,260.3 286.0,258.0 286.9,256.3C287.8,254.5 289.3,252.9 290.9,251.9C292.5,250.9 294.5,250.3 296.4,250.3C298.2,250.3 300.3,250.9 301.8,251.9C303.4,252.9 304.9,254.5 305.9,256.3C306.8,258.0 307.3,260.3 307.3,262.3Z" fill="#7c9cb8"/>
</g>
<g clip-path="url(#cFL)">
<rect x="255" y="55" width="162" height="127" fill="#ffecec"/>
<path d="M282.4,99.7C277.7,101.1 277.2,103.2 274.6,105.1C272.1,107.1 269.2,109.4 266.9,111.4C264.5,113.3 262.5,115.2 260.7,116.8C258.8,118.3 258.3,119.4 256.0,120.7C253.7,122.0 248.2,115.6 246.7,124.6C245.1,133.5 244.8,167.2 246.7,174.3C248.6,181.4 254.8,169.0 258.0,167.1C261.2,165.3 262.8,164.5 265.9,163.2C269.1,161.9 272.9,160.4 276.8,159.4C280.7,158.3 284.9,157.9 289.2,157.0C293.5,156.1 297.8,155.3 302.6,154.1C307.4,152.8 314.8,151.5 318.1,149.4C321.5,147.3 321.5,144.5 322.8,141.7C324.1,138.8 324.6,135.4 325.9,132.3C327.2,129.2 328.8,125.9 330.6,123.0C332.4,120.2 334.7,117.4 336.8,115.2C338.8,113.0 340.9,111.1 343.0,109.8C345.1,108.5 347.1,107.5 349.2,107.5C351.3,107.5 353.6,108.5 355.4,109.8C357.2,111.1 358.8,113.0 360.1,115.2C361.4,117.4 361.9,120.4 363.2,123.0C364.5,125.6 366.0,128.7 367.8,130.8C369.7,132.8 372.0,134.4 374.1,135.4C376.1,136.5 377.9,136.9 380.3,137.0C382.6,137.1 385.7,137.0 388.0,136.2C390.4,135.4 392.7,134.0 394.3,132.3C395.8,130.6 397.1,128.2 397.4,126.1C397.6,124.0 396.8,122.0 395.8,119.9C394.8,117.8 392.7,115.8 391.1,113.7C389.6,111.6 387.8,109.5 386.5,107.5C385.2,105.4 384.4,103.3 383.4,101.3C382.3,99.2 381.3,96.9 380.3,95.0C379.2,93.2 378.7,91.9 377.2,90.4C375.6,88.8 373.3,86.9 371.0,85.7C368.6,84.6 365.8,83.9 363.2,83.4C360.6,82.9 358.3,82.8 355.4,82.6C352.6,82.5 349.2,82.6 346.1,82.6C343.0,82.7 339.6,82.8 336.8,82.9C333.9,83.1 331.1,83.2 329.0,83.4C326.9,83.6 328.8,82.0 324.3,84.2C319.9,86.4 309.6,94.0 302.6,96.6C295.6,99.2 287.1,98.3 282.4,99.7Z" fill="#ffd9de"/>
<path d="M246.7,40.7C250.8,31.4 267.5,36.5 271.5,40.7C275.5,44.8 271.4,60.1 270.8,65.5C270.1,71.0 268.7,70.7 267.7,73.3C266.6,75.9 265.7,78.5 264.5,81.1C263.4,83.7 262.1,86.5 260.7,88.8C259.2,91.2 258.3,93.8 256.0,95.0C253.7,96.3 248.2,105.7 246.7,96.6C245.1,87.5 242.5,50.0 246.7,40.7Z" fill="#c9dfe7"/>
<path d="M315.8,40.7C297.6,43.5 315.4,54.1 315.8,57.8C316.2,61.4 316.7,61.3 318.1,62.4C319.6,63.6 321.8,63.6 324.3,64.8C326.9,65.9 330.6,68.0 333.7,69.4C336.8,70.8 339.9,72.3 343.0,73.3C346.1,74.3 349.2,75.0 352.3,75.6C355.4,76.3 358.5,76.7 361.6,77.2C364.7,77.7 367.8,78.1 371.0,78.7C374.1,79.4 377.4,80.0 380.3,81.1C383.1,82.1 385.7,83.3 388.0,85.0C390.4,86.6 392.6,89.0 394.3,91.2C395.9,93.4 397.1,95.7 398.1,98.2C399.2,100.6 399.7,103.6 400.5,105.9C401.2,108.3 401.8,110.1 402.8,112.1C403.8,114.2 405.3,116.5 406.7,118.3C408.1,120.2 409.8,121.7 411.3,123.0C412.9,124.3 413.7,125.3 416.0,126.1C418.3,126.9 423.8,141.9 425.3,127.7C426.9,113.4 443.6,55.2 425.3,40.7C407.1,26.2 334.1,37.8 315.8,40.7Z" fill="#c9dfe7"/>
<path d="M329.0,40.7C313.0,43.1 327.7,52.3 329.0,55.4C330.3,58.5 333.9,57.8 336.8,59.3C339.6,60.9 342.7,63.1 346.1,64.8C349.5,66.4 353.3,68.1 357.0,69.4C360.6,70.7 364.0,71.6 367.8,72.5C371.7,73.4 376.1,74.1 380.3,74.9C384.4,75.6 388.8,76.3 392.7,77.2C396.6,78.1 399.7,79.5 403.6,80.3C407.5,81.1 412.4,81.5 416.0,81.8C419.6,82.2 423.8,89.5 425.3,82.6C426.9,75.8 441.4,47.7 425.3,40.7C409.3,33.7 345.1,38.2 329.0,40.7Z" fill="#8fa3de"/>
<path d="M425.3,147.9C423.8,146.3 418.8,148.9 416.0,149.4C413.2,149.9 410.8,150.2 408.2,151.0C405.6,151.7 402.4,152.8 400.5,153.8C398.5,154.8 396.8,155.9 396.6,156.9C396.3,157.8 397.2,159.0 398.9,159.5C400.6,160.0 403.8,160.1 406.7,160.0C409.5,159.9 412.9,159.3 416.0,159.0C419.1,158.8 423.8,160.6 425.3,158.7C426.9,156.9 426.9,149.4 425.3,147.9Z" fill="#c9dfe7"/>
<path d="M314.3,181.0C314.4,178.1 314.1,175.1 315.0,172.7C315.9,170.3 317.6,168.2 319.7,166.5C321.8,164.8 324.6,163.4 327.5,162.6C330.3,161.8 333.7,161.6 336.8,161.8C339.9,162.1 343.0,163.0 346.1,164.2C349.2,165.3 352.6,167.2 355.4,168.8C358.3,170.5 361.4,172.3 363.2,174.3C365.0,176.3 365.8,178.4 366.3,181.0C366.8,183.5 375.0,188.3 366.3,189.8C357.6,191.3 322.9,191.3 314.3,189.8C305.6,188.3 314.1,183.8 314.3,181.0Z" fill="#ffd9de"/>
<path d="M269.2,181.0C269.3,178.1 269.0,174.9 269.7,172.7C270.3,170.6 271.2,169.1 273.1,168.1C275.0,167.0 278.3,166.5 280.9,166.5C283.4,166.5 286.7,167.0 288.6,168.1C290.6,169.1 291.8,170.6 292.5,172.7C293.2,174.9 292.9,178.1 293.0,181.0C293.0,183.8 296.9,188.3 293.0,189.8C289.0,191.3 273.2,191.3 269.2,189.8C265.2,188.3 269.1,183.8 269.2,181.0Z" fill="#c9dfe7"/>
<path d="M386.5,189.8C380.3,188.3 387.0,183.5 388.0,181.0C389.1,178.4 390.6,175.9 392.7,174.3C394.8,172.6 397.6,171.8 400.5,171.2C403.3,170.5 407.2,170.4 409.8,170.4C412.4,170.4 413.4,170.9 416.0,171.2C418.6,171.4 423.8,168.8 425.3,171.9C426.9,175.0 431.8,186.8 425.3,189.8C418.8,192.8 392.7,191.3 386.5,189.8Z" fill="#ffd9de"/>
</g>
</g>
<g clip-path="url(#mapclip)" fill="#fff" stroke="#10131c" stroke-width="1" stroke-linejoin="round">
<path d="M55.5,272.6L62.9,274.5L63.5,272.4L69.4,269.0L65.5,265.6L70.2,260.7L76.0,256.8L79.9,252.9L80.9,248.1L82.8,243.2L86.7,239.3L86.2,234.5L85.7,227.6L86.7,220.8L89.7,214.9L95.9,211.0L105.2,208.6L114.6,207.1L123.9,204.8L133.2,202.4L142.5,203.2L151.8,204.0L160.4,203.2L162.7,201.7L165.8,203.2L168.9,206.3L171.7,210.2L171.3,214.9L168.2,220.3L164.3,225.0L160.4,229.6L157.3,234.3L155.0,239.7L153.4,244.4L151.1,246.7L154.2,249.8L155.0,252.9L151.8,256.0L151.1,261.5L148.7,269.2L146.4,277.0L144.4,281.7L142.5,277.0L142.8,270.8L141.7,265.3L139.4,266.9L137.6,271.6L133.2,273.9L128.5,277.8L123.9,283.2L117.2,285.8L116.1,289.4L115.5,290.0L115.4,305.5L115.2,321.1L115.1,331.6L121.7,332.3L128.7,333.0L130.3,335.4L137.3,336.0L141.2,333.8L146.6,331.9L152.8,331.6L159.0,333.5L166.8,333.5L174.6,331.9L182.3,330.7L190.1,329.6L193.2,330.7L199.4,332.3L207.2,331.6L213.4,330.7L221.2,332.7L227.4,335.0L232.0,338.2L236.7,341.3L242.9,344.4L247.6,347.8L251.5,351.4L253.8,352.4L253.0,356.8L253.8,363.0L253.0,369.2L250.7,375.4L248.3,381.7L246.8,387.9L246.0,395.6L245.2,400.0L243.7,406.2L241.4,412.4L239.8,418.6L241.4,424.9L242.1,429.5L239.0,435.7L239.8,441.9L242.1,446.6L245.2,451.3L249.1,456.7L253.8,462.9L258.4,468.3L262.3,472.2L266.2,476.1L270.1,479.2L273.2,482.3L274.8,485.4L277.9,488.5L282.5,490.1L288.7,491.7L295.0,493.2L301.2,492.9L307.4,490.9L313.6,487.0L319.8,483.1L326.0,480.0L330.0,478.3L334.7,474.4L339.3,475.1L345.5,476.7L350.2,477.8L354.9,478.3L361.1,479.8L367.3,482.1L373.5,486.0L378.2,489.9L382.8,494.6L387.5,499.2L391.4,503.9L395.2,508.5L397.6,512.4L401.5,513.2L401.5,507.0L399.9,500.8L396.8,497.7L403.0,494.6L409.2,489.9L413.9,485.2L418.5,480.6L423.2,479.0L427.9,477.5L427.1,473.6L424.8,468.2L426.3,461.9L428.6,455.7L432.5,450.3L438.7,445.6L445.0,442.5L451.2,441.7L452.7,444.9L450.4,448.0L455.8,448.7L458.2,443.3L458.9,437.1L465.1,434.8L470.0,436.6L480.9,436.6L487.1,431.9L493.3,428.1L501.1,425.0L505.0,420.3L507.3,415.6L511.9,413.3L517.4,409.9L523.6,411.7L528.3,415.6L530.3,419.5L527.5,423.4L523.6,425.7L518.2,427.3L511.9,428.8L509.6,430.4L511.2,435.0L514.3,441.3L517.4,446.7L519.7,452.1L516.6,458.3L511.9,464.6L508.1,470.0L509.6,476.2L514.3,479.3L516.6,485.5L519.7,488.2L525.9,485.5L531.4,481.7L532.1,474.7L531.4,469.2L527.5,463.0L523.6,456.8L522.0,452.1L522.0,446.7L524.4,443.6L532.1,440.5L539.9,437.4L547.7,435.0L553.1,432.7L554.7,430.4L550.8,428.1L549.2,423.4L551.6,418.7L556.2,416.4L559.3,419.5L560.9,425.7L561.7,431.2L560.1,433.5L564.8,432.7L571.0,431.2L578.7,432.7L585.0,435.0L589.6,438.2L592.7,442.0L595.0,445.1L596.6,449.8L598.9,452.9L603.6,454.5L609.8,454.0L617.6,452.9L625.3,451.8L630.0,450.6L639.0,450.8L643.7,452.3L646.8,456.2L651.4,459.3L659.2,461.7L667.0,464.0L673.2,463.2L677.8,460.9L684.0,457.8L687.9,454.7L688.7,453.6L690.0,450.5L697.8,451.2L705.5,450.0L716.4,449.7L727.3,449.4L736.6,448.9L742.8,448.1L747.8,449.4L742.8,450.0L736.6,452.0L728.8,452.8L723.4,454.3L718.7,455.1L717.2,459.0L718.0,463.7L723.4,463.7L725.7,460.6L728.1,463.7L731.9,466.8L734.3,473.0L736.6,469.9L741.3,466.8L745.9,469.1L750.6,469.9L755.2,473.0L759.9,476.9L764.6,479.2L767.7,483.1L764.6,487.0L761.5,491.6L758.3,496.3L752.1,497.8L747.5,497.5L755.2,500.2L763.0,499.4L769.2,497.1L773.9,496.6L778.5,497.1L783.2,498.6L787.9,501.7L789.7,503.2L785.0,507.1L778.8,511.7L773.4,514.9L771.8,519.5L768.7,522.6L771.1,527.3L773.4,531.2L778.1,531.9L776.5,535.8L771.1,537.4L764.9,538.9L759.4,540.5L757.9,545.9L758.6,552.1L754.8,556.8L754.0,559.1L757.1,563.0L761.7,567.7L765.6,572.3L768.7,575.4L775.7,575.1L780.4,573.9L785.0,577.0L785.8,581.7L784.3,586.3L781.9,589.4L786.6,591.7L791.3,595.6L793.6,600.3L795.9,604.2L793.6,609.6L790.5,614.3L788.9,621.0L786.5,624.4L785.2,631.9L788.9,641.8L792.7,649.3L798.9,656.8L806.4,663.0L812.6,666.7L820.1,661.7L827.5,656.8L836.3,654.3L845.0,650.5L848.7,645.5L856.2,648.0L859.9,648.8L868.6,649.3L877.3,651.8L878.6,644.3L884.8,639.3L891.0,638.1L898.5,635.6L903.5,636.8L909.7,640.6L911.0,641.8L918.4,644.3L925.9,641.8L933.4,640.6L943.3,643.1L950.8,640.6L955.8,634.3L960.8,624.4L967.0,611.9L973.2,599.5L975.7,592.0L976.9,593.3L980.7,602.0L979.4,594.5L983.2,593.3L988.1,602.0L990.6,611.9L993.1,621.9L995.6,631.9L999.3,641.8L1001.3,645.5L1001.5,645.5L1001.5,680.3L55.5,680.3Z"/>
<path d="M261.4,55.5L261.9,55.9L260.7,59.3L263.0,64.0L265.3,65.5L264.5,68.6L267.7,73.3L270.8,78.0L273.9,81.1L275.4,85.7L277.7,91.2L281.6,88.1L284.7,87.3L284.0,91.9L285.5,96.6L287.1,102.0L291.0,105.1L294.8,107.5L297.2,111.4L299.5,116.0L301.0,119.9L305.7,121.5L310.4,120.7L315.0,119.1L318.9,115.2L321.2,110.6L323.6,104.4L325.1,96.6L325.1,88.8L324.3,81.1L322.8,74.9L320.5,68.6L318.1,62.4L315.8,57.8L314.3,55.6L314.3,55.5Z"/>
</g>
<g clip-path="url(#mapclip)" fill="none" stroke="#10131c" stroke-width="1" stroke-linejoin="round" stroke-linecap="round">
<path d="M115.9,288.6L74.9,288.6L74.9,301.1L64.9,301.1L71.1,306.1L77.4,311.0L82.3,314.8L87.3,319.3L87.8,328.5L55.4,328.5"/>
<path d="M144.4,281.7L141.7,286.3L139.4,292.5L137.3,294.7L138.1,304.0L136.5,311.7L132.6,319.5L127.2,325.7L123.3,330.4L121.7,332.3"/>
<path d="M55.5,371.2L69.2,377.1L94.2,380.7L100.0,384.8L109.3,386.3L118.6,389.4L128.0,392.5L137.3,393.8L146.6,391.7L148.9,389.4L153.6,387.9L155.9,390.2L152.8,393.3L152.0,398.0L155.9,403.4L162.1,409.6L168.3,415.0L173.0,421.0L180.0,428.7L186.2,433.4L192.4,439.6L195.5,443.5L191.7,446.6L192.4,452.8L192.1,459.0L195.5,465.2L201.7,469.9L207.2,473.0L210.3,476.1L213.4,470.7L211.1,465.2L206.4,459.8L211.8,462.9L217.3,466.8L219.6,474.6L226.6,477.7L234.4,482.3L240.6,487.0L243.7,491.7L242.1,496.3L245.2,499.4L249.9,502.5L254.6,504.1L257.7,506.4L260.0,508.7L263.9,504.9L270.1,504.1L276.3,505.6L281.0,506.4L285.6,508.7L288.7,513.4L291.8,518.1L296.5,519.6L302.7,518.1L304.3,522.7L305.8,527.4L312.0,528.9L319.8,525.8L326.0,522.7L324.5,518.1L319.8,513.4L316.7,508.7L318.3,505.6L324.5,502.5L329.1,499.4L332.3,492.2L337.8,489.1L345.5,487.1L349.4,488.3L353.3,492.2L358.7,497.7L363.4,501.1L368.8,499.5L370.1,503.9L365.7,507.3L363.4,510.4L365.4,516.3L369.6,521.7L375.0,527.5L378.2,533.4L382.0,539.6L385.1,545.8L386.7,551.0L389.4,564.6L383.2,568.4L388.1,574.6L389.4,587.0L388.1,597.0L391.9,604.5L394.4,608.2L390.6,616.9L385.6,623.1L379.4,629.4L368.2,634.3L360.7,641.8L357.0,649.3L349.5,655.5L352.0,663.0L343.3,666.7L333.4,670.4L324.6,676.7L323.9,679.9"/>
<path d="M349.5,655.5L358.3,660.5L368.2,666.7L378.2,672.9L385.6,679.9"/>
<path d="M242.9,447.4L239.0,449.7L232.8,446.6L225.0,443.5L217.3,441.9L211.1,444.3L203.3,440.4L197.1,438.8L194.8,441.9L192.1,445.8"/>
<path d="M264.7,475.3L260.0,477.7L259.2,482.3L260.8,487.0L263.9,490.1L260.8,493.2L261.6,497.9L260.8,504.1L260.0,508.7"/>
<path d="M391.4,504.7L392.1,511.7L389.0,514.8L385.9,517.9L381.3,521.0L377.8,519.4L375.0,527.5"/>
<path d="M137.3,336.0L131.1,341.3L123.3,346.7L116.3,351.4L115.5,356.8L116.3,361.5L111.7,364.6L107.0,366.1L106.2,370.0L102.3,373.9L100.0,374.7"/>
<path d="M100.0,374.7L93.8,377.0L87.6,381.7"/>
<path d="M107.0,366.1L112.4,365.3L118.6,367.7L124.9,372.3L131.8,376.2L137.3,375.4L143.5,376.2L148.9,379.3L149.4,384.8L147.4,389.4"/>
<path d="M158.3,398.7L165.2,397.2L170.7,391.0L171.5,386.3L169.9,381.7L176.1,380.1L182.3,377.8L188.5,374.7L194.8,378.5L201.0,373.9L207.2,367.7L210.3,359.9L215.0,356.8L221.2,359.9L228.9,358.3L236.7,356.0L244.5,353.7L253.8,352.4"/>
<path d="M509.6,430.7L503.4,438.2L498.0,442.8L494.9,449.0L491.0,456.8L487.9,466.1L484.8,473.9L481.7,479.3L478.1,484.0L482.4,484.8L486.8,482.0L489.4,486.3L493.3,491.0L496.4,497.2L500.3,503.4L502.6,509.6L499.5,514.3L499.5,521.0L503.9,526.0L510.1,532.3L520.1,534.2L527.6,535.2L535.0,532.3L545.0,532.3L552.0,535.2L564.5,547.2L570.7,553.4L584.4,552.2L599.3,551.7L611.8,550.4L615.5,555.9L611.8,563.4L607.3,569.6L606.3,579.6L605.5,592.0L608.0,602.0L611.8,611.9L617.2,618.2L611.8,624.4L605.5,629.4L611.8,633.1L618.0,641.8L621.7,651.8L624.2,661.7L623.5,666.7L626.7,666.7"/>
<path d="M626.7,666.7L639.2,675.4L645.4,676.7L654.1,671.2L659.1,677.9L669.0,669.2L676.5,665.5L684.0,661.2L690.7,655.5L691.9,645.5L698.9,645.5L708.4,643.1L708.4,638.1L692.7,636.3L690.2,624.4L687.7,611.9L681.5,604.5L675.3,597.0L681.5,600.7L689.0,599.5L696.4,604.5L707.6,603.2L716.3,611.9L721.3,609.4L723.8,600.7L736.3,597.5L751.2,593.3L763.7,587.0L772.4,579.6L770.6,575.1"/>
<path d="M623.5,666.7L618.0,644.3L611.8,644.3L601.8,654.3L598.1,648.0L596.8,654.3L559.5,654.3L559.5,669.2L574.4,669.2L574.4,679.9"/>
<path d="M559.5,654.3L552.0,649.3L542.0,644.3"/>
<path d="M851.8,557.6L851.1,563.0L848.7,569.2L848.0,573.9L849.5,576.2L845.6,579.3L839.4,580.1L834.8,582.4L833.2,586.3L834.0,591.0L831.7,595.6L830.1,600.3L831.7,605.0L834.8,609.6L838.6,614.3L842.5,616.6L847.2,617.4L848.0,621.0L853.7,634.3L858.7,644.3L859.9,648.8"/>
<path d="M923.4,563.4L917.2,572.1L912.9,579.6L912.2,589.5L914.7,599.5L919.7,608.2L923.4,613.2L922.2,621.9L919.7,629.4L915.9,636.8L911.0,641.8"/>
<path d="M789.7,503.2L795.9,505.5L802.1,510.2L808.3,515.6L813.8,521.1L817.7,526.5L820.0,531.2L820.8,535.8L817.7,541.3L816.1,547.5L818.4,542.8L820.8,536.6L824.7,535.8L830.1,538.9L835.5,543.6L841.0,549.0L847.2,552.9L851.8,557.6L858.1,556.8L864.3,558.3L872.0,559.9L878.3,561.5L879.8,559.1L886.0,558.3L895.3,558.3L896.0,557.2L897.3,560.1L908.5,559.1L923.4,563.4L933.4,565.9L943.3,569.6L953.3,577.1L963.2,584.5L970.7,589.5L976.9,593.3"/>
<path d="M277.6,202.4L284.5,200.6"/>
<path d="M290.8,201.5L295.4,199.0"/>
<path d="M340.5,213.0L348.2,217.7L356.0,222.3"/>
<path d="M324.2,246.3L333.5,244.4"/>
<path d="M294.6,254.2L301.6,254.2"/>
<path d="M516.1,242.2L516.4,247.6L517.2,253.8L515.8,259.3L514.3,261.6L516.4,264.7L516.1,268.6L511.5,270.1L510.7,273.3L513.0,275.6L516.1,277.1L516.9,283.3"/>
<path d="M658.3,281.5L663.8,280.2"/>
<path d="M670.8,276.4L677.0,274.8L684.8,273.3"/>
<path d="M684.0,267.5L687.1,268.1"/>
<path d="M673.9,290.8L680.1,289.6"/>
<path d="M381.8,124.6L385.7,123.6L388.8,123.0"/>
<path d="M277.7,134.7L278.5,135.1"/>
<path d="M285.5,135.1L293.3,132.0L297.2,130.8"/>
<path d="M301.0,130.8L307.3,128.4L312.7,124.6L316.6,120.7"/>
<path d="M405.9,141.7L407.5,144.0"/>
<path d="M409.0,145.5L410.6,148.2"/>
<path d="M418.0,155.8L423.0,158.3L428.0,160.8"/>
<path d="M498.9,200.6L503.9,196.9L510.1,194.4L517.6,196.9L521.3,199.4L522.1,203.1"/>
<path d="M381.9,124.2L388.1,123.2"/>
<path d="M756.3,398.3L757.3,397.0"/>
<path d="M754.8,402.2L755.7,400.9"/>
<path d="M753.2,406.0L754.2,404.8"/>
<path d="M751.7,409.9L752.6,408.7"/>
<path d="M174.6,322.9L179.2,320.8L184.7,319.2"/>
<path d="M190.1,319.5L192.9,318.0"/>
<path d="M166.0,327.6L168.3,327.0"/>
<path d="M55.4,269.2L59.5,267.2L65.5,265.6"/>
<path d="M747.8,497.8L754.0,499.6L758.6,500.3L760.2,497.0L759.4,494.7L764.9,493.9L769.5,493.1L771.1,497.0L766.4,497.8L761.7,498.1L758.6,500.3"/>
<path d="M761.0,492.3L763.3,490.8L767.2,491.2"/>
<path d="M758.3,496.6L763.0,493.2L767.7,488.5L769.2,485.4L766.1,487.0L763.0,490.9L759.9,494.7"/>
<path d="M760.7,487.7L764.6,485.4L766.9,483.1"/>
<path d="M165.8,231.2L168.2,226.5L171.3,225.4L170.5,228.8L167.7,232.3Z"/>
<path d="M284.1,521.2L288.7,519.6L288.0,527.4L284.9,526.6Z"/>
<path d="M346.3,501.6L352.5,500.8L353.3,504.7L347.1,506.2Z"/>
<path d="M212.3,195.9L216.2,194.4L220.9,193.6L224.7,192.0L226.3,187.4L228.6,183.5L232.5,179.6L237.9,176.5L244.2,173.4L250.4,171.1L258.1,169.5L265.9,168.7L272.1,166.4L279.9,165.6L287.7,166.1L293.9,168.0L298.5,166.4L304.7,164.9L311.0,166.4L317.2,168.7L323.4,170.3L329.6,173.4L335.8,176.5L342.0,178.1L349.8,178.8L358.1,183.7L365.9,186.8L373.7,191.5L379.9,196.2L386.1,200.0L392.3,204.7L398.5,208.6L404.7,210.9L411.0,211.7L417.2,214.0L423.4,214.8L426.5,218.7L424.9,221.8L429.6,222.6L435.8,223.3L443.6,226.5L449.8,229.6L456.0,231.9L461.6,234.3L456.0,236.7L451.3,237.2L443.6,238.3L437.4,239.9L431.1,239.1L420.3,239.1L407.8,239.5L397.0,240.6L386.1,241.7L378.6,243.0L382.2,238.1L386.1,234.2L390.8,231.1L393.1,227.2L390.8,224.1L384.5,222.6L378.3,223.3L372.1,222.6L367.5,220.2L362.8,216.4L359.7,211.7L358.1,206.3L351.3,202.1L343.6,202.9L335.8,202.1L329.6,199.8L323.4,197.5L318.7,193.6L316.4,189.7L314.1,192.0L307.8,192.0L301.6,191.3L299.3,188.9L297.0,191.3L292.3,190.5L286.1,188.9L280.7,186.6L276.8,184.3L281.4,183.5L286.9,183.5L288.4,181.2L284.5,179.6L278.3,178.8L272.1,177.3L265.9,177.0L261.2,178.1L256.6,181.2L252.7,185.0L247.3,187.4L241.0,188.9L234.8,189.7L231.7,193.6L227.1,195.9L223.2,198.3L217.7,196.7Z"/>
<path d="M253.5,201.4L256.6,196.7L261.2,194.4L266.7,195.1L268.2,199.8L266.7,203.7L261.2,205.2L255.8,204.0Z"/>
<path d="M363.6,277.1L365.9,274.8L370.6,273.7L376.8,271.7L383.0,273.3L390.8,273.7L397.7,274.3L403.2,277.9L407.8,280.2L412.5,282.6L414.4,286.5L409.4,287.2L403.2,284.9L398.5,285.7L396.2,288.8L391.5,290.3L387.7,288.0L383.0,288.0L378.3,285.7L374.4,282.6L370.6,280.2L365.9,279.9Z"/>
<path d="M476.5,244.5L480.4,241.4L486.6,240.6L489.7,238.3L494.4,238.3L493.6,240.6L499.0,243.0L505.2,244.5L511.5,244.8L516.1,242.2L522.3,241.7L528.5,240.6L533.2,239.9L539.4,242.2L547.2,243.7L553.4,246.8L557.3,246.1L558.8,250.7L560.4,253.8L564.3,254.6L568.9,253.8L575.1,253.1L574.4,256.2L568.9,256.9L565.0,257.7L564.3,259.3L570.5,260.0L576.7,260.8L582.9,261.6L587.6,264.7L592.2,268.6L594.6,271.7L593.0,275.6L589.1,277.9L588.3,281.0L584.5,281.0L584.5,277.9L579.8,274.8L573.6,273.7L567.4,274.0L561.2,274.3L555.0,275.6L548.7,277.9L543.3,278.7L542.5,274.8L537.9,275.6L533.2,277.9L530.1,281.8L527.0,288.0L523.9,293.4L520.8,293.4L518.4,288.0L516.9,283.3L513.0,280.2L506.8,279.5L500.6,278.7L492.8,279.0L485.0,278.7L477.3,278.4L471.1,277.9L468.7,280.2L468.0,282.6L463.3,278.7L457.1,277.1L453.2,274.8L453.2,270.9L457.1,269.4L463.3,269.4L469.5,270.1L475.7,271.2L483.5,272.5L491.3,273.3L497.5,272.8L502.1,271.7L502.1,268.6L498.3,265.5L494.4,261.6L492.0,256.9L492.0,252.3L489.7,248.4L485.0,246.8L478.8,246.8Z"/>
<path d="M480.4,263.2L485.0,262.4L489.7,264.7L490.5,267.0L486.6,267.5L481.9,265.5Z"/>
<path d="M619.5,274.0L621.8,272.5L630.4,272.8L639.7,273.7L649.0,274.0L656.0,274.8L656.8,277.1L654.5,281.0L649.8,284.1L642.8,285.2L635.0,284.6L627.3,285.2L621.1,285.7L620.3,281.8L618.7,277.1Z"/>
<path d="M605.5,282.1L605.3,282.7L604.8,283.1L604.1,283.1L603.6,282.7L603.4,282.1L603.6,281.5L604.1,281.1L604.8,281.1L605.3,281.5Z"/>
<path d="M367.8,120.7L371.7,121.5L374.1,126.1L377.2,130.8L379.5,137.0L382.6,143.2L383.7,149.4L382.6,153.3L379.5,154.1L377.2,149.4L374.8,143.2L371.7,138.5L367.8,134.7L364.0,134.7L362.4,133.1L365.5,130.8L367.1,126.1Z"/>
<path d="M350.0,86.5L353.1,88.1L355.4,90.4L358.5,87.3L359.3,84.2L363.2,86.5L369.4,86.5L374.8,85.7L375.6,88.8L369.4,88.5L363.2,89.6L357.0,91.2L353.1,90.7Z"/>
<path d="M373.3,81.8L378.7,81.1L383.4,82.6L388.0,86.5L391.9,90.4L394.3,95.0L393.5,99.7L391.1,103.6L388.8,102.8L390.8,98.2L389.9,93.5L386.5,88.8L381.8,85.0L376.4,83.4Z"/>
<path d="M401.2,112.1L403.6,113.7L407.5,116.8L411.3,119.9L414.4,124.6L415.2,129.2L412.9,132.3L411.3,129.2L412.6,125.3L409.0,121.5L405.1,117.6L402.0,115.2Z"/>
<path d="M343.8,108.3L343.4,109.2L342.6,109.2L342.2,108.3L342.6,107.3L343.4,107.3Z"/>
<path d="M376.4,108.3L376.0,109.2L375.2,109.2L374.8,108.3L375.2,107.3L376.0,107.3Z"/>
<path d="M383.4,95.0L383.0,96.0L382.2,96.0L381.8,95.0L382.2,94.1L383.0,94.1Z"/>
<path d="M401.2,135.4L400.9,136.4L400.1,136.4L399.7,135.4L400.1,134.5L400.9,134.5Z"/>
<path d="M337.6,158.0L337.2,158.9L336.4,158.9L336.0,158.0L336.4,157.0L337.2,157.0Z"/>
<path d="M423.7,131.7L428.0,135.9L431.7,142.1L434.2,144.6L430.5,144.1L426.7,138.4Z"/>
<path d="M433.0,155.8L437.9,160.8L441.7,167.0L444.9,173.3L441.7,172.0L436.7,165.8Z"/>
<path d="M455.4,175.7L461.6,174.5L467.8,177.0L465.3,182.0L460.3,187.0L457.9,188.2L462.8,180.7L459.1,178.2Z"/>
<path d="M484.0,183.2L492.7,184.5L492.2,186.5L485.2,185.7Z"/>
<path d="M471.5,213.1L479.0,211.4L486.5,206.9L488.2,209.4L482.8,214.3L475.3,216.8Z"/>
<path d="M451.1,145.9L454.1,144.6L454.6,148.4L452.1,149.1Z"/>
<path d="M716.4,280.6L716.1,281.9L715.3,282.7L714.4,282.7L713.6,281.9L713.3,280.6L713.6,279.4L714.4,278.6L715.3,278.6L716.1,279.4Z"/>
<path d="M721.4,286.1L721.2,286.5L720.6,286.8L720.0,286.8L719.4,286.5L719.2,286.1L719.4,285.6L720.0,285.3L720.6,285.3L721.2,285.6Z"/>
<path d="M718.7,296.9L721.8,298.5L725.0,300.8L727.3,303.9L725.0,304.7L721.8,301.6L719.2,299.3Z"/>
<path d="M745.8,292.6L745.4,293.7L744.5,294.4L743.3,294.4L742.4,293.7L742.0,292.6L742.4,291.5L743.3,290.8L744.5,290.8L745.4,291.5Z"/>
<path d="M746.4,305.2L745.9,306.3L744.8,306.9L743.3,306.9L742.2,306.3L741.7,305.2L742.2,304.1L743.3,303.4L744.8,303.4L745.9,304.1Z"/>
<path d="M736.6,312.8L736.4,313.5L735.7,314.0L735.0,314.0L734.4,313.5L734.1,312.8L734.4,312.1L735.0,311.6L735.7,311.6L736.4,312.1Z"/>
<path d="M744.4,323.3L747.5,321.8L749.8,324.1L751.4,318.7L753.7,317.9L754.9,321.8L758.3,323.3L755.2,324.6L752.1,324.9L749.8,328.0L748.7,331.9L745.9,331.1L744.1,327.2Z"/>
<path d="M757.9,331.1L757.6,331.9L756.9,332.4L756.1,332.4L755.4,331.9L755.1,331.1L755.4,330.3L756.1,329.8L756.9,329.8L757.6,330.3Z"/>
<path d="M751.4,339.7L753.7,338.1L756.0,340.4L757.1,344.3L756.0,347.4L753.7,346.7L752.1,343.5Z"/>
<path d="M757.1,356.0L759.9,355.2L763.0,357.5L765.3,358.3L766.4,362.2L765.8,365.6L763.0,364.5L760.7,362.2L759.1,359.1Z"/>
<path d="M761.5,374.6L763.8,372.7L765.8,375.4L765.3,379.3L763.0,381.1L761.1,378.5Z"/>
<path d="M759.4,392.2L759.1,393.5L758.4,394.3L757.4,394.3L756.6,393.5L756.3,392.2L756.6,390.9L757.4,390.1L758.4,390.1L759.1,390.9Z"/>
<path d="M745.1,417.1L747.5,415.2L748.7,417.1L747.5,420.2L745.5,420.5Z"/>
<path d="M793.8,391.4L795.6,389.9L798.0,392.2L798.4,395.3L796.4,396.9L794.1,394.5Z"/>
<path d="M766.1,438.8L770.0,436.0L773.9,434.9L774.2,436.5L770.8,438.8L767.7,440.4Z"/>
<path d="M747.5,448.9L752.1,448.1L758.3,447.4L763.8,446.9L764.3,451.2L763.0,455.9L763.3,462.1L758.3,462.9L752.1,462.4L745.9,463.7L741.3,464.9L745.1,462.1L751.4,460.6L751.8,454.3L751.4,449.7Z"/>
<path d="M684.0,443.0L687.1,441.1L691.8,441.8L694.9,439.9L698.0,440.7L697.2,444.3L693.4,446.1L688.7,445.8L685.6,445.3Z"/>
<path d="M554.8,406.0L556.7,408.1L558.5,411.6L557.4,411.9L555.4,408.8Z"/>
<path d="M575.3,411.9L577.6,413.5L581.5,416.6L584.6,419.4L583.1,420.0L579.2,417.4L576.1,414.3Z"/>
<path d="M592.7,414.3L596.3,413.8L597.8,416.6L596.7,420.0L595.2,419.4L595.5,416.6L593.2,415.8Z"/>
<path d="M610.4,420.0L609.9,420.6L609.0,420.6L608.5,420.0L609.0,419.5L609.9,419.5Z"/>
<path d="M630.6,424.7L630.1,425.2L629.2,425.2L628.7,424.7L629.2,424.1L630.1,424.1Z"/>
<path d="M633.7,425.1L633.2,425.7L632.3,425.7L631.8,425.1L632.3,424.6L633.2,424.6Z"/>
<path d="M645.4,425.1L644.9,425.7L644.0,425.7L643.5,425.1L644.0,424.6L644.9,424.6Z"/>
<path d="M680.3,424.1L679.8,424.6L678.9,424.6L678.4,424.1L678.9,423.5L679.8,423.5Z"/>
<path d="M664.8,445.3L664.3,445.9L663.4,445.9L662.9,445.3L663.4,444.8L664.3,444.8Z"/>
<path d="M164.6,567.3L164.2,567.9L163.6,567.9L163.2,567.3L163.6,566.7L164.2,566.7Z"/>
<path d="M290.9,603.2L290.6,603.8L289.8,603.8L289.5,603.2L289.8,602.6L290.6,602.6Z"/>
</g>
<g shape-rendering="crispEdges">
<rect x="55" y="55" width="947" height="1" fill="#4a5460"/>
<rect x="55" y="270" width="1" height="411" fill="#1a1a1a"/>
<rect x="55" y="680" width="947" height="1" fill="#1a1a1a"/>
<rect x="1001" y="646" width="1" height="35" fill="#1a1a1a"/>
</g>
<g stroke="#333" stroke-width="1" shape-rendering="crispEdges">
<line x1="50.5" x2="55" y1="125" y2="125"/>
<line x1="50.5" x2="55" y1="239.5" y2="239.5"/>
<line x1="50.5" x2="55" y1="352.5" y2="352.5"/>
<line x1="50.5" x2="55" y1="466" y2="466"/>
<line x1="50.5" x2="55" y1="580" y2="580"/>
<line x1="96.5" x2="96.5" y1="681" y2="687.5"/>
<line x1="326.5" x2="326.5" y1="681" y2="687.5"/>
<line x1="556.5" x2="556.5" y1="681" y2="687.5"/>
<line x1="786.5" x2="786.5" y1="681" y2="687.5"/>
</g>
<g font-size="12.6px" fill="#333">
<text x="49" y="129.7" text-anchor="end">25°N</text>
<text x="49" y="244.2" text-anchor="end">20°N</text>
<text x="49" y="357.2" text-anchor="end">15°N</text>
<text x="49" y="470.7" text-anchor="end">10°N</text>
<text x="49" y="584.7" text-anchor="end">5°N</text>
<text x="99.8" y="708.8" text-anchor="middle">90°W</text>
<text x="329.8" y="708.8" text-anchor="middle">80°W</text>
<text x="559.8" y="708.8" text-anchor="middle">70°W</text>
<text x="789.8" y="708.8" text-anchor="middle">60°W</text>
</g>
<text x="274.5" y="34.7" font-family="Liberation Serif" font-weight="bold" font-size="17.6px" textLength="508.5" lengthAdjust="spacingAndGlyphs" fill="#000" style="font-family:'Liberation Serif',serif">SPI3 Difference between January 2026 and February 2026</text>
<text x="739" y="129.6" font-weight="bold" font-style="italic" font-size="11.6px" textLength="92" lengthAdjust="spacingAndGlyphs" fill="#000" stroke="#000" stroke-width="0.5">Atlantic Ocean</text>
<text x="397.6" y="357.6" font-weight="bold" font-style="italic" font-size="11.6px" textLength="88" lengthAdjust="spacingAndGlyphs" fill="#000" stroke="#000" stroke-width="0.5">Caribbean Sea</text>
<text x="170" y="585" font-weight="bold" font-style="italic" font-size="11.6px" textLength="85.6" lengthAdjust="spacingAndGlyphs" fill="#000" stroke="#000" stroke-width="0.5">Pacific Ocean</text>
<g fill="#333" text-anchor="middle">
<text x="144.4" y="767.5" font-size="10.6px" textLength="200.4" lengthAdjust="spacingAndGlyphs">Precipitation Map of the Caribbean Region.</text>
<text x="142.8" y="780" font-size="10.6px" textLength="239.8" lengthAdjust="spacingAndGlyphs">Created by aggregating station based observations,</text>
<text x="142.6" y="792.2" font-size="10.6px" textLength="270.3" lengthAdjust="spacingAndGlyphs">provided by CariCOF, with NCEP/NCAR Reanalysis Data.</text>
<text x="133.6" y="822.8" font-size="8.4px" textLength="60" lengthAdjust="spacingAndGlyphs">CIMH Mar-2026</text>
</g>
<g shape-rendering="crispEdges">
<rect x="416.7" y="772" width="47.4" height="25.5" fill="#ff9999"/>
<rect x="463.8" y="772" width="47.4" height="25.5" fill="#f0b6b9"/>
<rect x="510.9" y="772" width="47.4" height="25.5" fill="#ffd9de"/>
<rect x="558.0" y="772" width="47.4" height="25.5" fill="#ffecec"/>
<rect x="605.1" y="772" width="47.4" height="25.5" fill="#c9dfe7"/>
<rect x="652.2" y="772" width="47.4" height="25.5" fill="#8fa3de"/>
<rect x="699.3" y="772" width="47.4" height="25.5" fill="#7c9cb8"/>
<rect x="746.4" y="772" width="47.4" height="25.5" fill="#58678e"/>
</g>
<polygon points="384,784.8 416.9,772 416.9,797.5" fill="#f9807f"/>
<polygon points="826.7,784.8 793.4,772 793.4,797.5" fill="#3a3a82"/>
<path d="M416.7,772H793.5M416.7,797.5H793.5" stroke="#b9aeb4" stroke-width="0.6" fill="none" opacity="0.8"/>
<g font-size="9.2px" fill="#333" text-anchor="middle">
<text x="416.2" y="808">-4</text>
<text x="463.3" y="808">-3</text>
<text x="510.4" y="808">-2</text>
<text x="557.5" y="808">-1</text>
<text x="604.6" y="808">0</text>
<text x="651.7" y="808">1</text>
<text x="698.8" y="808">2</text>
<text x="745.9" y="808">3</text>
<text x="793.0" y="808">4</text>
</g>
<text x="563" y="765.5" font-size="17.6px" fill="#222" textLength="105.8" lengthAdjust="spacingAndGlyphs">SPI Difference</text>
<g>
<circle cx="972" cy="784.5" r="36.9" fill="#fff" stroke="#262626" stroke-width="1.5"/>
<path d="M945.7,793.6Q949.1,797.0 952.4,793.3Q955.8,797.0 959.1,793.3Q962.5,797.0 965.8,793.3Q969.2,797.0 972.5,793.3Q975.8,797.0 979.2,793.3Q982.5,797.0 985.9,793.3Q989.2,797.0 992.6,793.3Q995.9,797.0 999.3,793.3A28.7,28.7 0 0 1 945.7,793.6 Z" fill="#1b78d6"/>
<path d="M949.1,797.5Q952.4,800.3 955.8,797.5Q959.1,800.3 962.5,797.5Q965.8,800.3 969.2,797.5Q972.5,800.3 975.8,797.5Q979.2,800.3 982.5,797.5Q985.9,800.3 989.2,797.5Q992.6,800.3 995.9,797.5" fill="none" stroke="#1363b8" stroke-width="0.6"/>
<path d="M951.7,801.4Q955.2,804.2 958.7,801.4Q962.1,804.2 965.6,801.4Q969.0,804.2 972.5,801.4Q976.0,804.2 979.4,801.4Q982.9,804.2 986.3,801.4Q989.8,804.2 993.3,801.4" fill="none" stroke="#1363b8" stroke-width="0.6"/>
<path d="M955.6,805.3Q959.0,808.1 962.3,805.3Q965.7,808.1 969.1,805.3Q972.5,808.1 975.9,805.3Q979.3,808.1 982.7,805.3Q986.0,808.1 989.4,805.3" fill="none" stroke="#1363b8" stroke-width="0.6"/>
<path d="M961.6,809.2Q965.3,812.0 968.9,809.2Q972.5,812.0 976.1,809.2Q979.7,812.0 983.4,809.2" fill="none" stroke="#1363b8" stroke-width="0.6"/>
<polygon points="958.6,761.8 959.8,765.4 962.6,762.9 961.9,766.5 965.5,765.8 963.0,768.6 966.6,769.8 963.0,771.0 965.5,773.8 961.9,773.1 962.6,776.7 959.8,774.2 958.6,777.8 957.4,774.2 954.6,776.7 955.3,773.1 951.7,773.8 954.2,771.0 950.6,769.8 954.2,768.6 951.7,765.8 955.3,766.5 954.6,762.9 957.4,765.4" fill="#d9d21a"/>
<circle cx="958.6" cy="769.8" r="4.5" fill="#fff200"/>
<path d="M977.2,774.3 q-2.8,-0.3 -2.6,-2.9 q0.3,-2.2 2.7,-2.2 q0.2,-2.6 3.0,-2.6 q0.8,-2.6 3.6,-2.2 q1.6,-2.8 4.6,-1.6 q2.8,0.6 2.6,3.4 q2.6,0.8 2.2,3.6 q0.6,2.6 -1.8,3.9 q-1.0,0.7 -2.4,0.6 Z" fill="#fff" stroke="#8a8a8a" stroke-width="0.9"/>
<path d="M981,768.5q1.5,-1.8 3.3,-0.6 M985.5,766q1.4,-1.2 2.8,0" fill="none" stroke="#9a9a9a" stroke-width="0.6"/>
<path d="M977.5,775.5l-0.6,2.2M980,775.5l-0.6,2.2M982.5,775.5l-0.6,2.2M985,775.5l-0.6,2.2M987.5,775.5l-0.6,2.2M990,775.5l-0.6,2.2" stroke="#b5b5b5" stroke-width="0.5" fill="none"/>
<text x="971.7" y="787.6" font-size="9.7px" text-anchor="middle" fill="#333" stroke="#333" stroke-width="0.25" textLength="24" lengthAdjust="spacingAndGlyphs" style="font-family:'Liberation Serif',serif">CIMH</text>
<defs><path id="arcT" d="M945.41,769.76 A30.40,30.40 0 0 1 997.50,767.94"/>
<path id="arcB" d="M939.38,796.05 A34.60,34.60 0 0 0 1004.71,795.76"/></defs>
<text font-size="4.9px" font-weight="bold" fill="#3a3a3a" style="font-family:'Liberation Serif',serif" textLength="62.6" lengthAdjust="spacing"><textPath href="#arcT" textLength="62.6" lengthAdjust="spacing">Caribbean Institute for</textPath></text>
<text font-size="4.9px" font-weight="bold" fill="#3a3a3a" style="font-family:'Liberation Serif',serif" textLength="85.4" lengthAdjust="spacing"><textPath href="#arcB" textLength="85.4" lengthAdjust="spacing">Meteorology and Hydrology</textPath></text>
</g>
<path d="M0,0H1030V843H0Z M4,4V838H1025V4Z" fill="#000" fill-rule="evenodd"/>
</svg></body></html>
